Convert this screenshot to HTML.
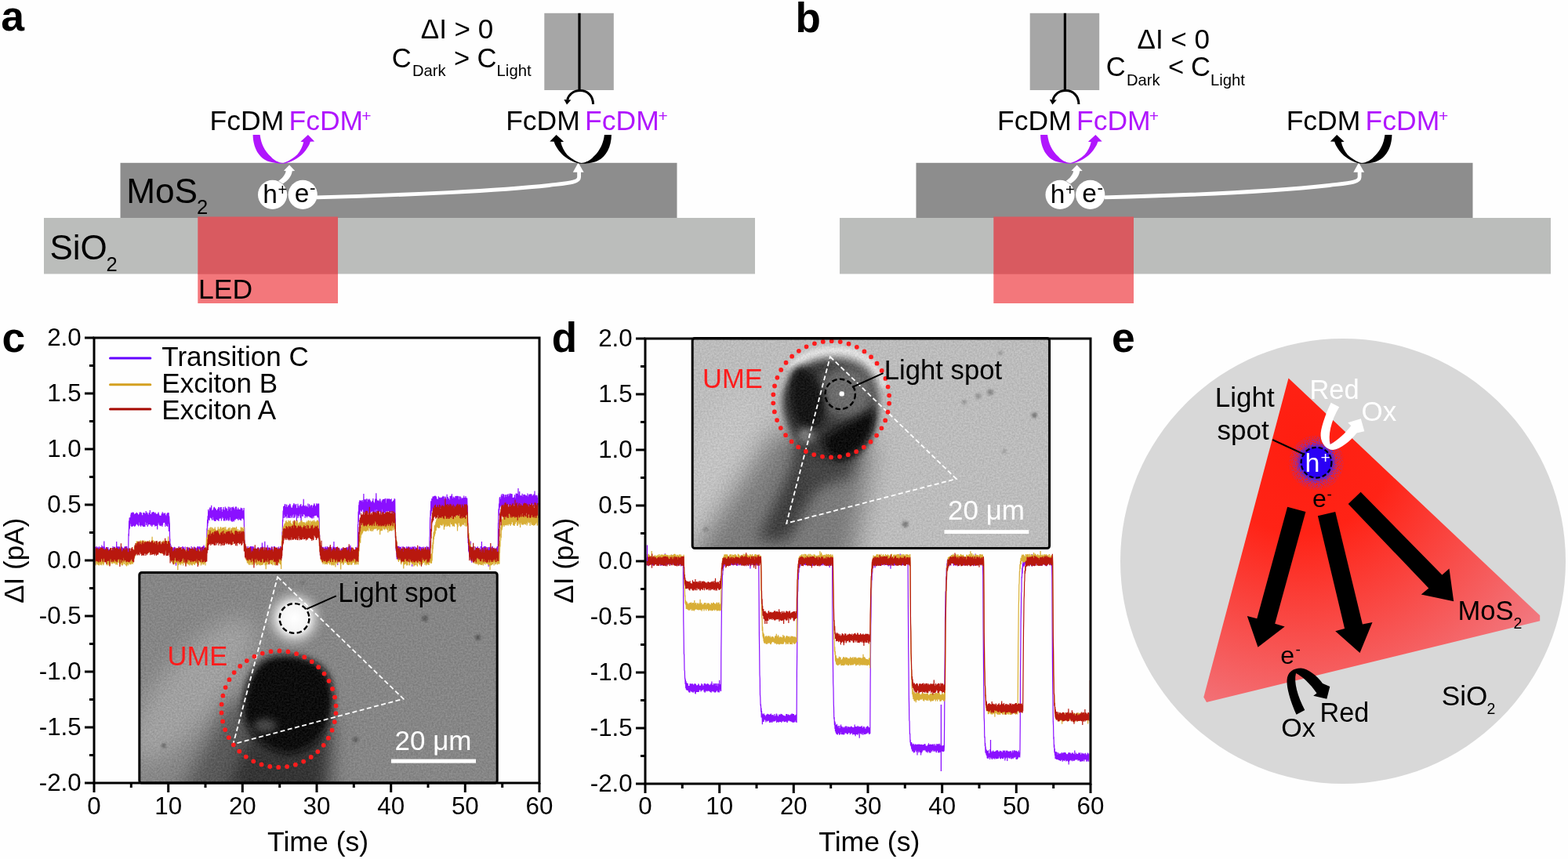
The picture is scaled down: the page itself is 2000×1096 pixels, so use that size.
<!DOCTYPE html>
<html><head><meta charset="utf-8"><title>Figure</title>
<style>html,body{margin:0;padding:0;background:#fefefe;overflow:hidden}svg{display:block}text{font-family:"Liberation Sans",Arial,sans-serif}</style>
</head><body>
<svg width="2000" height="1096" viewBox="0 0 2000 1096">
<defs>
<clipPath id="clipc"><rect x="121.5" y="432.5" width="565" height="565"/></clipPath>
<clipPath id="clipd"><rect x="824.5" y="433.5" width="565" height="565"/></clipPath>
<clipPath id="clipic"><rect x="177.8" y="730.4" width="456.4" height="268.6"/></clipPath>
<clipPath id="clipid"><rect x="883.2" y="431.4" width="455.4" height="268.2"/></clipPath>
<filter id="blur14" x="-50%" y="-50%" width="200%" height="200%"><feGaussianBlur stdDeviation="14"/></filter>
<filter id="blur15" x="-50%" y="-50%" width="200%" height="200%"><feGaussianBlur stdDeviation="1.5"/></filter>
<filter id="blur3" x="-50%" y="-50%" width="200%" height="200%"><feGaussianBlur stdDeviation="3"/></filter>
<filter id="blur5" x="-50%" y="-50%" width="200%" height="200%"><feGaussianBlur stdDeviation="5"/></filter>
<filter id="blur7" x="-50%" y="-50%" width="200%" height="200%"><feGaussianBlur stdDeviation="7"/></filter>
<filter id="blur9" x="-50%" y="-50%" width="200%" height="200%"><feGaussianBlur stdDeviation="9"/></filter>
<filter id="blur10" x="-50%" y="-50%" width="200%" height="200%"><feGaussianBlur stdDeviation="10"/></filter>
<filter id="blur12" x="-50%" y="-50%" width="200%" height="200%"><feGaussianBlur stdDeviation="12"/></filter>
<filter id="blur4" x="-50%" y="-50%" width="200%" height="200%"><feGaussianBlur stdDeviation="4"/></filter>
<filter id="blur6" x="-50%" y="-50%" width="200%" height="200%"><feGaussianBlur stdDeviation="6"/></filter>
<filter id="blur8" x="-50%" y="-50%" width="200%" height="200%"><feGaussianBlur stdDeviation="8"/></filter>
<filter id="blur16" x="-50%" y="-50%" width="200%" height="200%"><feGaussianBlur stdDeviation="16"/></filter>
<filter id="blur18" x="-50%" y="-50%" width="200%" height="200%"><feGaussianBlur stdDeviation="18"/></filter>
<filter id="blur25" x="-50%" y="-50%" width="200%" height="200%"><feGaussianBlur stdDeviation="25"/></filter>
<filter id="grain" x="0" y="0" width="100%" height="100%" color-interpolation-filters="sRGB"><feTurbulence type="fractalNoise" baseFrequency="0.45" numOctaves="2" seed="5" result="n"/><feColorMatrix in="n" type="matrix" values="1 0 0 0 0  1 0 0 0 0  1 0 0 0 0  0 0 0 0 1" result="g"/><feComposite in="SourceGraphic" in2="g" operator="arithmetic" k1="0" k2="1" k3="0.16" k4="-0.08"/></filter>
<filter id="speck" x="-10%" y="-10%" width="120%" height="120%"><feTurbulence type="fractalNoise" baseFrequency="0.9" numOctaves="1" seed="11" result="n"/><feComponentTransfer in="n" result="m"><feFuncA type="discrete" tableValues="0 0 1 1"/></feComponentTransfer><feComposite in="SourceGraphic" in2="m" operator="in"/></filter>
<radialGradient id="hglow2"><stop offset="0" stop-color="#4a28f0"/><stop offset="0.6" stop-color="#5a30e0"/><stop offset="1" stop-color="#7a38c8" stop-opacity="0.15"/></radialGradient>
<radialGradient id="hglow3"><stop offset="0.7" stop-color="#3a1ef4"/><stop offset="1" stop-color="#4a28e8" stop-opacity="0"/></radialGradient>
<filter id="noise"><feTurbulence type="fractalNoise" baseFrequency="0.9" numOctaves="1" seed="3"/><feColorMatrix type="saturate" values="0"/></filter>
<radialGradient id="glowc"><stop offset="0" stop-color="#fff"/><stop offset="0.45" stop-color="#f4f4f4"/><stop offset="1" stop-color="#8c8c8c" stop-opacity="0"/></radialGradient>
<radialGradient id="hglow"><stop offset="0.5" stop-color="#3a2af0"/><stop offset="0.62" stop-color="#6236d8" stop-opacity="0.95"/><stop offset="0.85" stop-color="#8a3cb8" stop-opacity="0.6"/><stop offset="1" stop-color="#ff2010" stop-opacity="0"/></radialGradient>
<radialGradient id="trig" cx="1660" cy="560" r="400" gradientUnits="userSpaceOnUse"><stop offset="0" stop-color="#ff1e10"/><stop offset="0.3" stop-color="#ff2316"/><stop offset="1" stop-color="#f07f88"/></radialGradient>
</defs>
<rect width="2000" height="1096" fill="#fefefe"/>
<text x="1.3" y="39" font-size="53.5" fill="#000" font-weight="bold">a</text>
<rect x="56" y="278" width="907" height="71.5" fill="#bbbdbb"/>
<rect x="153.5" y="207.8" width="710" height="70.2" fill="#8d8d8d"/>
<rect x="252.3" y="348.5" width="178.7" height="38.5" fill="#f3777b"/>
<rect x="252.3" y="276.5" width="178.7" height="73.2" fill="#d95a60"/>
<path d="M404,251.8 C520,249 640,243 700,236.5 C725,233.5 738.6,233 738.6,226 L738.6,218" fill="none" stroke="#fff" stroke-width="4.8"/>
<polygon points="737.6,207.5 730.8,219.8 744.6,219.8" fill="#fff"/>
<circle cx="347.6" cy="248.4" r="18.6" fill="#fff"/>
<circle cx="386.2" cy="248.4" r="18.6" fill="#fff"/>
<text x="335.2" y="259.4" font-size="33.5" fill="#000">h</text>
<text x="354.4" y="248.6" font-size="20" fill="#000">+</text>
<text x="375.8" y="258.2" font-size="33.5" fill="#000">e</text>
<text x="395.0" y="246.6" font-size="22.5" fill="#000">-</text>
<path d="M369.1,210.4 L376.2,218.0 L372.7,218.2 C372.0,225.0 366.5,231.0 360.7,234.5 L355.2,230.8 C359.5,228.0 364.0,223.0 364.7,218.2 L362.0,217.8 Z" fill="#fff"/>
<path d="M322.6,171.9 C322.8,188.0 330.0,202.0 343.5,206.3 C349.0,208.0 355.0,208.7 360.1,208.7 C368.0,208.5 377.0,204.0 383.9,198.3 C390.0,192.5 394.5,186.0 395.8,180.7 L401.2,180.4 L392.9,171.9 L383.4,180.7 L387.2,181.2 C386.0,187.0 383.0,193.0 379.1,197.3 C374.0,202.0 367.0,206.5 361.1,208.0 C355.0,207.5 349.0,204.0 345.9,200.2 C337.0,192.0 333.0,183.0 331.6,171.9 Z" fill="#b016fd"/>
<text x="267.6" y="165.7" font-size="35.5" fill="#000">FcDM</text>
<text x="368.5" y="165.7" font-size="35.5" fill="#b016fd">FcDM</text>
<text x="461.3" y="155.2" font-size="21" fill="#b016fd">+</text>
<text x="645.2" y="165.6" font-size="35.5" fill="#000">FcDM</text>
<text x="746.1" y="165.6" font-size="35.5" fill="#b016fd">FcDM</text>
<text x="839.4" y="155.2" font-size="21" fill="#b016fd">+</text>
<path d="M779.9,172.0 C779.7,188.1 772.5,202.1 759.0,206.4 C753.5,208.1 747.5,208.8 742.4,208.8 C734.5,208.6 725.5,204.1 718.6,198.4 C712.5,192.6 708.0,186.1 706.7,180.8 L701.3,180.5 L709.6,172.0 L719.1,180.8 L715.3,181.3 C716.5,187.1 719.5,193.1 723.4,197.4 C728.5,202.1 735.5,206.6 741.4,208.1 C747.5,207.6 753.5,204.1 756.6,200.3 C765.5,192.1 769.5,183.1 770.9,172.0 Z" fill="#000"/>
<rect x="694.3" y="16.8" width="88.5" height="98.2" fill="#a6a6a6"/>
<line x1="739.0" y1="16.8" x2="739.0" y2="116" stroke="#000" stroke-width="3.2"/>
<path d="M756.5,133 C756.5,122 749.0,115.6 740.0,115.6 C731.0,115.6 725.0,121 723.8,127.5" fill="none" stroke="#000" stroke-width="3"/>
<polygon points="719.4,127 723.0,133.5 728.4,127.4" fill="#000"/>
<text x="161.2" y="258.7" font-size="44.2" fill="#000">MoS</text>
<text x="251" y="273.2" font-size="25.5" fill="#000">2</text>
<text x="63.4" y="330.9" font-size="44" fill="#000">SiO</text>
<text x="135.6" y="345.8" font-size="25.5" fill="#000">2</text>
<text x="253" y="380.7" font-size="35.5" fill="#000">LED</text>
<text x="536.8" y="49" font-size="35" fill="#000">ΔI &gt; 0</text>
<text x="499.8" y="86" font-size="34.5" fill="#000">C</text>
<text x="526" y="96.9" font-size="20.2" fill="#000">Dark</text>
<text x="579" y="86" font-size="34.5" fill="#000">&gt;</text>
<text x="608.6" y="86" font-size="34.5" fill="#000">C</text>
<text x="633.6" y="96.9" font-size="20.3" fill="#000">Light</text>
<text x="1014.5" y="41.3" font-size="53" fill="#000" font-weight="bold">b</text>
<rect x="1071" y="278" width="907" height="71.5" fill="#bbbdbb"/>
<rect x="1168.5" y="207.8" width="710" height="70.2" fill="#8d8d8d"/>
<rect x="1267.3" y="348.5" width="178.7" height="38.5" fill="#f3777b"/>
<rect x="1267.3" y="276.5" width="178.7" height="73.2" fill="#d95a60"/>
<path d="M1408.5,251.8 C1524.5,249 1635.5,243 1695.5,236.5 C1720.5,233.5 1734.1,233 1734.1,226 L1734.1,218" fill="none" stroke="#fff" stroke-width="4.8"/>
<polygon points="1733.1,207.5 1726.3,219.8 1740.1,219.8" fill="#fff"/>
<circle cx="1352.1" cy="248.4" r="18.6" fill="#fff"/>
<circle cx="1390.7" cy="248.4" r="18.6" fill="#fff"/>
<text x="1339.7" y="259.4" font-size="33.5" fill="#000">h</text>
<text x="1358.9" y="248.6" font-size="20" fill="#000">+</text>
<text x="1380.3" y="258.2" font-size="33.5" fill="#000">e</text>
<text x="1399.5" y="246.6" font-size="22.5" fill="#000">-</text>
<path d="M1373.6,210.4 L1380.7,218.0 L1377.2,218.2 C1376.5,225.0 1371.0,231.0 1365.2,234.5 L1359.7,230.8 C1364.0,228.0 1368.5,223.0 1369.2,218.2 L1366.5,217.8 Z" fill="#fff"/>
<path d="M1327.1,171.9 C1327.3,188.0 1334.5,202.0 1348.0,206.3 C1353.5,208.0 1359.5,208.7 1364.6,208.7 C1372.5,208.5 1381.5,204.0 1388.4,198.3 C1394.5,192.5 1399.0,186.0 1400.3,180.7 L1405.7,180.4 L1397.4,171.9 L1387.9,180.7 L1391.7,181.2 C1390.5,187.0 1387.5,193.0 1383.6,197.3 C1378.5,202.0 1371.5,206.5 1365.6,208.0 C1359.5,207.5 1353.5,204.0 1350.4,200.2 C1341.5,192.0 1337.5,183.0 1336.1,171.9 Z" fill="#b016fd"/>
<text x="1272.1" y="165.7" font-size="35.5" fill="#000">FcDM</text>
<text x="1373.0" y="165.7" font-size="35.5" fill="#b016fd">FcDM</text>
<text x="1465.8" y="155.2" font-size="21" fill="#b016fd">+</text>
<text x="1640.7" y="165.6" font-size="35.5" fill="#000">FcDM</text>
<text x="1741.6" y="165.6" font-size="35.5" fill="#b016fd">FcDM</text>
<text x="1834.9" y="155.2" font-size="21" fill="#b016fd">+</text>
<path d="M1775.4,172.0 C1775.2,188.1 1768.0,202.1 1754.5,206.4 C1749.0,208.1 1743.0,208.8 1737.9,208.8 C1730.0,208.6 1721.0,204.1 1714.1,198.4 C1708.0,192.6 1703.5,186.1 1702.2,180.8 L1696.8,180.5 L1705.1,172.0 L1714.6,180.8 L1710.8,181.3 C1712.0,187.1 1715.0,193.1 1718.9,197.4 C1724.0,202.1 1731.0,206.6 1736.9,208.1 C1743.0,207.6 1749.0,204.1 1752.1,200.3 C1761.0,192.1 1765.0,183.1 1766.4,172.0 Z" fill="#000"/>
<rect x="1313.7" y="16.8" width="88.5" height="98.2" fill="#a6a6a6"/>
<line x1="1358.4" y1="16.8" x2="1358.4" y2="116" stroke="#000" stroke-width="3.2"/>
<path d="M1375.9,133 C1375.9,122 1368.4,115.6 1359.4,115.6 C1350.4,115.6 1344.4,121 1343.2,127.5" fill="none" stroke="#000" stroke-width="3"/>
<polygon points="1338.8000000000002,127 1342.4,133.5 1347.8000000000002,127.4" fill="#000"/>
<text x="1450.5" y="61.9" font-size="35" fill="#000">ΔI &lt; 0</text>
<text x="1410.7" y="96.7" font-size="34.5" fill="#000">C</text>
<text x="1437" y="108.5" font-size="20.2" fill="#000">Dark</text>
<text x="1490" y="96.7" font-size="34.5" fill="#000">&lt;</text>
<text x="1519" y="96.7" font-size="34.5" fill="#000">C</text>
<text x="1544" y="108.5" font-size="20.3" fill="#000">Light</text>
<text x="2.6" y="448.6" font-size="53.5" fill="#000" font-weight="bold">c</text>
<g clip-path="url(#clipc)">
<polyline points="120.0,710.3 120.3,698.2 120.6,713.0 120.9,698.9 121.1,712.4 121.4,697.8 121.7,720.5 122.0,700.3 122.3,711.1 122.6,697.4 122.8,709.3 123.1,697.2 123.4,711.0 123.7,703.6 124.0,712.6 124.3,701.8 124.5,711.0 124.8,697.8 125.1,715.2 125.4,699.0 125.7,716.1 126.0,702.7 126.2,714.5 126.5,697.2 126.8,715.1 127.1,701.3 127.4,715.4 127.7,699.9 128.0,709.4 128.2,698.0 128.5,710.7 128.8,698.6 129.1,712.2 129.4,699.9 129.7,713.2 129.9,695.4 130.2,709.5 130.5,696.9 130.8,712.3 131.1,699.9 131.4,714.8 131.6,697.6 131.9,713.1 132.2,699.4 132.5,711.4 132.8,690.5 133.1,714.9 133.3,697.5 133.6,715.0 133.9,699.5 134.2,709.6 134.5,699.4 134.8,713.1 135.1,700.9 135.3,713.3 135.6,699.2 135.9,709.3 136.2,702.3 136.5,715.3 136.8,698.0 137.0,711.3 137.3,698.8 137.6,711.0 137.9,698.3 138.2,710.1 138.5,701.0 138.7,710.6 139.0,702.3 139.3,714.4 139.6,701.1 139.9,709.3 140.2,700.4 140.4,710.1 140.7,699.8 141.0,713.7 141.3,701.8 141.6,710.5 141.9,702.4 142.2,714.2 142.4,701.9 142.7,714.9 143.0,701.9 143.3,712.3 143.6,701.1 143.9,709.6 144.1,697.0 144.4,711.7 144.7,701.2 145.0,714.6 145.3,698.3 145.6,715.4 145.8,697.9 146.1,713.5 146.4,697.6 146.7,714.4 147.0,700.7 147.3,710.9 147.5,700.4 147.8,710.1 148.1,701.3 148.4,711.8 148.7,691.1 149.0,710.9 149.3,696.9 149.5,711.9 149.8,698.8 150.1,715.7 150.4,697.5 150.7,712.9 151.0,701.8 151.2,709.9 151.5,697.3 151.8,714.7 152.1,697.8 152.4,712.0 152.7,697.6 152.9,715.9 153.2,702.6 153.5,710.1 153.8,703.2 154.1,714.9 154.4,701.0 154.6,714.8 154.9,699.4 155.2,709.9 155.5,697.5 155.8,715.7 156.1,701.5 156.4,721.2 156.6,698.8 156.9,710.2 157.2,703.5 157.5,716.1 157.8,702.8 158.1,711.2 158.3,702.9 158.6,712.2 158.9,697.4 159.2,711.3 159.5,702.9 159.8,711.5 160.0,696.9 160.3,713.7 160.6,701.2 160.9,715.6 161.2,697.0 161.5,711.0 161.7,696.9 162.0,714.3 162.3,701.6 162.6,711.7 162.9,703.1 163.2,716.0 163.5,698.9 163.7,706.1 164.0,680.8 164.3,684.0 164.6,664.6 164.9,675.5 165.2,660.6 165.4,674.2 165.7,660.2 166.0,671.1 166.3,660.3 166.6,668.4 166.9,656.5 167.1,666.9 167.4,654.3 167.7,672.0 168.0,654.3 168.3,671.1 168.6,658.9 168.8,671.7 169.1,653.5 169.4,671.6 169.7,657.2 170.0,671.0 170.3,653.7 170.6,670.3 170.8,656.3 171.1,670.4 171.4,657.6 171.7,671.9 172.0,655.6 172.3,671.2 172.5,656.6 172.8,670.7 173.1,654.9 173.4,669.5 173.7,656.9 174.0,666.2 174.2,653.8 174.5,668.4 174.8,654.5 175.1,669.2 175.4,654.9 175.7,670.2 175.9,657.7 176.2,668.9 176.5,656.5 176.8,671.6 177.1,657.5 177.4,665.5 177.7,655.8 177.9,666.5 178.2,653.5 178.5,670.3 178.8,656.8 179.1,670.5 179.4,653.6 179.6,671.9 179.9,658.2 180.2,667.0 180.5,654.2 180.8,670.2 181.1,656.9 181.3,666.6 181.6,659.5 181.9,671.0 182.2,657.5 182.5,671.9 182.8,654.1 183.0,670.1 183.3,656.3 183.6,671.9 183.9,654.0 184.2,666.6 184.5,658.7 184.8,671.9 185.0,655.2 185.3,666.2 185.6,657.7 185.9,665.0 186.2,652.0 186.5,669.9 186.7,653.8 187.0,667.5 187.3,657.5 187.6,667.3 187.9,654.0 188.2,672.0 188.4,655.9 188.7,670.7 189.0,656.7 189.3,666.1 189.6,658.7 189.9,669.3 190.1,654.2 190.4,666.3 190.7,655.4 191.0,669.1 191.3,651.0 191.6,668.6 191.9,657.2 192.1,670.8 192.4,655.9 192.7,668.2 193.0,660.0 193.3,669.7 193.6,653.8 193.8,672.0 194.1,653.8 194.4,670.6 194.7,657.2 195.0,669.8 195.3,652.9 195.5,668.3 195.8,656.5 196.1,669.6 196.4,653.4 196.7,669.0 197.0,655.0 197.2,669.9 197.5,655.0 197.8,671.7 198.1,653.7 198.4,671.0 198.7,656.9 199.0,670.4 199.2,655.6 199.5,671.1 199.8,656.1 200.1,669.1 200.4,656.4 200.7,675.4 200.9,655.8 201.2,670.3 201.5,654.7 201.8,666.9 202.1,653.5 202.4,665.8 202.6,655.7 202.9,669.1 203.2,658.3 203.5,670.4 203.8,657.5 204.1,667.1 204.3,658.3 204.6,671.3 204.9,657.9 205.2,670.4 205.5,659.6 205.8,669.8 206.1,656.3 206.3,670.8 206.6,655.1 206.9,672.0 207.2,653.3 207.5,669.7 207.8,655.7 208.0,666.4 208.3,656.8 208.6,667.2 208.9,654.5 209.2,666.1 209.5,655.9 209.7,666.8 210.0,655.2 210.3,667.0 210.6,654.6 210.9,671.9 211.2,657.0 211.4,666.2 211.7,658.9 212.0,669.0 212.3,658.3 212.6,671.1 212.9,655.4 213.2,670.4 213.4,655.3 213.7,672.1 214.0,654.0 214.3,667.8 214.6,655.4 214.9,668.4 215.1,654.2 215.4,678.0 215.7,658.5 216.0,665.6 216.3,668.4 216.6,691.6 216.8,687.4 217.1,704.1 217.4,693.8 217.7,707.1 218.0,695.4 218.3,711.8 218.5,697.1 218.8,712.7 219.1,698.2 219.4,709.1 219.7,698.9 220.0,713.5 220.3,699.6 220.5,711.9 220.8,702.0 221.1,712.5 221.4,698.5 221.7,714.4 222.0,701.6 222.2,710.5 222.5,697.7 222.8,709.6 223.1,697.9 223.4,712.2 223.7,703.5 223.9,712.7 224.2,700.6 224.5,721.7 224.8,699.7 225.1,715.0 225.4,703.6 225.6,714.5 225.9,702.7 226.2,715.0 226.5,701.3 226.8,711.2 227.1,701.1 227.4,714.9 227.6,699.4 227.9,714.0 228.2,696.9 228.5,715.2 228.8,699.7 229.1,715.1 229.3,702.4 229.6,713.2 229.9,701.0 230.2,709.5 230.5,698.9 230.8,711.6 231.0,701.1 231.3,713.1 231.6,702.5 231.9,711.8 232.2,703.2 232.5,712.9 232.7,697.2 233.0,715.0 233.3,697.3 233.6,710.3 233.9,699.4 234.2,714.9 234.5,698.3 234.7,715.8 235.0,700.6 235.3,716.0 235.6,702.3 235.9,714.3 236.2,697.4 236.4,712.5 236.7,703.4 237.0,713.4 237.3,702.9 237.6,713.9 237.9,703.1 238.1,715.3 238.4,702.3 238.7,709.2 239.0,697.7 239.3,711.5 239.6,699.3 239.8,715.5 240.1,698.8 240.4,715.8 240.7,698.5 241.0,716.1 241.3,702.1 241.6,714.8 241.8,700.0 242.1,715.4 242.4,699.4 242.7,715.3 243.0,702.1 243.3,719.7 243.5,702.7 243.8,715.5 244.1,697.0 244.4,713.5 244.7,699.7 245.0,715.1 245.2,700.5 245.5,711.7 245.8,699.9 246.1,713.4 246.4,702.4 246.7,716.1 246.9,699.5 247.2,712.4 247.5,697.4 247.8,715.5 248.1,697.7 248.4,712.8 248.7,700.8 248.9,712.9 249.2,700.2 249.5,712.1 249.8,703.8 250.1,711.4 250.4,699.3 250.6,716.1 250.9,699.8 251.2,714.3 251.5,698.1 251.8,714.4 252.1,697.0 252.3,710.0 252.6,697.0 252.9,709.3 253.2,700.0 253.5,712.4 253.8,697.8 254.0,713.8 254.3,699.6 254.6,712.0 254.9,697.0 255.2,713.4 255.5,698.8 255.8,711.4 256.0,700.0 256.3,715.3 256.6,698.8 256.9,712.3 257.2,701.3 257.5,715.6 257.7,697.7 258.0,712.3 258.3,702.1 258.6,712.5 258.9,696.9 259.2,713.0 259.4,699.6 259.7,714.7 260.0,695.5 260.3,716.1 260.6,697.3 260.9,711.4 261.1,700.3 261.4,715.2 261.7,701.5 262.0,712.5 262.3,702.1 262.6,713.7 262.9,699.7 263.1,710.5 263.4,701.5 263.7,695.6 264.0,674.2 264.3,677.9 264.6,663.1 264.8,671.6 265.1,658.2 265.4,667.5 265.7,650.0 266.0,663.1 266.3,651.9 266.5,660.8 266.8,653.2 267.1,664.3 267.4,648.6 267.7,660.7 268.0,647.2 268.2,660.4 268.5,650.9 268.8,659.5 269.1,648.4 269.4,661.6 269.7,644.7 270.0,661.5 270.2,651.3 270.5,663.8 270.8,652.7 271.1,659.7 271.4,651.1 271.7,658.9 271.9,650.2 272.2,663.5 272.5,648.3 272.8,662.7 273.1,646.7 273.4,664.6 273.6,647.3 273.9,665.0 274.2,648.3 274.5,662.8 274.8,649.3 275.1,665.1 275.3,649.2 275.6,662.7 275.9,651.5 276.2,662.9 276.5,651.1 276.8,662.5 277.1,652.5 277.3,663.6 277.6,649.2 277.9,664.1 278.2,653.2 278.5,663.8 278.8,646.9 279.0,665.0 279.3,647.3 279.6,661.5 279.9,652.0 280.2,661.8 280.5,652.3 280.7,661.0 281.0,647.6 281.3,658.6 281.6,646.9 281.9,661.8 282.2,647.1 282.4,664.4 282.7,650.0 283.0,662.0 283.3,653.0 283.6,659.0 283.9,653.6 284.2,659.7 284.4,649.4 284.7,661.0 285.0,646.9 285.3,664.6 285.6,651.3 285.9,660.8 286.1,650.5 286.4,664.4 286.7,650.8 287.0,661.6 287.3,646.4 287.6,659.2 287.8,650.3 288.1,664.6 288.4,648.2 288.7,662.8 289.0,648.4 289.3,660.3 289.5,649.6 289.8,664.0 290.1,653.3 290.4,661.8 290.7,651.9 291.0,659.6 291.3,646.6 291.5,664.4 291.8,649.7 292.1,664.4 292.4,651.7 292.7,662.9 293.0,646.8 293.2,660.1 293.5,649.9 293.8,659.4 294.1,647.8 294.4,664.5 294.7,652.0 294.9,664.7 295.2,653.4 295.5,663.5 295.8,646.9 296.1,666.0 296.4,647.6 296.6,665.2 296.9,650.6 297.2,664.4 297.5,646.6 297.8,663.2 298.1,650.0 298.4,665.4 298.6,648.2 298.9,663.6 299.2,651.3 299.5,659.8 299.8,650.3 300.1,663.6 300.3,646.5 300.6,658.7 300.9,650.8 301.2,662.1 301.5,646.5 301.8,661.4 302.0,649.8 302.3,662.1 302.6,650.2 302.9,660.5 303.2,650.5 303.5,663.1 303.7,647.7 304.0,664.1 304.3,652.1 304.6,661.6 304.9,649.7 305.2,659.9 305.5,651.7 305.7,662.9 306.0,650.0 306.3,663.2 306.6,650.2 306.9,663.5 307.2,647.7 307.4,664.2 307.7,648.3 308.0,659.9 308.3,652.8 308.6,661.8 308.9,648.5 309.1,661.7 309.4,651.5 309.7,661.6 310.0,652.6 310.3,660.6 310.6,651.0 310.8,663.2 311.1,647.9 311.4,670.4 311.7,674.2 312.0,697.3 312.3,690.1 312.6,705.2 312.8,696.0 313.1,706.1 313.4,695.7 313.7,710.3 314.0,701.3 314.3,713.8 314.5,702.1 314.8,714.3 315.1,699.7 315.4,711.2 315.7,698.7 316.0,713.0 316.2,696.9 316.5,712.5 316.8,702.9 317.1,710.3 317.4,700.2 317.7,711.0 317.9,699.6 318.2,715.6 318.5,698.8 318.8,712.5 319.1,697.1 319.4,710.8 319.7,699.8 319.9,712.1 320.2,696.9 320.5,709.7 320.8,700.2 321.1,710.7 321.4,697.4 321.6,709.5 321.9,696.9 322.2,712.3 322.5,698.0 322.8,714.0 323.1,697.4 323.3,715.8 323.6,697.4 323.9,712.6 324.2,701.2 324.5,713.6 324.8,701.5 325.0,714.9 325.3,700.5 325.6,714.9 325.9,702.8 326.2,709.1 326.5,701.0 326.8,713.4 327.0,699.4 327.3,713.9 327.6,700.3 327.9,721.0 328.2,702.4 328.5,711.0 328.7,702.5 329.0,711.8 329.3,697.9 329.6,715.3 329.9,703.5 330.2,713.9 330.4,701.6 330.7,713.4 331.0,699.1 331.3,710.7 331.6,701.5 331.9,711.5 332.1,701.6 332.4,711.5 332.7,698.4 333.0,715.4 333.3,697.9 333.6,711.8 333.9,697.7 334.1,712.7 334.4,692.6 334.7,711.8 335.0,697.5 335.3,713.6 335.6,697.6 335.8,716.0 336.1,702.8 336.4,713.6 336.7,701.6 337.0,709.6 337.3,701.0 337.5,714.5 337.8,690.7 338.1,716.0 338.4,701.7 338.7,709.1 339.0,703.1 339.2,709.4 339.5,702.0 339.8,713.0 340.1,700.6 340.4,710.9 340.7,698.7 341.0,715.7 341.2,695.6 341.5,709.2 341.8,699.1 342.1,715.9 342.4,698.6 342.7,709.8 342.9,698.6 343.2,715.9 343.5,699.5 343.8,713.1 344.1,698.7 344.4,715.3 344.6,700.1 344.9,714.2 345.2,699.5 345.5,713.8 345.8,701.2 346.1,709.5 346.3,697.5 346.6,712.7 346.9,697.3 347.2,713.9 347.5,700.3 347.8,712.1 348.1,703.9 348.3,714.6 348.6,703.8 348.9,713.6 349.2,697.6 349.5,709.9 349.8,696.9 350.0,710.3 350.3,697.1 350.6,711.1 350.9,698.6 351.2,714.7 351.5,699.4 351.7,711.6 352.0,699.7 352.3,715.4 352.6,702.1 352.9,713.8 353.2,699.1 353.4,712.3 353.7,702.5 354.0,714.6 354.3,704.0 354.6,711.7 354.9,698.8 355.2,712.2 355.4,697.6 355.7,711.8 356.0,699.4 356.3,713.4 356.6,703.9 356.9,709.9 357.1,699.9 357.4,714.6 357.7,696.9 358.0,712.2 358.3,702.9 358.6,713.1 358.8,697.3 359.1,712.0 359.4,703.3 359.7,703.2 360.0,678.5 360.3,681.1 360.5,663.1 360.8,665.7 361.1,651.4 361.4,661.0 361.7,645.9 362.0,660.9 362.3,647.9 362.5,655.5 362.8,645.0 363.1,656.8 363.4,643.0 363.7,660.5 364.0,648.0 364.2,655.9 364.5,646.8 364.8,659.0 365.1,643.4 365.4,655.6 365.7,643.7 365.9,661.2 366.2,647.2 366.5,656.6 366.8,647.0 367.1,656.6 367.4,646.3 367.6,660.7 367.9,644.5 368.2,657.6 368.5,647.0 368.8,660.7 369.1,644.6 369.4,655.1 369.6,642.8 369.9,661.0 370.2,643.6 370.5,658.1 370.8,645.9 371.1,654.5 371.3,647.7 371.6,660.7 371.9,647.8 372.2,659.2 372.5,648.4 372.8,656.5 373.0,647.6 373.3,657.1 373.6,644.9 373.9,661.0 374.2,644.0 374.5,656.1 374.7,642.2 375.0,656.2 375.3,642.4 375.6,660.7 375.9,643.4 376.2,659.5 376.5,648.1 376.7,654.7 377.0,644.5 377.3,656.3 377.6,643.0 377.9,657.7 378.2,648.7 378.4,665.1 378.7,648.3 379.0,657.5 379.3,647.9 379.6,657.1 379.9,642.7 380.1,660.9 380.4,645.7 380.7,658.9 381.0,645.2 381.3,657.9 381.6,647.4 381.8,655.7 382.1,647.7 382.4,654.9 382.7,644.5 383.0,660.7 383.3,644.3 383.6,657.3 383.8,643.1 384.1,668.1 384.4,646.5 384.7,654.7 385.0,646.1 385.3,655.7 385.5,646.5 385.8,658.8 386.1,644.6 386.4,658.9 386.7,645.8 387.0,655.0 387.2,636.8 387.5,656.1 387.8,646.5 388.1,656.6 388.4,645.3 388.7,656.9 388.9,648.8 389.2,661.0 389.5,646.2 389.8,658.8 390.1,644.5 390.4,657.2 390.7,645.9 390.9,658.8 391.2,645.9 391.5,660.5 391.8,647.1 392.1,656.6 392.4,648.9 392.6,658.8 392.9,642.6 393.2,658.8 393.5,649.2 393.8,658.8 394.1,647.7 394.3,654.9 394.6,643.2 394.9,659.6 395.2,646.6 395.5,660.0 395.8,647.7 396.0,660.5 396.3,644.8 396.6,656.0 396.9,649.2 397.2,660.7 397.5,644.2 397.8,661.4 398.0,648.0 398.3,661.4 398.6,647.6 398.9,659.1 399.2,644.9 399.5,658.1 399.7,647.6 400.0,661.2 400.3,643.4 400.6,658.7 400.9,642.3 401.2,657.6 401.4,643.7 401.7,658.0 402.0,645.6 402.3,654.9 402.6,648.3 402.9,658.0 403.1,645.6 403.4,654.7 403.7,642.3 404.0,657.6 404.3,643.5 404.6,659.0 404.9,643.5 405.1,660.3 405.4,642.6 405.7,660.6 406.0,642.8 406.3,654.9 406.6,642.6 406.8,658.4 407.1,662.1 407.4,689.7 407.7,682.3 408.0,698.2 408.3,690.8 408.5,709.3 408.8,696.3 409.1,707.4 409.4,701.5 409.7,710.9 410.0,697.0 410.2,712.4 410.5,698.0 410.8,713.3 411.1,698.1 411.4,712.8 411.7,700.1 412.0,713.2 412.2,697.8 412.5,713.4 412.8,698.5 413.1,713.6 413.4,700.0 413.7,713.3 413.9,701.7 414.2,713.7 414.5,698.1 414.8,714.7 415.1,697.2 415.4,712.1 415.6,698.9 415.9,714.9 416.2,701.4 416.5,712.4 416.8,698.8 417.1,712.3 417.3,697.1 417.6,714.8 417.9,701.9 418.2,713.8 418.5,698.6 418.8,712.6 419.1,703.0 419.3,710.5 419.6,698.4 419.9,714.7 420.2,700.3 420.5,713.9 420.8,697.0 421.0,711.0 421.3,697.0 421.6,716.0 421.9,699.4 422.2,710.3 422.5,698.0 422.7,711.8 423.0,700.9 423.3,711.2 423.6,700.0 423.9,709.9 424.2,699.5 424.4,712.1 424.7,697.4 425.0,709.7 425.3,699.7 425.6,714.5 425.9,691.0 426.2,714.3 426.4,697.9 426.7,714.9 427.0,698.2 427.3,712.4 427.6,698.5 427.9,713.2 428.1,698.8 428.4,712.2 428.7,698.3 429.0,712.1 429.3,702.0 429.6,714.5 429.8,698.8 430.1,713.8 430.4,703.4 430.7,721.1 431.0,700.4 431.3,712.5 431.5,698.7 431.8,715.6 432.1,699.4 432.4,712.7 432.7,699.8 433.0,712.0 433.3,701.7 433.5,712.6 433.8,703.8 434.1,711.6 434.4,703.7 434.7,714.9 435.0,700.4 435.2,713.7 435.5,699.7 435.8,715.8 436.1,699.6 436.4,715.6 436.7,700.1 436.9,712.6 437.2,699.3 437.5,712.2 437.8,702.9 438.1,710.1 438.4,703.0 438.6,715.6 438.9,701.2 439.2,713.5 439.5,700.6 439.8,713.7 440.1,699.1 440.4,711.4 440.6,701.1 440.9,712.9 441.2,701.5 441.5,714.4 441.8,699.3 442.1,713.1 442.3,698.3 442.6,712.5 442.9,699.3 443.2,713.9 443.5,703.3 443.8,716.0 444.0,697.8 444.3,715.2 444.6,699.6 444.9,710.1 445.2,696.8 445.5,712.7 445.7,697.3 446.0,710.3 446.3,699.7 446.6,713.9 446.9,695.7 447.2,711.4 447.5,698.7 447.7,710.2 448.0,699.2 448.3,714.3 448.6,700.3 448.9,713.3 449.2,698.8 449.4,709.6 449.7,703.5 450.0,711.7 450.3,702.4 450.6,715.3 450.9,700.9 451.1,713.5 451.4,702.6 451.7,711.3 452.0,701.6 452.3,709.2 452.6,701.4 452.8,712.6 453.1,702.2 453.4,709.4 453.7,697.9 454.0,715.2 454.3,700.9 454.6,716.1 454.8,701.8 455.1,712.1 455.4,701.1 455.7,711.3 456.0,696.9 456.3,696.6 456.5,669.0 456.8,670.3 457.1,652.5 457.4,665.7 457.7,644.3 458.0,656.2 458.2,640.6 458.5,656.7 458.8,638.2 459.1,655.5 459.4,640.0 459.7,649.5 459.9,638.7 460.2,651.3 460.5,638.4 460.8,651.7 461.1,639.5 461.4,652.9 461.7,641.5 461.9,650.6 462.2,638.0 462.5,650.4 462.8,640.5 463.1,649.0 463.4,641.4 463.6,653.8 463.9,630.0 464.2,653.0 464.5,637.1 464.8,653.6 465.1,636.9 465.3,661.5 465.6,638.3 465.9,653.7 466.2,638.9 466.5,653.4 466.8,636.9 467.0,648.8 467.3,636.3 467.6,652.7 467.9,642.4 468.2,648.4 468.5,640.2 468.8,652.8 469.0,636.6 469.3,652.8 469.6,640.6 469.9,655.0 470.2,637.6 470.5,655.0 470.7,640.1 471.0,647.9 471.3,636.5 471.6,649.4 471.9,641.3 472.2,649.9 472.4,638.5 472.7,654.2 473.0,640.1 473.3,649.9 473.6,640.9 473.9,653.3 474.1,640.9 474.4,652.1 474.7,639.2 475.0,648.7 475.3,638.7 475.6,657.2 475.9,636.0 476.1,652.3 476.4,640.7 476.7,652.7 477.0,640.5 477.3,654.1 477.6,642.8 477.8,654.9 478.1,642.1 478.4,650.6 478.7,636.5 479.0,649.8 479.3,638.0 479.5,658.4 479.8,629.2 480.1,650.0 480.4,636.7 480.7,648.0 481.0,642.7 481.2,654.6 481.5,638.6 481.8,648.0 482.1,640.5 482.4,654.3 482.7,638.6 483.0,649.7 483.2,639.6 483.5,653.0 483.8,642.3 484.1,650.0 484.4,636.5 484.7,652.6 484.9,636.5 485.2,653.2 485.5,639.5 485.8,650.4 486.1,641.1 486.4,654.8 486.6,642.7 486.9,649.8 487.2,638.6 487.5,648.9 487.8,642.3 488.1,660.7 488.3,636.9 488.6,648.4 488.9,639.0 489.2,654.0 489.5,636.9 489.8,654.9 490.1,636.5 490.3,650.9 490.6,638.8 490.9,654.0 491.2,636.7 491.5,654.7 491.8,635.8 492.0,651.2 492.3,641.8 492.6,652.6 492.9,642.1 493.2,652.6 493.5,637.2 493.7,652.8 494.0,636.1 494.3,652.1 494.6,637.7 494.9,652.6 495.2,636.7 495.4,649.6 495.7,637.5 496.0,651.9 496.3,636.0 496.6,654.1 496.9,642.0 497.2,653.0 497.4,637.3 497.7,651.1 498.0,637.1 498.3,653.9 498.6,637.8 498.9,652.4 499.1,636.2 499.4,648.1 499.7,640.2 500.0,652.8 500.3,642.7 500.6,650.1 500.8,639.9 501.1,658.9 501.4,638.8 501.7,655.0 502.0,639.6 502.3,647.9 502.5,638.1 502.8,654.1 503.1,636.1 503.4,654.9 503.7,636.7 504.0,660.5 504.3,662.8 504.5,686.5 504.8,685.6 505.1,702.6 505.4,692.1 505.7,707.4 506.0,696.0 506.2,713.4 506.5,699.6 506.8,713.1 507.1,698.7 507.4,711.5 507.7,697.1 507.9,714.0 508.2,698.7 508.5,715.3 508.8,696.8 509.1,714.6 509.4,697.8 509.6,710.5 509.9,702.3 510.2,713.4 510.5,698.1 510.8,709.6 511.1,698.4 511.4,713.7 511.6,697.4 511.9,715.8 512.2,703.1 512.5,712.7 512.8,700.4 513.1,714.5 513.3,701.6 513.6,709.6 513.9,697.0 514.2,713.7 514.5,699.4 514.8,710.4 515.0,697.8 515.3,710.9 515.6,701.8 515.9,715.6 516.2,698.2 516.5,715.3 516.7,700.6 517.0,714.4 517.3,703.2 517.6,710.5 517.9,700.3 518.2,712.6 518.5,697.3 518.7,709.9 519.0,698.1 519.3,713.4 519.6,699.3 519.9,709.3 520.2,698.5 520.4,713.3 520.7,697.0 521.0,711.4 521.3,702.9 521.6,711.2 521.9,701.2 522.1,709.3 522.4,699.0 522.7,714.8 523.0,697.4 523.3,712.6 523.6,698.2 523.8,715.5 524.1,698.7 524.4,709.6 524.7,700.3 525.0,714.0 525.3,698.4 525.6,722.8 525.8,697.3 526.1,713.7 526.4,701.0 526.7,709.5 527.0,698.0 527.3,713.8 527.5,702.3 527.8,714.5 528.1,697.0 528.4,714.2 528.7,700.7 529.0,712.5 529.2,702.3 529.5,716.1 529.8,697.4 530.1,713.1 530.4,699.2 530.7,712.3 530.9,698.4 531.2,714.6 531.5,699.0 531.8,711.5 532.1,703.9 532.4,714.2 532.7,702.9 532.9,712.8 533.2,703.5 533.5,715.0 533.8,703.5 534.1,709.5 534.4,697.9 534.6,715.2 534.9,697.0 535.2,715.1 535.5,699.4 535.8,715.3 536.1,697.8 536.3,713.1 536.6,698.8 536.9,715.3 537.2,698.0 537.5,709.1 537.8,702.9 538.0,715.4 538.3,701.4 538.6,715.7 538.9,698.1 539.2,710.2 539.5,701.9 539.8,714.8 540.0,697.5 540.3,712.1 540.6,703.0 540.9,714.2 541.2,700.8 541.5,711.0 541.7,702.6 542.0,713.8 542.3,697.8 542.6,710.3 542.9,700.4 543.2,710.2 543.4,701.3 543.7,710.9 544.0,697.8 544.3,712.0 544.6,696.8 544.9,710.4 545.1,703.0 545.4,711.5 545.7,700.4 546.0,714.1 546.3,698.8 546.6,710.6 546.9,697.8 547.1,714.6 547.4,702.5 547.7,715.7 548.0,686.6 548.3,683.7 548.6,660.3 548.8,665.3 549.1,651.3 549.4,658.4 549.7,639.3 550.0,655.4 550.3,639.2 550.5,652.3 550.8,636.1 551.1,652.1 551.4,637.5 551.7,645.6 552.0,633.4 552.2,648.5 552.5,633.4 552.8,649.2 553.1,637.8 553.4,650.2 553.7,633.1 554.0,649.3 554.2,637.9 554.5,650.6 554.8,632.6 555.1,647.8 555.4,632.7 555.7,649.5 555.9,636.6 556.2,644.8 556.5,633.5 556.8,649.4 557.1,638.0 557.4,647.2 557.6,636.6 557.9,648.9 558.2,637.0 558.5,650.3 558.8,637.9 559.1,649.6 559.3,633.2 559.6,646.0 559.9,638.9 560.2,651.4 560.5,635.1 560.8,647.9 561.1,634.5 561.3,648.4 561.6,637.1 561.9,648.0 562.2,635.2 562.5,644.6 562.8,637.7 563.0,650.0 563.3,634.5 563.6,650.3 563.9,637.7 564.2,647.7 564.5,634.1 564.7,647.6 565.0,632.7 565.3,647.3 565.6,635.4 565.9,648.5 566.2,633.4 566.4,649.4 566.7,637.2 567.0,651.5 567.3,638.6 567.6,649.6 567.9,633.5 568.2,646.7 568.4,634.5 568.7,649.7 569.0,636.7 569.3,646.1 569.6,637.4 569.9,651.9 570.1,630.7 570.4,647.6 570.7,637.8 571.0,645.2 571.3,634.1 571.6,648.6 571.8,637.3 572.1,646.5 572.4,635.9 572.7,651.3 573.0,638.8 573.3,647.7 573.5,637.8 573.8,648.1 574.1,633.1 574.4,646.2 574.7,633.3 575.0,647.0 575.3,632.4 575.5,649.3 575.8,633.9 576.1,646.4 576.4,630.3 576.7,646.4 577.0,636.5 577.2,649.4 577.5,636.1 577.8,649.3 578.1,633.6 578.4,649.8 578.7,636.7 578.9,647.8 579.2,634.5 579.5,646.9 579.8,635.4 580.1,649.0 580.4,638.7 580.6,650.2 580.9,633.0 581.2,651.1 581.5,634.1 581.8,650.2 582.1,632.8 582.4,647.5 582.6,635.4 582.9,648.0 583.2,632.9 583.5,649.9 583.8,632.7 584.1,649.8 584.3,633.0 584.6,649.1 584.9,637.2 585.2,647.6 585.5,637.3 585.8,647.4 586.0,633.3 586.3,647.6 586.6,634.9 586.9,648.5 587.2,633.6 587.5,651.4 587.7,639.4 588.0,650.5 588.3,636.6 588.6,645.7 588.9,634.7 589.2,650.4 589.5,637.5 589.7,649.1 590.0,636.0 590.3,646.1 590.6,635.3 590.9,649.6 591.2,637.5 591.4,651.3 591.7,632.4 592.0,650.0 592.3,636.2 592.6,648.6 592.9,634.9 593.1,648.8 593.4,634.9 593.7,648.8 594.0,632.9 594.3,647.5 594.6,634.9 594.8,649.5 595.1,638.8 595.4,651.5 595.7,635.5 596.0,648.2 596.3,645.4 596.6,673.7 596.8,675.1 597.1,693.0 597.4,690.3 597.7,703.8 598.0,691.8 598.3,705.5 598.5,695.8 598.8,709.7 599.1,702.5 599.4,710.9 599.7,702.2 600.0,714.1 600.2,690.4 600.5,712.8 600.8,699.4 601.1,715.6 601.4,700.3 601.7,717.8 601.9,699.0 602.2,714.0 602.5,697.8 602.8,715.2 603.1,697.8 603.4,710.4 603.7,699.9 603.9,713.1 604.2,697.1 604.5,712.1 604.8,700.5 605.1,715.9 605.4,702.1 605.6,711.9 605.9,697.2 606.2,715.0 606.5,698.0 606.8,715.6 607.1,702.7 607.3,716.1 607.6,699.1 607.9,713.2 608.2,699.6 608.5,710.4 608.8,698.1 609.0,710.4 609.3,697.2 609.6,716.0 609.9,700.6 610.2,709.9 610.5,703.9 610.8,712.1 611.0,699.1 611.3,714.9 611.6,701.3 611.9,714.6 612.2,701.9 612.5,711.9 612.7,701.2 613.0,710.7 613.3,697.0 613.6,714.9 613.9,697.5 614.2,714.4 614.4,691.0 614.7,716.1 615.0,701.5 615.3,713.0 615.6,701.3 615.9,711.3 616.1,700.3 616.4,709.0 616.7,698.1 617.0,715.7 617.3,697.3 617.6,712.0 617.9,696.9 618.1,713.4 618.4,702.4 618.7,710.4 619.0,697.1 619.3,710.4 619.6,697.5 619.8,709.4 620.1,698.0 620.4,710.4 620.7,703.3 621.0,714.4 621.3,701.2 621.5,712.6 621.8,700.3 622.1,712.9 622.4,703.9 622.7,715.2 623.0,698.1 623.2,722.8 623.5,698.1 623.8,714.4 624.1,698.4 624.4,711.1 624.7,699.1 625.0,711.0 625.2,697.4 625.5,712.0 625.8,698.0 626.1,710.9 626.4,699.7 626.7,714.4 626.9,700.9 627.2,710.7 627.5,697.7 627.8,715.7 628.1,696.8 628.4,709.7 628.6,701.7 628.9,712.2 629.2,699.8 629.5,709.8 629.8,701.0 630.1,712.0 630.3,701.1 630.6,711.7 630.9,698.8 631.2,714.4 631.5,702.4 631.8,709.6 632.1,701.6 632.3,715.8 632.6,699.5 632.9,711.3 633.2,703.4 633.5,716.0 633.8,698.3 634.0,713.5 634.3,696.9 634.6,712.6 634.9,698.5 635.2,698.3 635.5,667.2 635.7,669.4 636.0,649.3 636.3,657.7 636.6,642.4 636.9,651.2 637.2,635.3 637.4,647.5 637.7,634.0 638.0,645.7 638.3,636.4 638.6,645.6 638.9,636.4 639.2,647.0 639.4,631.8 639.7,644.3 640.0,630.3 640.3,644.9 640.6,635.3 640.9,646.6 641.1,633.0 641.4,646.5 641.7,629.9 642.0,648.5 642.3,633.9 642.6,645.4 642.8,631.1 643.1,645.4 643.4,636.2 643.7,647.0 644.0,634.6 644.3,648.2 644.5,631.5 644.8,644.9 645.1,631.0 645.4,654.7 645.7,634.1 646.0,648.3 646.3,635.4 646.5,646.7 646.8,631.2 647.1,645.1 647.4,630.4 647.7,646.9 648.0,633.3 648.2,642.3 648.5,634.9 648.8,643.5 649.1,630.0 649.4,648.2 649.7,635.2 649.9,645.2 650.2,631.9 650.5,644.7 650.8,629.4 651.1,645.3 651.4,630.5 651.6,646.4 651.9,630.1 652.2,648.4 652.5,631.3 652.8,645.7 653.1,630.3 653.4,648.2 653.6,635.0 653.9,647.6 654.2,636.2 654.5,643.6 654.8,634.9 655.1,644.8 655.3,634.5 655.6,644.0 655.9,635.0 656.2,644.1 656.5,631.2 656.8,646.7 657.0,635.5 657.3,645.7 657.6,635.4 657.9,646.6 658.2,629.5 658.5,645.3 658.7,632.1 659.0,648.5 659.3,629.8 659.6,644.5 659.9,630.0 660.2,648.5 660.5,633.6 660.7,646.1 661.0,622.9 661.3,646.5 661.6,633.0 661.9,653.6 662.2,631.7 662.4,644.8 662.7,627.0 663.0,644.8 663.3,634.5 663.6,647.7 663.9,632.2 664.1,641.6 664.4,634.2 664.7,642.6 665.0,632.3 665.3,642.1 665.6,635.0 665.8,647.6 666.1,629.8 666.4,644.7 666.7,633.6 667.0,647.9 667.3,633.7 667.6,644.4 667.8,630.9 668.1,646.1 668.4,632.0 668.7,645.2 669.0,630.7 669.3,645.4 669.5,631.3 669.8,641.5 670.1,631.5 670.4,647.9 670.7,634.3 671.0,642.9 671.2,632.4 671.5,646.3 671.8,632.2 672.1,646.8 672.4,634.0 672.7,646.7 672.9,629.6 673.2,647.4 673.5,635.0 673.8,646.4 674.1,633.5 674.4,643.1 674.7,631.3 674.9,645.5 675.2,630.6 675.5,647.0 675.8,630.4 676.1,646.7 676.4,636.6 676.6,642.4 676.9,630.2 677.2,642.2 677.5,632.9 677.8,646.7 678.1,630.4 678.3,645.0 678.6,633.0 678.9,645.6 679.2,636.4 679.5,643.0 679.8,631.8 680.0,642.3 680.3,634.9 680.6,645.7 680.9,630.5 681.2,646.6 681.5,632.8 681.8,643.1 682.0,626.5 682.3,643.0 682.6,634.2 682.9,648.3 683.2,632.5 683.5,642.9 683.7,631.5 684.0,647.3 684.3,631.9 684.6,642.7 684.9,634.7 685.2,646.5 685.4,635.5 685.7,644.8 686.0,632.2 686.3,642.9 686.6,629.5 686.9,644.2 687.1,630.8 687.4,646.5 687.7,629.6 688.0,655.1" fill="none" stroke="#8a10ff" stroke-width="1.2" stroke-linejoin="bevel"/>
<polyline points="120.0,721.4 120.3,710.0 120.6,720.8 120.9,705.9 121.1,719.5 121.4,706.4 121.7,718.4 122.0,705.6 122.3,721.4 122.6,707.2 122.8,717.4 123.1,707.1 123.4,718.1 123.7,706.7 124.0,720.1 124.3,708.0 124.5,718.9 124.8,705.9 125.1,721.1 125.4,705.5 125.7,720.4 126.0,707.8 126.2,721.5 126.5,705.4 126.8,718.6 127.1,706.9 127.4,718.9 127.7,707.8 128.0,721.1 128.2,706.5 128.5,720.2 128.8,708.7 129.1,720.0 129.4,704.6 129.7,721.2 129.9,704.3 130.2,718.9 130.5,706.0 130.8,717.7 131.1,706.8 131.4,719.6 131.6,705.0 131.9,721.2 132.2,705.5 132.5,719.8 132.8,708.7 133.1,716.2 133.3,704.8 133.6,717.0 133.9,707.4 134.2,715.5 134.5,709.1 134.8,716.0 135.1,710.3 135.3,715.4 135.6,705.1 135.9,716.8 136.2,707.6 136.5,721.6 136.8,710.2 137.0,719.5 137.3,709.5 137.6,715.5 137.9,705.3 138.2,721.2 138.5,704.8 138.7,718.7 139.0,705.9 139.3,716.1 139.6,704.7 139.9,719.4 140.2,706.8 140.4,721.5 140.7,706.2 141.0,715.3 141.3,709.3 141.6,715.5 141.9,709.7 142.2,718.9 142.4,704.4 142.7,717.1 143.0,708.5 143.3,719.6 143.6,705.7 143.9,718.4 144.1,710.6 144.4,718.3 144.7,705.6 145.0,716.1 145.3,708.6 145.6,719.0 145.8,708.1 146.1,717.0 146.4,704.3 146.7,718.5 147.0,706.4 147.3,718.4 147.5,709.0 147.8,720.6 148.1,706.8 148.4,719.5 148.7,704.2 149.0,715.3 149.3,709.6 149.5,720.8 149.8,710.4 150.1,718.3 150.4,708.8 150.7,715.9 151.0,707.7 151.2,715.9 151.5,708.9 151.8,718.2 152.1,705.4 152.4,716.3 152.7,709.8 152.9,719.7 153.2,700.8 153.5,719.8 153.8,705.6 154.1,718.0 154.4,705.2 154.6,719.0 154.9,704.3 155.2,721.3 155.5,708.2 155.8,718.8 156.1,707.3 156.4,721.2 156.6,705.0 156.9,718.0 157.2,709.2 157.5,715.8 157.8,704.6 158.1,719.7 158.3,708.2 158.6,719.9 158.9,707.3 159.2,716.2 159.5,704.3 159.8,716.1 160.0,705.6 160.3,721.1 160.6,705.7 160.9,721.6 161.2,706.4 161.5,722.4 161.7,706.3 162.0,716.7 162.3,707.0 162.6,720.1 162.9,705.7 163.2,721.5 163.5,705.4 163.7,720.4 164.0,708.7 164.3,718.3 164.6,704.2 164.9,715.3 165.2,705.6 165.4,719.7 165.7,710.4 166.0,720.2 166.3,704.6 166.6,716.1 166.9,705.3 167.1,720.3 167.4,708.9 167.7,716.4 168.0,707.3 168.3,719.3 168.6,708.8 168.8,718.0 169.1,707.0 169.4,719.8 169.7,707.0 170.0,717.8 170.3,701.7 170.6,712.5 170.8,703.5 171.1,713.3 171.4,697.2 171.7,711.2 172.0,698.4 172.3,707.2 172.5,698.4 172.8,708.9 173.1,693.6 173.4,705.1 173.7,694.4 174.0,704.9 174.2,690.5 174.5,706.5 174.8,691.7 175.1,705.3 175.4,690.4 175.7,705.1 175.9,692.0 176.2,705.9 176.5,693.4 176.8,703.8 177.1,693.5 177.4,701.4 177.7,692.8 177.9,702.9 178.2,692.3 178.5,703.6 178.8,689.8 179.1,703.6 179.4,689.6 179.6,701.2 179.9,694.0 180.2,703.2 180.5,690.3 180.8,705.7 181.1,692.6 181.3,703.0 181.6,689.6 181.9,705.1 182.2,690.6 182.5,706.1 182.8,690.5 183.0,702.6 183.3,691.0 183.6,703.3 183.9,689.4 184.2,703.8 184.5,694.0 184.8,703.9 185.0,692.9 185.3,706.3 185.6,690.4 185.9,704.2 186.2,690.1 186.5,702.6 186.7,694.3 187.0,706.4 187.3,694.4 187.6,702.3 187.9,693.6 188.2,702.3 188.4,691.3 188.7,703.2 189.0,695.0 189.3,706.0 189.6,690.4 189.9,704.1 190.1,693.0 190.4,704.6 190.7,689.2 191.0,703.8 191.3,693.1 191.6,704.5 191.9,691.7 192.1,706.7 192.4,692.2 192.7,704.1 193.0,694.6 193.3,701.4 193.6,690.9 193.8,701.0 194.1,684.8 194.4,701.3 194.7,694.1 195.0,705.0 195.3,689.3 195.5,700.8 195.8,693.6 196.1,704.3 196.4,692.0 196.7,702.0 197.0,690.1 197.2,705.0 197.5,694.4 197.8,701.5 198.1,694.6 198.4,700.8 198.7,692.7 199.0,706.0 199.2,690.7 199.5,706.3 199.8,694.7 200.1,704.7 200.4,692.7 200.7,703.5 200.9,692.6 201.2,705.7 201.5,692.1 201.8,705.5 202.1,693.7 202.4,705.1 202.6,695.4 202.9,702.0 203.2,691.5 203.5,704.7 203.8,690.8 204.1,700.7 204.3,690.1 204.6,704.5 204.9,694.0 205.2,704.8 205.5,694.0 205.8,706.6 206.1,692.2 206.3,702.0 206.6,690.8 206.9,706.2 207.2,692.5 207.5,705.2 207.8,691.0 208.0,705.1 208.3,689.6 208.6,702.9 208.9,692.6 209.2,706.4 209.5,690.4 209.7,705.6 210.0,692.2 210.3,703.8 210.6,694.0 210.9,701.9 211.2,691.5 211.4,701.8 211.7,689.9 212.0,704.6 212.3,689.8 212.6,702.7 212.9,690.0 213.2,700.4 213.4,694.0 213.7,702.8 214.0,690.7 214.3,703.6 214.6,684.5 214.9,704.4 215.1,694.3 215.4,703.2 215.7,691.4 216.0,704.8 216.3,692.1 216.6,705.8 216.8,695.5 217.1,709.8 217.4,698.9 217.7,715.2 218.0,704.7 218.3,712.6 218.5,706.7 218.8,716.0 219.1,702.5 219.4,717.3 219.7,707.6 220.0,718.1 220.3,708.9 220.5,719.2 220.8,705.1 221.1,718.5 221.4,706.5 221.7,720.2 222.0,705.4 222.2,719.8 222.5,706.8 222.8,716.3 223.1,706.5 223.4,719.6 223.7,709.5 223.9,715.9 224.2,707.2 224.5,717.6 224.8,707.0 225.1,717.9 225.4,704.5 225.6,716.2 225.9,707.7 226.2,719.7 226.5,704.6 226.8,727.5 227.1,707.9 227.4,715.2 227.6,704.1 227.9,720.9 228.2,706.6 228.5,718.5 228.8,705.2 229.1,715.6 229.3,704.2 229.6,719.9 229.9,704.6 230.2,717.2 230.5,704.6 230.8,721.2 231.0,706.3 231.3,717.1 231.6,710.6 231.9,718.9 232.2,706.0 232.5,719.0 232.7,707.5 233.0,716.3 233.3,707.1 233.6,721.5 233.9,706.8 234.2,718.5 234.5,705.2 234.7,716.6 235.0,709.4 235.3,715.4 235.6,704.2 235.9,719.3 236.2,707.2 236.4,718.4 236.7,708.7 237.0,721.4 237.3,701.5 237.6,717.6 237.9,704.2 238.1,719.3 238.4,708.5 238.7,718.0 239.0,707.1 239.3,719.2 239.6,707.1 239.8,720.3 240.1,706.8 240.4,720.3 240.7,704.3 241.0,719.4 241.3,707.2 241.6,721.5 241.8,706.2 242.1,720.0 242.4,705.2 242.7,716.5 243.0,706.0 243.3,718.9 243.5,705.1 243.8,721.2 244.1,707.5 244.4,720.5 244.7,705.9 245.0,718.2 245.2,707.2 245.5,721.4 245.8,706.3 246.1,716.7 246.4,708.0 246.7,719.5 246.9,704.5 247.2,718.3 247.5,710.3 247.8,720.1 248.1,708.0 248.4,721.1 248.7,704.7 248.9,719.3 249.2,706.2 249.5,717.6 249.8,706.5 250.1,718.7 250.4,706.9 250.6,717.2 250.9,704.2 251.2,717.2 251.5,705.6 251.8,719.4 252.1,704.8 252.3,718.9 252.6,707.5 252.9,718.0 253.2,708.9 253.5,721.3 253.8,706.2 254.0,716.4 254.3,700.7 254.6,716.0 254.9,708.9 255.2,718.2 255.5,710.5 255.8,717.6 256.0,707.0 256.3,721.5 256.6,705.1 256.9,718.6 257.2,709.9 257.5,718.8 257.7,705.1 258.0,720.6 258.3,710.3 258.6,717.0 258.9,709.4 259.2,718.6 259.4,710.2 259.7,720.5 260.0,708.6 260.3,719.7 260.6,706.0 260.9,716.6 261.1,710.3 261.4,716.1 261.7,706.8 262.0,721.5 262.3,700.4 262.6,710.9 262.9,694.5 263.1,699.5 263.4,685.9 263.7,698.6 264.0,685.3 264.3,696.1 264.6,680.3 264.8,688.2 265.1,675.9 265.4,691.7 265.7,678.2 266.0,686.6 266.3,676.1 266.5,688.4 266.8,673.6 267.1,689.4 267.4,676.7 267.7,685.4 268.0,676.0 268.2,689.2 268.5,672.8 268.8,686.2 269.1,672.6 269.4,683.8 269.7,675.8 270.0,688.6 270.2,676.5 270.5,689.3 270.8,673.1 271.1,684.8 271.4,674.3 271.7,687.2 271.9,674.9 272.2,686.7 272.5,677.6 272.8,686.0 273.1,674.6 273.4,685.4 273.6,676.0 273.9,684.5 274.2,672.5 274.5,684.7 274.8,677.6 275.1,690.3 275.3,675.4 275.6,688.8 275.9,678.7 276.2,686.2 276.5,677.2 276.8,685.4 277.1,676.7 277.3,688.7 277.6,675.4 277.9,688.9 278.2,672.2 278.5,688.7 278.8,674.5 279.0,687.4 279.3,675.8 279.6,689.3 279.9,675.2 280.2,688.9 280.5,675.1 280.7,684.6 281.0,673.1 281.3,689.6 281.6,672.3 281.9,687.0 282.2,677.2 282.4,688.7 282.7,674.8 283.0,688.0 283.3,673.3 283.6,687.3 283.9,674.6 284.2,689.7 284.4,673.2 284.7,689.4 285.0,673.1 285.3,685.3 285.6,673.3 285.9,687.6 286.1,672.6 286.4,688.6 286.7,676.0 287.0,689.5 287.3,675.1 287.6,683.7 287.8,672.3 288.1,687.9 288.4,678.1 288.7,686.4 289.0,675.7 289.3,684.4 289.5,676.2 289.8,684.7 290.1,675.4 290.4,689.6 290.7,678.4 291.0,689.6 291.3,673.4 291.5,689.4 291.8,674.3 292.1,686.5 292.4,676.9 292.7,688.9 293.0,672.7 293.2,683.5 293.5,678.5 293.8,689.3 294.1,677.6 294.4,687.9 294.7,675.5 294.9,689.1 295.2,673.7 295.5,683.6 295.8,676.6 296.1,685.1 296.4,673.9 296.6,695.0 296.9,672.4 297.2,687.8 297.5,673.8 297.8,685.0 298.1,673.3 298.4,684.2 298.6,677.0 298.9,685.5 299.2,673.1 299.5,687.8 299.8,673.3 300.1,689.7 300.3,676.1 300.6,686.8 300.9,674.3 301.2,689.5 301.5,672.1 301.8,687.8 302.0,674.7 302.3,685.2 302.6,677.4 302.9,687.6 303.2,677.3 303.5,686.1 303.7,675.3 304.0,685.9 304.3,677.4 304.6,686.7 304.9,678.7 305.2,683.7 305.5,676.2 305.7,689.4 306.0,676.9 306.3,683.5 306.6,677.6 306.9,687.5 307.2,672.4 307.4,688.3 307.7,672.6 308.0,688.8 308.3,673.7 308.6,687.1 308.9,673.3 309.1,688.5 309.4,673.6 309.7,688.0 310.0,678.6 310.3,687.8 310.6,675.1 310.8,687.4 311.1,672.3 311.4,689.8 311.7,681.7 312.0,701.6 312.3,693.7 312.6,705.8 312.8,694.6 313.1,709.0 313.4,697.9 313.7,713.7 314.0,700.2 314.3,715.0 314.5,704.9 314.8,716.1 315.1,703.5 315.4,718.4 315.7,703.7 316.0,718.6 316.2,709.1 316.5,718.3 316.8,708.8 317.1,719.8 317.4,703.7 317.7,720.7 317.9,708.8 318.2,720.7 318.5,708.1 318.8,718.0 319.1,705.4 319.4,716.3 319.7,709.9 319.9,720.7 320.2,708.4 320.5,716.7 320.8,707.8 321.1,718.4 321.4,704.8 321.6,720.7 321.9,708.8 322.2,720.7 322.5,708.7 322.8,719.0 323.1,704.3 323.3,715.6 323.6,706.7 323.9,719.0 324.2,709.6 324.5,720.8 324.8,709.0 325.0,716.5 325.3,709.4 325.6,717.8 325.9,706.2 326.2,719.6 326.5,704.2 326.8,719.6 327.0,708.5 327.3,721.4 327.6,710.0 327.9,717.0 328.2,708.9 328.5,720.4 328.7,706.3 329.0,719.4 329.3,708.0 329.6,717.2 329.9,705.1 330.2,720.2 330.4,707.1 330.7,721.2 331.0,704.9 331.3,720.3 331.6,707.4 331.9,719.5 332.1,708.3 332.4,721.4 332.7,710.4 333.0,719.7 333.3,704.3 333.6,721.1 333.9,704.5 334.1,716.2 334.4,708.2 334.7,720.7 335.0,706.9 335.3,720.4 335.6,706.5 335.8,719.4 336.1,707.3 336.4,718.2 336.7,706.7 337.0,718.2 337.3,705.8 337.5,718.3 337.8,704.9 338.1,721.2 338.4,710.4 338.7,719.1 339.0,704.7 339.2,726.3 339.5,705.0 339.8,715.4 340.1,704.2 340.4,720.5 340.7,708.5 341.0,720.6 341.2,707.7 341.5,717.4 341.8,708.9 342.1,716.8 342.4,706.5 342.7,720.0 342.9,701.8 343.2,716.1 343.5,709.5 343.8,717.4 344.1,704.3 344.4,718.4 344.6,709.9 344.9,716.5 345.2,705.1 345.5,720.1 345.8,704.5 346.1,717.2 346.3,706.9 346.6,719.9 346.9,704.2 347.2,717.4 347.5,708.2 347.8,721.2 348.1,710.1 348.3,716.8 348.6,707.9 348.9,717.1 349.2,704.4 349.5,718.9 349.8,707.9 350.0,720.9 350.3,708.1 350.6,718.7 350.9,705.3 351.2,721.4 351.5,710.3 351.7,719.0 352.0,704.7 352.3,719.0 352.6,709.4 352.9,719.7 353.2,705.8 353.4,720.5 353.7,705.8 354.0,720.9 354.3,706.4 354.6,719.1 354.9,705.8 355.2,717.7 355.4,708.6 355.7,715.3 356.0,705.6 356.3,718.8 356.6,706.0 356.9,719.2 357.1,707.5 357.4,720.3 357.7,708.0 358.0,719.6 358.3,706.4 358.6,726.1 358.8,697.9 359.1,703.4 359.4,688.9 359.7,693.6 360.0,682.8 360.3,691.7 360.5,677.1 360.8,687.8 361.1,672.3 361.4,681.4 361.7,671.7 362.0,680.2 362.3,670.3 362.5,678.7 362.8,668.4 363.1,687.5 363.4,667.5 363.7,677.8 364.0,669.0 364.2,678.7 364.5,664.9 364.8,678.9 365.1,664.0 365.4,677.7 365.7,669.4 365.9,678.8 366.2,666.0 366.5,678.0 366.8,667.2 367.1,679.9 367.4,666.7 367.6,680.1 367.9,663.8 368.2,677.8 368.5,665.8 368.8,679.0 369.1,665.2 369.4,680.1 369.6,665.0 369.9,678.6 370.2,664.1 370.5,676.5 370.8,666.9 371.1,680.2 371.3,667.2 371.6,674.9 371.9,668.8 372.2,677.1 372.5,669.1 372.8,679.6 373.0,669.7 373.3,675.1 373.6,664.9 373.9,677.3 374.2,665.2 374.5,678.7 374.7,668.1 375.0,678.0 375.3,667.0 375.6,678.5 375.9,664.6 376.2,677.5 376.5,665.8 376.7,675.8 377.0,665.7 377.3,676.7 377.6,663.8 377.9,678.6 378.2,666.5 378.4,677.2 378.7,666.7 379.0,679.1 379.3,664.0 379.6,677.2 379.9,669.9 380.1,677.9 380.4,669.6 380.7,676.5 381.0,667.3 381.3,677.4 381.6,668.8 381.8,675.8 382.1,666.0 382.4,674.7 382.7,667.8 383.0,675.0 383.3,669.3 383.6,678.1 383.8,664.2 384.1,679.9 384.4,665.1 384.7,680.0 385.0,663.9 385.3,675.5 385.5,667.6 385.8,676.5 386.1,666.3 386.4,679.4 386.7,667.3 387.0,678.5 387.2,665.9 387.5,678.7 387.8,668.0 388.1,684.2 388.4,666.9 388.7,680.5 388.9,666.3 389.2,677.8 389.5,668.0 389.8,677.2 390.1,669.4 390.4,679.3 390.7,666.5 390.9,679.3 391.2,666.1 391.5,678.5 391.8,664.6 392.1,679.8 392.4,666.4 392.6,678.1 392.9,669.9 393.2,678.7 393.5,663.8 393.8,679.8 394.1,666.3 394.3,680.0 394.6,664.6 394.9,678.6 395.2,668.2 395.5,678.3 395.8,668.7 396.0,676.8 396.3,664.2 396.6,678.5 396.9,666.4 397.2,680.5 397.5,665.4 397.8,676.8 398.0,667.0 398.3,678.4 398.6,664.8 398.9,679.5 399.2,663.9 399.5,678.0 399.7,667.7 400.0,677.3 400.3,666.1 400.6,677.2 400.9,663.6 401.2,679.6 401.4,666.1 401.7,676.2 402.0,665.3 402.3,677.8 402.6,669.5 402.9,681.2 403.1,666.6 403.4,678.6 403.7,665.2 404.0,676.9 404.3,663.8 404.6,680.6 404.9,664.1 405.1,679.7 405.4,663.8 405.7,681.1 406.0,668.3 406.3,678.1 406.6,665.3 406.8,681.0 407.1,677.4 407.4,692.7 407.7,683.3 408.0,703.0 408.3,689.4 408.5,708.0 408.8,694.7 409.1,708.3 409.4,702.5 409.7,715.5 410.0,700.8 410.2,716.0 410.5,706.6 410.8,717.8 411.1,708.4 411.4,716.1 411.7,703.2 412.0,719.9 412.2,704.8 412.5,716.3 412.8,705.8 413.1,718.3 413.4,704.5 413.7,716.5 413.9,706.4 414.2,720.3 414.5,707.1 414.8,717.2 415.1,706.5 415.4,719.7 415.6,708.8 415.9,718.5 416.2,708.9 416.5,719.9 416.8,705.0 417.1,719.1 417.3,703.8 417.6,720.2 417.9,707.0 418.2,715.7 418.5,707.5 418.8,718.0 419.1,708.8 419.3,718.3 419.6,707.4 419.9,718.9 420.2,709.4 420.5,720.4 420.8,704.3 421.0,718.1 421.3,704.2 421.6,716.2 421.9,709.2 422.2,720.5 422.5,706.3 422.7,718.8 423.0,708.4 423.3,721.4 423.6,709.0 423.9,720.3 424.2,708.5 424.4,720.7 424.7,704.4 425.0,717.8 425.3,707.4 425.6,721.5 425.9,706.0 426.2,720.9 426.4,706.1 426.7,716.6 427.0,707.7 427.3,718.6 427.6,707.7 427.9,723.5 428.1,705.1 428.4,715.5 428.7,705.9 429.0,718.3 429.3,705.6 429.6,715.2 429.8,709.8 430.1,720.1 430.4,707.5 430.7,717.4 431.0,710.0 431.3,717.2 431.5,704.1 431.8,716.8 432.1,707.5 432.4,717.5 432.7,704.1 433.0,716.9 433.3,709.6 433.5,716.2 433.8,704.2 434.1,719.8 434.4,707.7 434.7,726.4 435.0,704.4 435.2,716.9 435.5,706.3 435.8,718.7 436.1,704.7 436.4,716.7 436.7,709.1 436.9,718.2 437.2,709.8 437.5,720.8 437.8,706.3 438.1,720.4 438.4,706.7 438.6,719.1 438.9,709.0 439.2,716.5 439.5,706.3 439.8,716.3 440.1,705.3 440.4,718.2 440.6,704.1 440.9,718.1 441.2,704.7 441.5,715.9 441.8,706.1 442.1,715.2 442.3,704.4 442.6,719.9 442.9,708.4 443.2,718.7 443.5,706.2 443.8,721.0 444.0,705.6 444.3,718.3 444.6,708.4 444.9,721.1 445.2,708.5 445.5,720.1 445.7,707.3 446.0,720.4 446.3,707.5 446.6,718.1 446.9,705.9 447.2,717.8 447.5,706.2 447.7,720.8 448.0,706.6 448.3,720.8 448.6,706.7 448.9,720.5 449.2,704.3 449.4,718.8 449.7,698.4 450.0,717.4 450.3,710.1 450.6,717.6 450.9,710.1 451.1,718.0 451.4,705.1 451.7,716.5 452.0,704.5 452.3,720.0 452.6,708.1 452.8,720.8 453.1,708.9 453.4,715.7 453.7,706.5 454.0,719.6 454.3,706.9 454.6,720.6 454.8,704.3 455.1,716.8 455.4,708.4 455.7,717.0 456.0,704.8 456.3,719.9 456.5,706.1 456.8,720.4 457.1,704.5 457.4,710.1 457.7,693.0 458.0,703.5 458.2,688.1 458.5,697.2 458.8,683.6 459.1,687.9 459.4,673.7 459.7,692.8 459.9,674.4 460.2,686.2 460.5,672.6 460.8,683.0 461.1,668.4 461.4,680.5 461.7,659.8 461.9,681.5 462.2,665.6 462.5,680.0 462.8,665.2 463.1,678.3 463.4,664.4 463.6,677.3 463.9,662.8 464.2,675.9 464.5,663.0 464.8,677.6 465.1,663.4 465.3,677.7 465.6,665.8 465.9,675.5 466.2,666.9 466.5,678.2 466.8,664.4 467.0,672.1 467.3,661.5 467.6,677.7 467.9,662.0 468.2,676.9 468.5,663.6 468.8,675.6 469.0,661.0 469.3,676.1 469.6,664.0 469.9,677.8 470.2,661.1 470.5,672.0 470.7,666.4 471.0,673.2 471.3,665.6 471.6,674.5 471.9,665.2 472.2,677.2 472.4,663.1 472.7,676.8 473.0,665.3 473.3,677.5 473.6,665.2 473.9,678.1 474.1,664.7 474.4,675.3 474.7,663.1 475.0,674.4 475.3,663.9 475.6,677.8 475.9,665.4 476.1,674.3 476.4,663.7 476.7,675.7 477.0,666.2 477.3,675.0 477.6,663.3 477.8,674.5 478.1,664.8 478.4,674.2 478.7,662.3 479.0,675.3 479.3,666.3 479.5,674.6 479.8,666.2 480.1,674.5 480.4,662.2 480.7,674.0 481.0,662.6 481.2,677.2 481.5,661.3 481.8,675.3 482.1,666.3 482.4,676.1 482.7,666.6 483.0,673.2 483.2,664.3 483.5,675.4 483.8,664.1 484.1,672.5 484.4,663.6 484.7,682.3 484.9,661.4 485.2,677.5 485.5,666.0 485.8,673.7 486.1,667.2 486.4,677.3 486.6,664.5 486.9,674.9 487.2,661.3 487.5,677.3 487.8,661.1 488.1,671.8 488.3,664.3 488.6,672.9 488.9,661.1 489.2,675.6 489.5,666.2 489.8,675.0 490.1,663.8 490.3,672.7 490.6,661.8 490.9,676.3 491.2,662.6 491.5,673.6 491.8,660.8 492.0,674.4 492.3,664.1 492.6,674.6 492.9,666.2 493.2,672.9 493.5,661.6 493.7,676.0 494.0,662.5 494.3,674.6 494.6,664.5 494.9,679.4 495.2,663.7 495.4,673.4 495.7,663.2 496.0,672.0 496.3,666.5 496.6,678.0 496.9,667.0 497.2,675.4 497.4,664.0 497.7,677.0 498.0,660.8 498.3,677.1 498.6,665.6 498.9,677.4 499.1,661.5 499.4,673.0 499.7,661.6 500.0,677.2 500.3,667.1 500.6,672.6 500.8,664.3 501.1,673.7 501.4,664.0 501.7,676.6 502.0,666.4 502.3,673.0 502.5,664.9 502.8,672.2 503.1,663.0 503.4,676.0 503.7,665.6 504.0,678.2 504.3,671.9 504.5,686.6 504.8,678.8 505.1,698.1 505.4,688.2 505.7,704.5 506.0,689.7 506.2,706.5 506.5,699.2 506.8,706.8 507.1,701.6 507.4,712.3 507.7,699.2 507.9,715.5 508.2,700.7 508.5,717.0 508.8,702.7 509.1,712.5 509.4,704.6 509.6,715.1 509.9,704.8 510.2,713.7 510.5,707.8 510.8,714.9 511.1,704.4 511.4,719.4 511.6,705.5 511.9,720.2 512.2,703.7 512.5,717.8 512.8,705.8 513.1,717.3 513.3,707.1 513.6,716.1 513.9,706.6 514.2,715.3 514.5,709.2 514.8,725.6 515.0,708.7 515.3,720.6 515.6,706.7 515.9,720.6 516.2,705.2 516.5,716.3 516.7,708.7 517.0,719.9 517.3,707.7 517.6,718.5 517.9,706.6 518.2,715.8 518.5,707.2 518.7,721.4 519.0,709.8 519.3,715.8 519.6,710.3 519.9,721.3 520.2,705.7 520.4,716.7 520.7,710.4 521.0,716.1 521.3,707.1 521.6,716.8 521.9,708.3 522.1,721.5 522.4,710.3 522.7,721.1 523.0,704.1 523.3,717.4 523.6,708.3 523.8,717.5 524.1,705.6 524.4,716.0 524.7,704.8 525.0,718.2 525.3,704.2 525.6,720.3 525.8,705.1 526.1,717.0 526.4,706.1 526.7,719.4 527.0,707.6 527.3,718.0 527.5,704.1 527.8,722.8 528.1,708.2 528.4,718.9 528.7,704.5 529.0,721.4 529.2,708.8 529.5,715.4 529.8,704.6 530.1,721.1 530.4,705.3 530.7,717.5 530.9,709.4 531.2,716.1 531.5,708.4 531.8,721.5 532.1,706.4 532.4,722.7 532.7,706.9 532.9,719.0 533.2,702.2 533.5,716.7 533.8,707.0 534.1,717.3 534.4,709.6 534.6,720.3 534.9,704.8 535.2,718.9 535.5,707.6 535.8,721.5 536.1,707.7 536.3,715.2 536.6,704.3 536.9,719.7 537.2,707.5 537.5,716.0 537.8,709.2 538.0,717.1 538.3,706.2 538.6,720.6 538.9,704.2 539.2,719.1 539.5,708.1 539.8,718.1 540.0,707.5 540.3,717.9 540.6,704.9 540.9,715.8 541.2,706.0 541.5,717.3 541.7,706.7 542.0,720.7 542.3,709.9 542.6,718.6 542.9,707.1 543.2,716.1 543.4,704.5 543.7,721.5 544.0,705.8 544.3,720.1 544.6,705.2 544.9,718.4 545.1,710.6 545.4,719.5 545.7,705.1 546.0,720.4 546.3,708.1 546.6,717.3 546.9,705.1 547.1,720.9 547.4,707.1 547.7,717.4 548.0,709.7 548.3,717.2 548.6,709.3 548.8,717.8 549.1,707.9 549.4,718.7 549.7,706.8 550.0,719.1 550.3,707.8 550.5,718.4 550.8,705.9 551.1,715.5 551.4,695.3 551.7,706.1 552.0,691.9 552.2,700.5 552.5,684.4 552.8,694.3 553.1,679.2 553.4,688.3 553.7,677.8 554.0,684.7 554.2,670.3 554.5,683.2 554.8,672.0 555.1,680.9 555.4,668.6 555.7,675.7 555.9,665.9 556.2,676.9 556.5,664.0 556.8,673.4 557.1,661.7 557.4,672.5 557.6,661.0 557.9,672.6 558.2,661.8 558.5,672.9 558.8,659.3 559.1,673.8 559.3,663.0 559.6,674.1 559.9,658.5 560.2,670.5 560.5,658.9 560.8,673.5 561.1,657.9 561.3,669.5 561.6,658.5 561.9,667.4 562.2,657.1 562.5,669.9 562.8,658.2 563.0,669.5 563.3,660.0 563.6,670.7 563.9,661.1 564.2,670.2 564.5,657.0 564.7,668.6 565.0,658.4 565.3,668.6 565.6,655.6 565.9,669.4 566.2,658.4 566.4,675.8 566.7,659.9 567.0,670.2 567.3,657.6 567.6,672.3 567.9,656.8 568.2,670.8 568.4,661.5 568.7,669.5 569.0,655.2 569.3,668.5 569.6,658.2 569.9,671.9 570.1,658.4 570.4,671.0 570.7,657.0 571.0,671.3 571.3,656.1 571.6,669.4 571.8,656.0 572.1,670.7 572.4,661.0 572.7,670.0 573.0,656.1 573.3,671.9 573.5,660.6 573.8,672.4 574.1,658.3 574.4,666.8 574.7,661.5 575.0,666.7 575.3,656.7 575.5,669.0 575.8,660.7 576.1,668.0 576.4,660.5 576.7,669.3 577.0,656.6 577.2,671.5 577.5,656.6 577.8,669.0 578.1,661.2 578.4,671.2 578.7,658.8 578.9,671.2 579.2,655.7 579.5,671.9 579.8,659.2 580.1,666.9 580.4,658.6 580.6,667.7 580.9,655.7 581.2,667.2 581.5,660.6 581.8,668.5 582.1,659.1 582.4,666.9 582.6,657.1 582.9,669.7 583.2,660.2 583.5,677.5 583.8,657.6 584.1,672.3 584.3,655.1 584.6,667.4 584.9,657.7 585.2,667.3 585.5,659.1 585.8,667.6 586.0,655.5 586.3,670.8 586.6,659.1 586.9,666.9 587.2,659.5 587.5,672.2 587.7,655.3 588.0,670.8 588.3,657.4 588.6,671.2 588.9,656.9 589.2,669.8 589.5,656.6 589.7,668.2 590.0,655.3 590.3,669.5 590.6,656.1 590.9,668.7 591.2,656.5 591.4,669.7 591.7,655.8 592.0,667.0 592.3,661.5 592.6,666.4 592.9,657.9 593.1,671.3 593.4,661.4 593.7,666.8 594.0,659.5 594.3,666.9 594.6,659.0 594.8,672.1 595.1,660.2 595.4,669.0 595.7,656.9 596.0,670.9 596.3,662.6 596.6,677.4 596.8,670.5 597.1,684.0 597.4,678.2 597.7,692.7 598.0,679.9 598.3,696.1 598.5,687.2 598.8,698.2 599.1,689.6 599.4,704.3 599.7,693.2 600.0,708.4 600.2,695.3 600.5,709.3 600.8,698.3 601.1,710.2 601.4,697.7 601.7,709.6 601.9,703.7 602.2,710.4 602.5,701.9 602.8,711.9 603.1,706.2 603.4,716.8 603.7,703.2 603.9,714.3 604.2,707.8 604.5,718.8 604.8,704.6 605.1,715.4 605.4,697.3 605.6,715.4 605.9,708.4 606.2,719.6 606.5,705.4 606.8,719.6 607.1,706.7 607.3,716.9 607.6,705.3 607.9,719.8 608.2,704.2 608.5,719.4 608.8,707.8 609.0,715.7 609.3,705.2 609.6,719.6 609.9,709.6 610.2,721.3 610.5,703.7 610.8,720.1 611.0,708.5 611.3,718.0 611.6,707.8 611.9,719.8 612.2,706.2 612.5,720.4 612.7,704.5 613.0,718.1 613.3,707.1 613.6,720.8 613.9,705.9 614.2,716.4 614.4,707.0 614.7,721.1 615.0,704.5 615.3,715.2 615.6,707.4 615.9,719.5 616.1,707.4 616.4,721.6 616.7,706.1 617.0,717.5 617.3,709.6 617.6,719.0 617.9,706.7 618.1,716.1 618.4,706.7 618.7,720.4 619.0,704.8 619.3,717.3 619.6,705.5 619.8,717.8 620.1,705.8 620.4,719.5 620.7,706.9 621.0,716.9 621.3,706.5 621.5,719.5 621.8,704.5 622.1,717.8 622.4,706.4 622.7,720.5 623.0,704.3 623.2,715.8 623.5,707.0 623.8,721.6 624.1,705.6 624.4,715.1 624.7,707.1 625.0,727.1 625.2,704.9 625.5,721.3 625.8,707.3 626.1,721.4 626.4,708.9 626.7,719.0 626.9,708.8 627.2,721.0 627.5,705.0 627.8,717.1 628.1,707.5 628.4,720.1 628.6,708.5 628.9,718.3 629.2,705.3 629.5,717.5 629.8,708.7 630.1,721.6 630.3,707.7 630.6,716.2 630.9,706.0 631.2,717.5 631.5,704.4 631.8,720.2 632.1,705.5 632.3,717.3 632.6,704.2 632.9,720.0 633.2,701.9 633.5,715.8 633.8,704.8 634.0,718.1 634.3,706.1 634.6,720.6 634.9,705.3 635.2,718.5 635.5,707.3 635.7,719.1 636.0,704.5 636.3,719.7 636.6,705.0 636.9,719.5 637.2,698.9 637.4,705.6 637.7,690.1 638.0,697.5 638.3,681.0 638.6,689.7 638.9,673.0 639.2,686.3 639.4,669.6 639.7,677.2 640.0,668.3 640.3,675.7 640.6,662.5 640.9,672.8 641.1,662.9 641.4,670.4 641.7,657.9 642.0,670.1 642.3,657.4 642.6,667.9 642.8,659.2 643.1,672.1 643.4,657.1 643.7,667.2 644.0,658.3 644.3,670.3 644.5,658.5 644.8,669.8 645.1,655.1 645.4,670.1 645.7,656.1 646.0,670.4 646.3,655.4 646.5,666.2 646.8,654.2 647.1,669.6 647.4,659.9 647.7,667.4 648.0,658.8 648.2,670.8 648.5,657.1 648.8,667.7 649.1,657.4 649.4,668.7 649.7,651.1 649.9,668.4 650.2,654.4 650.5,669.6 650.8,659.9 651.1,670.9 651.4,656.6 651.6,665.0 651.9,659.4 652.2,668.9 652.5,658.3 652.8,666.2 653.1,657.2 653.4,665.3 653.6,657.1 653.9,666.4 654.2,654.4 654.5,669.9 654.8,655.3 655.1,670.4 655.3,657.8 655.6,669.7 655.9,655.9 656.2,670.9 656.5,654.3 656.8,668.9 657.0,654.5 657.3,668.1 657.6,655.1 657.9,665.9 658.2,658.0 658.5,664.9 658.7,657.8 659.0,666.3 659.3,659.0 659.6,670.5 659.9,658.4 660.2,671.1 660.5,653.8 660.7,664.7 661.0,658.7 661.3,666.4 661.6,655.1 661.9,669.3 662.2,654.8 662.4,667.5 662.7,654.8 663.0,666.0 663.3,658.5 663.6,672.9 663.9,653.8 664.1,666.9 664.4,653.7 664.7,665.5 665.0,656.0 665.3,668.7 665.6,655.3 665.8,669.4 666.1,656.0 666.4,669.3 666.7,656.2 667.0,669.8 667.3,655.2 667.6,668.0 667.8,658.1 668.1,669.2 668.4,658.6 668.7,666.7 669.0,657.3 669.3,668.1 669.5,659.9 669.8,669.0 670.1,658.2 670.4,669.5 670.7,655.8 671.0,667.1 671.2,658.9 671.5,667.6 671.8,657.0 672.1,670.4 672.4,654.7 672.7,668.4 672.9,657.8 673.2,665.8 673.5,656.5 673.8,665.1 674.1,655.5 674.4,667.2 674.7,658.4 674.9,666.4 675.2,657.8 675.5,666.7 675.8,659.4 676.1,670.9 676.4,659.3 676.6,666.0 676.9,654.4 677.2,665.7 677.5,656.5 677.8,668.2 678.1,656.7 678.3,669.8 678.6,656.8 678.9,669.9 679.2,656.1 679.5,669.8 679.8,655.8 680.0,668.7 680.3,658.0 680.6,670.8 680.9,650.5 681.2,668.2 681.5,654.2 681.8,669.9 682.0,659.0 682.3,670.3 682.6,655.0 682.9,667.0 683.2,659.6 683.5,668.6 683.7,654.2 684.0,666.8 684.3,656.1 684.6,665.7 684.9,657.4 685.2,670.7 685.4,657.8 685.7,669.9 686.0,656.3 686.3,666.5 686.6,655.8 686.9,666.6 687.1,656.6 687.4,670.1 687.7,655.1 688.0,670.0" fill="none" stroke="#d8ae36" stroke-width="1.2" stroke-linejoin="bevel"/>
<polyline points="120.0,712.7 120.3,702.1 120.6,715.5 120.9,705.2 121.1,712.9 121.4,698.0 121.7,716.8 122.0,700.2 122.3,715.6 122.6,701.0 122.8,715.8 123.1,699.4 123.4,713.2 123.7,698.8 124.0,716.1 124.3,699.7 124.5,713.9 124.8,701.5 125.1,717.1 125.4,703.9 125.7,717.6 126.0,700.3 126.2,714.7 126.5,702.2 126.8,715.2 127.1,699.9 127.4,717.0 127.7,700.0 128.0,717.0 128.2,698.5 128.5,716.1 128.8,699.0 129.1,713.1 129.4,698.8 129.7,711.5 129.9,701.8 130.2,713.2 130.5,698.7 130.8,715.4 131.1,699.7 131.4,717.1 131.6,701.1 131.9,713.3 132.2,700.5 132.5,712.4 132.8,700.4 133.1,711.0 133.3,702.5 133.6,717.2 133.9,701.4 134.2,715.6 134.5,700.7 134.8,717.5 135.1,701.6 135.3,712.7 135.6,698.1 135.9,720.0 136.2,701.7 136.5,710.7 136.8,700.2 137.0,715.5 137.3,699.9 137.6,716.0 137.9,705.1 138.2,715.8 138.5,702.9 138.7,715.3 139.0,702.1 139.3,713.7 139.6,702.6 139.9,722.4 140.2,700.7 140.4,713.3 140.7,699.2 141.0,712.3 141.3,699.8 141.6,713.4 141.9,699.0 142.2,717.0 142.4,702.3 142.7,717.1 143.0,703.2 143.3,714.9 143.6,699.1 143.9,712.3 144.1,699.1 144.4,716.7 144.7,704.0 145.0,716.6 145.3,702.2 145.6,714.1 145.8,698.4 146.1,710.5 146.4,698.7 146.7,714.2 147.0,698.4 147.3,716.3 147.5,700.0 147.8,713.1 148.1,703.1 148.4,715.3 148.7,699.1 149.0,717.3 149.3,698.4 149.5,717.2 149.8,705.2 150.1,712.2 150.4,700.0 150.7,714.1 151.0,700.4 151.2,712.9 151.5,701.3 151.8,713.6 152.1,700.9 152.4,712.2 152.7,698.4 152.9,723.0 153.2,700.3 153.5,711.1 153.8,702.8 154.1,714.1 154.4,693.3 154.6,711.1 154.9,704.0 155.2,717.7 155.5,704.4 155.8,713.4 156.1,702.2 156.4,715.3 156.6,703.4 156.9,711.8 157.2,699.7 157.5,711.4 157.8,702.0 158.1,716.5 158.3,699.2 158.6,714.2 158.9,701.2 159.2,714.1 159.5,701.4 159.8,714.9 160.0,704.5 160.3,714.2 160.6,698.3 160.9,717.2 161.2,702.9 161.5,711.8 161.7,700.1 162.0,716.6 162.3,699.6 162.6,711.6 162.9,705.3 163.2,716.5 163.5,704.3 163.7,717.1 164.0,705.0 164.3,711.8 164.6,700.0 164.9,717.6 165.2,699.2 165.4,716.4 165.7,699.7 166.0,716.3 166.3,704.6 166.6,715.1 166.9,703.0 167.1,712.8 167.4,699.5 167.7,713.7 168.0,702.2 168.3,711.4 168.6,698.1 168.8,716.3 169.1,699.9 169.4,715.8 169.7,701.2 170.0,717.2 170.3,704.3 170.6,717.3 170.8,701.5 171.1,712.3 171.4,701.5 171.7,710.0 172.0,695.4 172.3,707.8 172.5,695.7 172.8,708.6 173.1,692.9 173.4,707.2 173.7,696.0 174.0,705.6 174.2,695.9 174.5,706.4 174.8,693.2 175.1,708.5 175.4,692.9 175.7,708.6 175.9,691.2 176.2,706.0 176.5,694.6 176.8,707.4 177.1,690.4 177.4,703.9 177.7,695.0 177.9,708.5 178.2,694.4 178.5,704.8 178.8,691.1 179.1,703.0 179.4,694.1 179.6,706.7 179.9,696.8 180.2,705.7 180.5,694.8 180.8,709.1 181.1,692.3 181.3,704.5 181.6,695.6 181.9,708.8 182.2,689.8 182.5,707.9 182.8,694.1 183.0,707.2 183.3,694.3 183.6,709.1 183.9,692.4 184.2,706.1 184.5,691.2 184.8,706.6 185.0,691.6 185.3,703.7 185.6,691.6 185.9,708.9 186.2,693.8 186.5,706.8 186.7,691.6 187.0,704.8 187.3,696.0 187.6,707.8 187.9,691.0 188.2,704.4 188.4,690.2 188.7,706.2 189.0,690.9 189.3,705.0 189.6,692.3 189.9,705.1 190.1,695.6 190.4,703.0 190.7,690.8 191.0,703.8 191.3,693.2 191.6,708.2 191.9,692.0 192.1,705.4 192.4,692.4 192.7,703.9 193.0,690.8 193.3,708.1 193.6,689.7 193.8,706.5 194.1,691.7 194.4,707.4 194.7,690.3 195.0,706.8 195.3,696.8 195.5,707.2 195.8,692.5 196.1,703.9 196.4,696.4 196.7,707.1 197.0,692.2 197.2,708.7 197.5,690.7 197.8,702.6 198.1,694.6 198.4,706.4 198.7,693.9 199.0,707.4 199.2,690.3 199.5,708.9 199.8,691.0 200.1,708.1 200.4,690.3 200.7,707.8 200.9,695.6 201.2,702.8 201.5,695.2 201.8,707.5 202.1,693.2 202.4,704.7 202.6,690.9 202.9,703.8 203.2,691.2 203.5,705.2 203.8,692.0 204.1,701.9 204.3,690.8 204.6,705.9 204.9,694.8 205.2,705.5 205.5,696.5 205.8,703.7 206.1,693.8 206.3,705.8 206.6,691.3 206.9,705.5 207.2,696.5 207.5,704.1 207.8,692.8 208.0,707.0 208.3,695.5 208.6,707.6 208.9,690.7 209.2,708.9 209.5,694.4 209.7,708.2 210.0,693.7 210.3,707.4 210.6,686.8 210.9,702.3 211.2,695.1 211.4,702.6 211.7,690.0 212.0,709.2 212.3,690.6 212.6,709.0 212.9,694.0 213.2,709.0 213.4,694.1 213.7,703.2 214.0,693.8 214.3,708.9 214.6,691.0 214.9,708.3 215.1,689.9 215.4,705.6 215.7,690.8 216.0,704.5 216.3,692.5 216.6,710.4 216.8,696.8 217.1,718.4 217.4,698.7 217.7,713.8 218.0,701.4 218.3,714.4 218.5,697.8 218.8,716.5 219.1,701.7 219.4,710.8 219.7,697.9 220.0,714.9 220.3,704.2 220.5,712.6 220.8,703.6 221.1,720.3 221.4,703.0 221.7,712.5 222.0,701.6 222.2,715.3 222.5,700.9 222.8,712.2 223.1,699.0 223.4,710.7 223.7,703.4 223.9,711.4 224.2,703.2 224.5,715.4 224.8,699.4 225.1,713.6 225.4,701.5 225.6,716.8 225.9,699.1 226.2,714.9 226.5,699.6 226.8,713.6 227.1,704.5 227.4,716.2 227.6,700.1 227.9,712.6 228.2,698.0 228.5,714.2 228.8,703.2 229.1,717.4 229.3,698.7 229.6,715.4 229.9,700.9 230.2,717.5 230.5,698.3 230.8,716.5 231.0,698.0 231.3,713.2 231.6,703.5 231.9,716.1 232.2,701.0 232.5,711.0 232.7,702.8 233.0,713.6 233.3,699.5 233.6,711.6 233.9,701.8 234.2,712.0 234.5,699.8 234.7,717.7 235.0,702.0 235.3,713.3 235.6,701.0 235.9,713.7 236.2,702.7 236.4,717.2 236.7,702.6 237.0,722.8 237.3,703.9 237.6,714.9 237.9,704.7 238.1,716.4 238.4,698.1 238.7,717.7 239.0,700.4 239.3,714.2 239.6,704.7 239.8,711.5 240.1,703.0 240.4,714.1 240.7,704.8 241.0,715.5 241.3,698.5 241.6,712.8 241.8,699.4 242.1,714.7 242.4,700.8 242.7,715.2 243.0,700.2 243.3,717.3 243.5,700.0 243.8,716.7 244.1,701.7 244.4,712.2 244.7,699.9 245.0,715.0 245.2,702.2 245.5,716.6 245.8,698.2 246.1,713.3 246.4,701.7 246.7,716.8 246.9,700.4 247.2,715.2 247.5,701.2 247.8,716.0 248.1,704.2 248.4,713.8 248.7,698.6 248.9,715.6 249.2,698.4 249.5,713.8 249.8,702.4 250.1,717.5 250.4,702.4 250.6,713.1 250.9,703.0 251.2,711.4 251.5,703.4 251.8,714.8 252.1,698.9 252.3,722.9 252.6,702.7 252.9,711.3 253.2,701.3 253.5,715.0 253.8,703.1 254.0,712.0 254.3,703.5 254.6,715.8 254.9,703.8 255.2,716.4 255.5,703.4 255.8,717.1 256.0,698.2 256.3,713.8 256.6,701.9 256.9,713.1 257.2,703.8 257.5,713.6 257.7,704.5 258.0,717.5 258.3,698.1 258.6,713.6 258.9,701.2 259.2,717.1 259.4,702.2 259.7,716.5 260.0,701.4 260.3,714.3 260.6,699.0 260.9,715.3 261.1,698.9 261.4,717.6 261.7,703.6 262.0,712.5 262.3,698.1 262.6,717.1 262.9,705.2 263.1,716.6 263.4,699.9 263.7,716.4 264.0,699.2 264.3,705.9 264.6,693.0 264.8,701.7 265.1,688.0 265.4,702.0 265.7,681.9 266.0,695.2 266.3,684.2 266.5,695.4 266.8,682.6 267.1,693.0 267.4,681.1 267.7,694.3 268.0,677.3 268.2,693.4 268.5,683.6 268.8,695.9 269.1,683.6 269.4,692.7 269.7,680.9 270.0,693.8 270.2,680.4 270.5,694.8 270.8,681.3 271.1,692.7 271.4,678.9 271.7,694.0 271.9,681.9 272.2,694.1 272.5,683.1 272.8,695.4 273.1,679.6 273.4,693.6 273.6,677.7 273.9,696.0 274.2,678.6 274.5,695.8 274.8,680.0 275.1,691.8 275.3,677.7 275.6,692.6 275.9,676.9 276.2,695.5 276.5,681.5 276.8,693.4 277.1,679.0 277.3,692.9 277.6,676.8 277.9,690.1 278.2,678.2 278.5,692.3 278.8,680.0 279.0,695.9 279.3,681.0 279.6,693.9 279.9,682.0 280.2,690.2 280.5,683.7 280.7,693.5 281.0,683.1 281.3,693.2 281.6,679.6 281.9,696.4 282.2,679.6 282.4,691.9 282.7,682.6 283.0,694.2 283.3,678.1 283.6,695.7 283.9,682.0 284.2,692.9 284.4,682.1 284.7,691.3 285.0,677.0 285.3,696.0 285.6,682.0 285.9,689.6 286.1,680.6 286.4,695.5 286.7,680.5 287.0,691.0 287.3,681.6 287.6,692.2 287.8,681.9 288.1,693.8 288.4,678.5 288.7,694.5 289.0,682.3 289.3,692.6 289.5,679.2 289.8,693.0 290.1,678.0 290.4,693.3 290.7,681.5 291.0,694.6 291.3,677.8 291.5,692.3 291.8,679.9 292.1,694.8 292.4,678.3 292.7,690.3 293.0,677.6 293.2,693.6 293.5,680.2 293.8,693.9 294.1,682.0 294.4,695.1 294.7,681.2 294.9,695.8 295.2,676.7 295.5,695.0 295.8,683.9 296.1,694.9 296.4,680.0 296.6,691.5 296.9,679.4 297.2,690.4 297.5,681.1 297.8,690.9 298.1,682.1 298.4,693.9 298.6,683.4 298.9,691.2 299.2,682.3 299.5,693.6 299.8,677.5 300.1,692.6 300.3,681.5 300.6,696.2 300.9,677.0 301.2,692.9 301.5,676.9 301.8,693.8 302.0,682.1 302.3,696.5 302.6,678.3 302.9,690.3 303.2,678.2 303.5,693.1 303.7,681.1 304.0,690.9 304.3,681.5 304.6,692.5 304.9,678.2 305.2,694.6 305.5,677.9 305.7,693.7 306.0,680.6 306.3,690.9 306.6,682.0 306.9,693.4 307.2,677.6 307.4,692.5 307.7,679.4 308.0,696.1 308.3,682.4 308.6,694.9 308.9,678.3 309.1,693.7 309.4,679.1 309.7,690.6 310.0,677.4 310.3,689.2 310.6,678.0 310.8,693.1 311.1,679.1 311.4,703.6 311.7,688.7 312.0,701.3 312.3,692.5 312.6,711.0 312.8,694.0 313.1,712.6 313.4,696.9 313.7,710.2 314.0,697.3 314.3,711.2 314.5,703.1 314.8,714.3 315.1,699.8 315.4,712.2 315.7,701.9 316.0,714.8 316.2,699.2 316.5,715.5 316.8,700.8 317.1,713.2 317.4,699.1 317.7,711.5 317.9,700.5 318.2,714.2 318.5,697.9 318.8,713.7 319.1,704.0 319.4,714.5 319.7,698.4 319.9,710.6 320.2,705.3 320.5,717.0 320.8,704.8 321.1,713.3 321.4,702.6 321.6,711.9 321.9,704.3 322.2,711.0 322.5,703.4 322.8,716.3 323.1,699.4 323.3,715.5 323.6,700.0 323.9,724.4 324.2,704.5 324.5,717.4 324.8,699.7 325.0,713.9 325.3,695.2 325.6,713.3 325.9,702.9 326.2,712.9 326.5,700.1 326.8,717.6 327.0,703.3 327.3,711.2 327.6,700.6 327.9,712.8 328.2,704.3 328.5,714.7 328.7,698.7 329.0,713.5 329.3,704.8 329.6,716.3 329.9,699.6 330.2,712.6 330.4,703.4 330.7,715.6 331.0,704.2 331.3,714.5 331.6,701.1 331.9,712.4 332.1,700.2 332.4,717.3 332.7,698.6 333.0,716.1 333.3,703.9 333.6,717.2 333.9,700.5 334.1,713.2 334.4,698.5 334.7,712.0 335.0,699.0 335.3,713.3 335.6,698.4 335.8,710.7 336.1,702.4 336.4,717.7 336.7,704.4 337.0,712.8 337.3,698.3 337.5,717.2 337.8,702.5 338.1,715.0 338.4,701.8 338.7,713.2 339.0,698.4 339.2,716.7 339.5,703.0 339.8,712.1 340.1,698.5 340.4,715.1 340.7,701.6 341.0,717.3 341.2,702.7 341.5,712.4 341.8,702.5 342.1,711.6 342.4,701.8 342.7,715.7 342.9,702.9 343.2,720.3 343.5,698.7 343.8,712.2 344.1,704.1 344.4,715.0 344.6,702.3 344.9,714.6 345.2,701.6 345.5,714.5 345.8,703.6 346.1,714.5 346.3,701.0 346.6,713.8 346.9,698.0 347.2,715.0 347.5,701.2 347.8,714.5 348.1,703.5 348.3,711.7 348.6,703.6 348.9,712.9 349.2,700.9 349.5,716.9 349.8,698.1 350.0,713.8 350.3,699.5 350.6,716.3 350.9,698.0 351.2,717.1 351.5,704.4 351.7,711.5 352.0,699.0 352.3,721.2 352.6,703.3 352.9,710.9 353.2,698.3 353.4,716.0 353.7,700.3 354.0,721.6 354.3,703.4 354.6,717.7 354.9,700.5 355.2,716.9 355.4,701.0 355.7,711.9 356.0,699.2 356.3,713.1 356.6,703.7 356.9,714.2 357.1,701.0 357.4,713.4 357.7,699.4 358.0,713.2 358.3,698.4 358.6,715.3 358.8,698.2 359.1,712.6 359.4,702.2 359.7,709.4 360.0,690.5 360.3,701.9 360.5,683.3 360.8,695.3 361.1,677.5 361.4,693.5 361.7,674.7 362.0,689.4 362.3,673.9 362.5,686.5 362.8,673.9 363.1,683.2 363.4,675.9 363.7,686.7 364.0,674.8 364.2,688.7 364.5,677.3 364.8,686.5 365.1,671.0 365.4,684.9 365.7,672.3 365.9,688.7 366.2,673.9 366.5,686.7 366.8,672.5 367.1,682.2 367.4,675.3 367.6,688.6 367.9,674.7 368.2,687.2 368.5,671.1 368.8,689.4 369.1,674.3 369.4,688.6 369.6,672.2 369.9,685.8 370.2,676.3 370.5,688.5 370.8,671.4 371.1,689.3 371.3,674.1 371.6,683.9 371.9,675.9 372.2,685.5 372.5,671.0 372.8,688.5 373.0,674.4 373.3,685.8 373.6,670.3 373.9,689.0 374.2,673.7 374.5,687.9 374.7,673.7 375.0,687.0 375.3,663.8 375.6,687.3 375.9,675.0 376.2,686.1 376.5,670.3 376.7,688.7 377.0,675.2 377.3,688.4 377.6,671.0 377.9,684.1 378.2,674.9 378.4,686.8 378.7,673.7 379.0,688.9 379.3,673.6 379.6,685.8 379.9,672.6 380.1,689.3 380.4,671.0 380.7,684.0 381.0,670.6 381.3,684.2 381.6,672.6 381.8,686.9 382.1,671.7 382.4,689.3 382.7,672.3 383.0,687.3 383.3,670.5 383.6,688.2 383.8,672.2 384.1,687.1 384.4,672.6 384.7,689.0 385.0,672.9 385.3,685.5 385.5,675.3 385.8,688.0 386.1,676.0 386.4,682.2 386.7,672.8 387.0,685.7 387.2,671.9 387.5,688.3 387.8,670.2 388.1,682.9 388.4,676.1 388.7,688.0 388.9,672.4 389.2,686.9 389.5,671.0 389.8,686.8 390.1,674.0 390.4,689.4 390.7,677.0 390.9,684.2 391.2,675.0 391.5,688.0 391.8,669.7 392.1,688.8 392.4,674.9 392.6,685.7 392.9,676.4 393.2,686.7 393.5,670.6 393.8,685.9 394.1,673.8 394.3,686.3 394.6,674.7 394.9,684.7 395.2,676.2 395.5,687.1 395.8,673.8 396.0,683.8 396.3,676.6 396.6,688.1 396.9,670.4 397.2,686.6 397.5,671.4 397.8,690.1 398.0,675.9 398.3,686.0 398.6,669.7 398.9,687.8 399.2,674.7 399.5,689.2 399.7,675.6 400.0,688.8 400.3,673.4 400.6,683.3 400.9,673.3 401.2,683.1 401.4,676.6 401.7,684.3 402.0,670.7 402.3,686.1 402.6,674.2 402.9,683.2 403.1,672.1 403.4,689.1 403.7,676.1 404.0,682.4 404.3,671.3 404.6,687.1 404.9,670.6 405.1,685.5 405.4,675.3 405.7,684.1 406.0,674.0 406.3,686.6 406.6,675.3 406.8,687.5 407.1,677.9 407.4,696.7 407.7,687.0 408.0,704.4 408.3,691.8 408.5,708.5 408.8,696.4 409.1,713.4 409.4,696.1 409.7,713.7 410.0,689.8 410.2,710.8 410.5,700.9 410.8,714.4 411.1,700.9 411.4,717.2 411.7,698.8 412.0,715.7 412.2,699.3 412.5,711.2 412.8,700.2 413.1,714.3 413.4,703.0 413.7,716.0 413.9,703.6 414.2,713.8 414.5,699.7 414.8,716.2 415.1,702.6 415.4,711.3 415.6,703.4 415.9,714.5 416.2,700.4 416.5,717.4 416.8,700.8 417.1,717.6 417.3,704.2 417.6,716.0 417.9,702.0 418.2,713.6 418.5,698.3 418.8,715.5 419.1,702.5 419.3,715.7 419.6,701.2 419.9,712.5 420.2,698.1 420.5,712.9 420.8,704.4 421.0,715.2 421.3,694.9 421.6,716.9 421.9,698.4 422.2,711.9 422.5,703.8 422.7,711.5 423.0,704.1 423.3,712.8 423.6,701.5 423.9,714.1 424.2,702.3 424.4,717.0 424.7,703.6 425.0,713.4 425.3,699.0 425.6,713.5 425.9,698.7 426.2,713.5 426.4,703.1 426.7,711.8 427.0,700.3 427.3,714.7 427.6,703.4 427.9,717.2 428.1,702.9 428.4,712.5 428.7,700.3 429.0,715.2 429.3,698.1 429.6,713.6 429.8,699.2 430.1,711.3 430.4,697.6 430.7,716.6 431.0,704.8 431.3,717.2 431.5,702.5 431.8,714.3 432.1,698.8 432.4,716.0 432.7,699.9 433.0,714.5 433.3,702.5 433.5,717.3 433.8,704.2 434.1,714.7 434.4,702.3 434.7,713.5 435.0,702.8 435.2,713.3 435.5,703.5 435.8,711.8 436.1,701.0 436.4,714.9 436.7,702.5 436.9,717.2 437.2,701.7 437.5,715.2 437.8,698.0 438.1,714.7 438.4,701.6 438.6,713.1 438.9,699.2 439.2,710.7 439.5,704.3 439.8,712.0 440.1,698.9 440.4,713.0 440.6,699.8 440.9,712.8 441.2,701.1 441.5,715.7 441.8,698.5 442.1,712.6 442.3,704.0 442.6,717.1 442.9,701.5 443.2,717.6 443.5,703.0 443.8,714.7 444.0,702.2 444.3,712.8 444.6,700.4 444.9,714.5 445.2,694.3 445.5,716.9 445.7,702.3 446.0,716.3 446.3,705.0 446.6,714.2 446.9,704.3 447.2,712.9 447.5,700.9 447.7,716.8 448.0,704.4 448.3,711.1 448.6,698.5 448.9,715.7 449.2,703.0 449.4,713.8 449.7,705.1 450.0,714.1 450.3,699.0 450.6,715.4 450.9,701.4 451.1,711.1 451.4,701.1 451.7,712.8 452.0,702.2 452.3,713.1 452.6,701.8 452.8,713.4 453.1,701.1 453.4,711.5 453.7,702.5 454.0,717.5 454.3,699.8 454.6,711.7 454.8,698.5 455.1,715.6 455.4,700.8 455.7,715.7 456.0,698.8 456.3,712.5 456.5,700.5 456.8,717.0 457.1,696.2 457.4,702.9 457.7,678.7 458.0,691.2 458.2,672.2 458.5,681.4 458.8,663.2 459.1,678.3 459.4,661.1 459.7,673.7 459.9,660.0 460.2,667.4 460.5,655.0 460.8,666.9 461.1,657.2 461.4,670.1 461.7,657.1 461.9,664.9 462.2,656.8 462.5,667.5 462.8,656.1 463.1,667.5 463.4,653.3 463.6,670.3 463.9,657.0 464.2,671.4 464.5,657.9 464.8,671.3 465.1,653.2 465.3,670.4 465.6,655.2 465.9,669.6 466.2,656.5 466.5,665.3 466.8,651.8 467.0,671.1 467.3,657.8 467.6,671.4 467.9,651.9 468.2,669.9 468.5,652.3 468.8,664.7 469.0,659.0 469.3,669.1 469.6,656.8 469.9,667.5 470.2,654.4 470.5,665.1 470.7,658.3 471.0,669.4 471.3,646.8 471.6,671.1 471.9,654.1 472.2,670.1 472.4,656.6 472.7,670.0 473.0,657.6 473.3,669.0 473.6,654.4 473.9,669.5 474.1,656.4 474.4,671.3 474.7,658.9 475.0,670.2 475.3,653.5 475.6,668.8 475.9,654.3 476.1,666.3 476.4,652.7 476.7,667.5 477.0,653.5 477.3,671.0 477.6,653.4 477.8,667.6 478.1,655.8 478.4,664.2 478.7,653.3 479.0,665.0 479.3,657.1 479.5,666.2 479.8,654.6 480.1,670.8 480.4,654.9 480.7,667.8 481.0,652.1 481.2,668.8 481.5,654.2 481.8,665.2 482.1,652.4 482.4,671.6 482.7,651.8 483.0,666.9 483.2,652.5 483.5,670.5 483.8,654.7 484.1,670.6 484.4,656.5 484.7,671.4 484.9,659.1 485.2,669.5 485.5,652.3 485.8,669.8 486.1,654.8 486.4,671.2 486.6,656.7 486.9,671.6 487.2,658.4 487.5,670.0 487.8,653.6 488.1,670.5 488.3,653.7 488.6,669.9 488.9,652.9 489.2,670.9 489.5,658.0 489.8,671.3 490.1,655.2 490.3,669.7 490.6,655.2 490.9,665.2 491.2,657.6 491.5,668.7 491.8,654.1 492.0,671.9 492.3,655.2 492.6,671.3 492.9,652.8 493.2,667.3 493.5,656.6 493.7,669.4 494.0,653.6 494.3,668.2 494.6,652.7 494.9,665.7 495.2,653.3 495.4,671.0 495.7,653.7 496.0,666.6 496.3,654.1 496.6,668.7 496.9,652.1 497.2,666.1 497.4,654.3 497.7,671.2 498.0,654.9 498.3,666.3 498.6,655.3 498.9,670.3 499.1,652.0 499.4,667.6 499.7,658.2 500.0,665.1 500.3,654.9 500.6,665.4 500.8,651.9 501.1,671.2 501.4,656.3 501.7,667.1 502.0,655.9 502.3,664.8 502.5,652.7 502.8,667.5 503.1,654.7 503.4,667.1 503.7,654.6 504.0,675.1 504.3,668.7 504.5,686.5 504.8,683.9 505.1,699.9 505.4,689.3 505.7,704.4 506.0,691.5 506.2,710.6 506.5,696.0 506.8,711.6 507.1,697.2 507.4,713.6 507.7,699.7 507.9,712.1 508.2,699.7 508.5,711.5 508.8,703.5 509.1,713.9 509.4,698.5 509.6,712.4 509.9,701.1 510.2,710.8 510.5,703.0 510.8,713.2 511.1,702.6 511.4,714.8 511.6,699.4 511.9,717.4 512.2,699.9 512.5,716.1 512.8,703.4 513.1,715.7 513.3,700.0 513.6,716.5 513.9,698.1 514.2,715.9 514.5,703.9 514.8,712.4 515.0,705.0 515.3,716.9 515.6,699.2 515.9,712.0 516.2,698.6 516.5,713.5 516.7,701.6 517.0,712.9 517.3,700.2 517.6,712.2 517.9,699.7 518.2,715.6 518.5,699.4 518.7,716.3 519.0,702.3 519.3,713.8 519.6,699.5 519.9,714.9 520.2,700.5 520.4,716.4 520.7,704.7 521.0,712.2 521.3,698.0 521.6,713.2 521.9,698.5 522.1,717.6 522.4,702.1 522.7,713.6 523.0,701.6 523.3,713.4 523.6,700.7 523.8,714.5 524.1,700.8 524.4,716.2 524.7,703.5 525.0,714.1 525.3,700.5 525.6,717.5 525.8,702.6 526.1,714.9 526.4,700.5 526.7,713.9 527.0,702.9 527.3,716.3 527.5,698.6 527.8,717.2 528.1,701.2 528.4,711.2 528.7,703.2 529.0,717.4 529.2,700.6 529.5,716.2 529.8,702.7 530.1,715.9 530.4,703.0 530.7,711.2 530.9,700.1 531.2,715.2 531.5,704.3 531.8,716.6 532.1,699.6 532.4,717.8 532.7,695.7 532.9,717.7 533.2,701.6 533.5,712.8 533.8,703.8 534.1,714.7 534.4,700.7 534.6,716.1 534.9,704.2 535.2,712.8 535.5,701.2 535.8,716.5 536.1,704.2 536.3,716.7 536.6,703.0 536.9,716.6 537.2,702.0 537.5,722.8 537.8,699.5 538.0,717.0 538.3,701.5 538.6,711.7 538.9,700.1 539.2,711.1 539.5,701.8 539.8,714.5 540.0,703.5 540.3,712.7 540.6,699.2 540.9,713.4 541.2,701.5 541.5,716.0 541.7,701.6 542.0,714.3 542.3,698.3 542.6,714.6 542.9,698.8 543.2,714.1 543.4,701.3 543.7,713.0 544.0,701.1 544.3,710.5 544.6,702.0 544.9,718.0 545.1,703.0 545.4,716.4 545.7,698.1 546.0,715.3 546.3,701.2 546.6,716.5 546.9,700.8 547.1,717.4 547.4,703.1 547.7,715.3 548.0,702.5 548.3,710.6 548.6,699.7 548.8,712.8 549.1,689.7 549.4,699.5 549.7,674.7 550.0,687.1 550.3,665.2 550.5,678.1 550.8,662.2 551.1,667.5 551.4,654.6 551.7,665.9 552.0,652.3 552.2,663.7 552.5,647.6 552.8,664.3 553.1,649.1 553.4,660.5 553.7,649.7 554.0,659.6 554.2,644.9 554.5,656.2 554.8,647.0 555.1,659.2 555.4,643.8 555.7,661.7 555.9,647.1 556.2,655.7 556.5,647.6 556.8,660.7 557.1,647.0 557.4,660.3 557.6,646.4 557.9,657.6 558.2,644.2 558.5,655.5 558.8,647.5 559.1,661.0 559.3,647.6 559.6,661.8 559.9,646.8 560.2,655.4 560.5,643.7 560.8,660.3 561.1,644.1 561.3,660.6 561.6,649.0 561.9,660.3 562.2,649.5 562.5,660.8 562.8,646.1 563.0,660.7 563.3,646.1 563.6,659.2 563.9,644.3 564.2,659.0 564.5,645.3 564.7,657.6 565.0,646.0 565.3,661.2 565.6,645.3 565.9,658.4 566.2,646.7 566.4,662.2 566.7,647.9 567.0,655.1 567.3,645.3 567.6,657.9 567.9,636.0 568.2,658.7 568.4,642.7 568.7,657.4 569.0,646.6 569.3,661.9 569.6,644.2 569.9,660.4 570.1,647.7 570.4,657.7 570.7,642.9 571.0,662.0 571.3,646.2 571.6,660.0 571.8,648.4 572.1,658.1 572.4,643.7 572.7,661.9 573.0,648.1 573.3,661.4 573.5,645.3 573.8,659.5 574.1,642.7 574.4,655.3 574.7,644.0 575.0,660.1 575.3,643.6 575.5,660.7 575.8,646.2 576.1,658.0 576.4,648.7 576.7,657.7 577.0,645.3 577.2,658.8 577.5,647.7 577.8,662.1 578.1,643.4 578.4,662.3 578.7,648.4 578.9,656.4 579.2,649.6 579.5,659.1 579.8,645.2 580.1,656.3 580.4,647.0 580.6,660.1 580.9,648.6 581.2,657.8 581.5,646.3 581.8,658.0 582.1,645.1 582.4,656.4 582.6,644.3 582.9,657.2 583.2,643.6 583.5,656.9 583.8,642.7 584.1,657.6 584.3,645.2 584.6,658.3 584.9,646.6 585.2,658.0 585.5,643.4 585.8,655.9 586.0,644.1 586.3,655.2 586.6,646.2 586.9,660.9 587.2,643.5 587.5,661.4 587.7,646.6 588.0,659.3 588.3,647.8 588.6,655.9 588.9,648.2 589.2,661.5 589.5,643.5 589.7,655.9 590.0,647.1 590.3,658.7 590.6,645.5 590.9,661.1 591.2,648.3 591.4,656.1 591.7,648.2 592.0,659.9 592.3,643.2 592.6,658.1 592.9,644.2 593.1,660.2 593.4,645.3 593.7,661.9 594.0,643.8 594.3,657.8 594.6,643.0 594.8,657.8 595.1,644.4 595.4,656.4 595.7,644.3 596.0,656.4 596.3,653.6 596.6,669.9 596.8,667.5 597.1,686.5 597.4,681.6 597.7,694.9 598.0,688.3 598.3,702.4 598.5,691.9 598.8,715.3 599.1,696.7 599.4,706.9 599.7,697.6 600.0,711.3 600.2,700.4 600.5,713.9 600.8,697.7 601.1,715.7 601.4,699.4 601.7,715.4 601.9,698.3 602.2,712.4 602.5,698.8 602.8,713.1 603.1,704.0 603.4,717.4 603.7,692.7 603.9,713.1 604.2,702.3 604.5,717.4 604.8,703.8 605.1,716.5 605.4,702.3 605.6,715.8 605.9,701.3 606.2,713.0 606.5,701.7 606.8,714.0 607.1,703.1 607.3,717.4 607.6,699.3 607.9,712.7 608.2,698.9 608.5,711.7 608.8,699.1 609.0,710.4 609.3,701.0 609.6,712.0 609.9,699.8 610.2,713.4 610.5,705.1 610.8,713.0 611.0,698.9 611.3,713.1 611.6,701.3 611.9,713.9 612.2,704.1 612.5,716.0 612.7,704.5 613.0,713.8 613.3,700.2 613.6,716.3 613.9,702.2 614.2,713.5 614.4,704.8 614.7,713.0 615.0,704.8 615.3,713.1 615.6,698.6 615.9,712.6 616.1,700.3 616.4,717.3 616.7,702.0 617.0,713.2 617.3,704.9 617.6,713.3 617.9,705.2 618.1,716.1 618.4,699.0 618.7,717.1 619.0,698.8 619.3,714.0 619.6,703.2 619.8,714.8 620.1,701.9 620.4,717.7 620.7,701.3 621.0,715.0 621.3,698.3 621.5,717.5 621.8,701.3 622.1,717.6 622.4,703.2 622.7,712.8 623.0,702.1 623.2,714.4 623.5,702.2 623.8,712.2 624.1,703.1 624.4,717.4 624.7,702.0 625.0,714.1 625.2,701.0 625.5,711.4 625.8,693.1 626.1,715.3 626.4,699.5 626.7,717.1 626.9,704.4 627.2,715.1 627.5,703.4 627.8,714.1 628.1,698.2 628.4,717.0 628.6,699.9 628.9,713.9 629.2,703.9 629.5,714.1 629.8,698.9 630.1,715.5 630.3,700.7 630.6,711.4 630.9,701.2 631.2,713.4 631.5,700.1 631.8,714.2 632.1,702.2 632.3,717.3 632.6,701.6 632.9,717.1 633.2,699.5 633.5,711.4 633.8,704.2 634.0,712.2 634.3,705.3 634.6,715.7 634.9,704.1 635.2,710.6 635.5,703.2 635.7,715.9 636.0,693.9 636.3,697.2 636.6,674.7 636.9,684.4 637.2,662.4 637.4,673.8 637.7,654.9 638.0,663.9 638.3,652.8 638.6,665.8 638.9,649.8 639.2,670.3 639.4,646.6 639.7,656.6 640.0,644.6 640.3,657.8 640.6,645.0 640.9,659.2 641.1,646.2 641.4,656.0 641.7,643.7 642.0,660.1 642.3,645.8 642.6,659.0 642.8,648.3 643.1,657.2 643.4,643.9 643.7,663.0 644.0,641.6 644.3,658.9 644.5,642.8 644.8,656.0 645.1,641.3 645.4,659.8 645.7,645.7 646.0,658.3 646.3,643.5 646.5,657.4 646.8,646.0 647.1,660.5 647.4,643.1 647.7,655.9 648.0,648.3 648.2,660.9 648.5,646.4 648.8,655.8 649.1,647.1 649.4,655.3 649.7,643.5 649.9,655.1 650.2,645.9 650.5,656.3 650.8,648.4 651.1,660.2 651.4,643.4 651.6,654.8 651.9,644.6 652.2,658.1 652.5,645.3 652.8,660.4 653.1,645.7 653.4,659.6 653.6,643.6 653.9,659.3 654.2,642.0 654.5,654.4 654.8,643.8 655.1,659.5 655.3,645.3 655.6,658.7 655.9,646.8 656.2,655.9 656.5,645.5 656.8,660.8 657.0,637.7 657.3,659.2 657.6,642.5 657.9,658.8 658.2,642.5 658.5,660.0 658.7,644.1 659.0,659.2 659.3,641.3 659.6,657.9 659.9,647.4 660.2,664.0 660.5,648.4 660.7,659.7 661.0,645.0 661.3,657.8 661.6,643.5 661.9,655.7 662.2,642.0 662.4,660.6 662.7,645.6 663.0,656.1 663.3,645.1 663.6,659.4 663.9,645.2 664.1,656.4 664.4,642.4 664.7,654.5 665.0,644.5 665.3,659.6 665.6,645.2 665.8,655.0 666.1,644.9 666.4,653.8 666.7,645.1 667.0,658.9 667.3,645.9 667.6,658.4 667.8,642.5 668.1,660.0 668.4,643.1 668.7,655.6 669.0,641.5 669.3,657.8 669.5,642.1 669.8,655.8 670.1,642.1 670.4,659.3 670.7,645.6 671.0,659.3 671.2,642.3 671.5,654.4 671.8,646.4 672.1,654.7 672.4,644.1 672.7,660.8 672.9,643.2 673.2,660.7 673.5,645.6 673.8,656.9 674.1,647.3 674.4,653.9 674.7,646.2 674.9,656.1 675.2,642.9 675.5,660.1 675.8,647.0 676.1,661.0 676.4,644.0 676.6,660.7 676.9,647.8 677.2,659.9 677.5,644.3 677.8,653.8 678.1,641.8 678.3,657.5 678.6,642.7 678.9,654.6 679.2,648.5 679.5,659.9 679.8,645.3 680.0,659.1 680.3,644.1 680.6,659.1 680.9,648.6 681.2,660.8 681.5,648.1 681.8,659.6 682.0,641.2 682.3,657.9 682.6,644.4 682.9,657.7 683.2,641.4 683.5,661.0 683.7,644.5 684.0,660.5 684.3,645.8 684.6,656.8 684.9,644.5 685.2,658.1 685.4,642.1 685.7,656.4 686.0,647.6 686.3,654.6 686.6,641.8 686.9,661.0 687.1,644.2 687.4,657.8 687.7,645.5 688.0,656.5" fill="none" stroke="#b8180e" stroke-width="1.2" stroke-linejoin="bevel"/>
</g>
<text x="703.8" y="448.8" font-size="53" fill="#000" font-weight="bold">d</text>
<g clip-path="url(#clipd)">
<polyline points="823.0,718.9 823.3,712.4 823.6,718.0 823.9,710.3 824.1,721.1 824.4,711.8 824.7,718.6 825.0,713.2 825.3,721.3 825.6,710.8 825.8,719.2 826.1,711.0 826.4,721.5 826.7,711.5 827.0,720.1 827.3,712.0 827.5,721.7 827.8,711.7 828.1,721.6 828.4,710.5 828.7,720.1 829.0,711.5 829.2,718.5 829.5,710.7 829.8,717.9 830.1,712.9 830.4,719.9 830.7,710.0 831.0,719.7 831.2,711.4 831.5,719.4 831.8,712.7 832.1,721.6 832.4,714.0 832.7,721.1 832.9,713.1 833.2,718.6 833.5,714.1 833.8,721.6 834.1,711.0 834.4,717.7 834.6,710.2 834.9,719.7 835.2,711.5 835.5,719.2 835.8,712.2 836.1,719.6 836.3,710.3 836.6,717.9 836.9,710.8 837.2,719.2 837.5,710.1 837.8,718.8 838.1,714.1 838.3,720.8 838.6,714.2 838.9,719.0 839.2,713.7 839.5,721.1 839.8,710.1 840.0,718.9 840.3,714.2 840.6,719.0 840.9,710.7 841.2,717.8 841.5,713.1 841.7,718.9 842.0,713.6 842.3,721.7 842.6,710.1 842.9,721.6 843.2,710.8 843.4,720.0 843.7,713.2 844.0,721.6 844.3,712.6 844.6,721.2 844.9,710.7 845.2,720.7 845.4,712.9 845.7,721.8 846.0,710.1 846.3,720.7 846.6,710.4 846.9,721.9 847.1,714.0 847.4,720.6 847.7,711.0 848.0,720.8 848.3,706.3 848.6,721.5 848.8,710.7 849.1,721.5 849.4,710.5 849.7,720.7 850.0,710.4 850.3,719.9 850.5,714.3 850.8,720.4 851.1,710.5 851.4,718.4 851.7,710.9 852.0,717.6 852.3,710.7 852.5,720.2 852.8,710.8 853.1,718.9 853.4,710.2 853.7,718.3 854.0,710.5 854.2,719.8 854.5,710.9 854.8,721.5 855.1,712.8 855.4,719.7 855.7,713.4 855.9,718.6 856.2,712.0 856.5,720.2 856.8,707.7 857.1,719.3 857.4,712.0 857.6,720.0 857.9,713.1 858.2,719.5 858.5,710.1 858.8,720.8 859.1,712.7 859.4,719.9 859.6,712.8 859.9,721.2 860.2,712.2 860.5,721.1 860.8,711.3 861.1,718.1 861.3,710.7 861.6,721.6 861.9,711.6 862.2,720.5 862.5,712.3 862.8,718.6 863.0,712.7 863.3,718.9 863.6,710.2 863.9,721.2 864.2,710.2 864.5,720.4 864.7,711.6 865.0,721.1 865.3,713.7 865.6,720.8 865.9,711.5 866.2,719.2 866.5,712.3 866.7,721.6 867.0,712.8 867.3,719.3 867.6,710.0 867.9,719.6 868.2,710.7 868.4,722.3 868.7,713.4 869.0,720.8 869.3,712.5 869.6,720.6 869.9,714.0 870.1,721.9 870.4,711.5 870.7,718.2 871.0,713.2 871.3,721.6 871.6,755.5 871.8,792.2 872.1,809.5 872.4,833.9 872.7,835.9 873.0,855.3 873.3,855.9 873.6,866.5 873.8,865.0 874.1,873.0 874.4,867.0 874.7,878.1 875.0,869.1 875.3,879.8 875.5,871.1 875.8,880.6 876.1,871.5 876.4,879.2 876.7,871.8 877.0,881.1 877.2,872.1 877.5,881.2 877.8,876.0 878.1,879.4 878.4,875.3 878.7,883.2 878.9,874.9 879.2,881.8 879.5,875.2 879.8,883.8 880.1,872.2 880.4,881.4 880.7,872.5 880.9,880.1 881.2,872.2 881.5,882.5 881.8,873.4 882.1,882.5 882.4,872.4 882.6,881.1 882.9,873.3 883.2,883.2 883.5,872.3 883.8,882.6 884.1,873.4 884.3,883.8 884.6,875.8 884.9,881.9 885.2,873.4 885.5,880.6 885.8,872.7 886.0,882.7 886.3,872.0 886.6,884.8 886.9,872.5 887.2,885.6 887.5,872.9 887.8,881.8 888.0,874.4 888.3,882.9 888.6,874.7 888.9,882.4 889.2,874.2 889.5,882.9 889.7,874.7 890.0,883.1 890.3,874.1 890.6,879.6 890.9,872.2 891.2,882.9 891.4,873.3 891.7,881.2 892.0,874.9 892.3,879.6 892.6,874.7 892.9,880.3 893.1,875.8 893.4,880.4 893.7,875.1 894.0,882.6 894.3,873.8 894.6,881.3 894.9,872.0 895.1,880.8 895.4,875.6 895.7,881.1 896.0,873.2 896.3,879.9 896.6,875.3 896.8,879.6 897.1,875.2 897.4,879.7 897.7,874.6 898.0,882.4 898.3,872.0 898.5,880.7 898.8,872.1 899.1,883.8 899.4,872.3 899.7,882.6 900.0,875.7 900.2,880.3 900.5,873.6 900.8,881.4 901.1,872.5 901.4,879.7 901.7,875.1 902.0,882.2 902.2,873.3 902.5,881.4 902.8,872.1 903.1,881.3 903.4,873.1 903.7,880.6 903.9,872.9 904.2,881.9 904.5,874.7 904.8,881.5 905.1,874.3 905.4,881.3 905.6,873.8 905.9,883.1 906.2,874.2 906.5,881.1 906.8,872.3 907.1,883.7 907.3,875.2 907.6,882.3 907.9,869.5 908.2,881.7 908.5,875.5 908.8,880.5 909.1,874.1 909.3,882.5 909.6,874.5 909.9,882.1 910.2,872.1 910.5,881.2 910.8,873.6 911.0,883.3 911.3,873.9 911.6,883.4 911.9,872.0 912.2,882.8 912.5,876.0 912.7,883.4 913.0,872.1 913.3,882.4 913.6,874.9 913.9,881.8 914.2,875.1 914.4,881.0 914.7,872.1 915.0,881.0 915.3,876.4 915.6,883.3 915.9,875.8 916.2,880.0 916.4,872.2 916.7,883.3 917.0,872.6 917.3,883.5 917.6,867.7 917.9,879.4 918.1,873.7 918.4,880.0 918.7,873.2 919.0,882.0 919.3,873.1 919.6,881.7 919.8,833.7 920.1,808.1 920.4,778.7 920.7,767.1 921.0,750.1 921.3,745.3 921.5,731.6 921.8,733.9 922.1,721.8 922.4,728.3 922.7,717.4 923.0,724.4 923.3,715.0 923.5,722.8 923.8,712.0 924.1,722.3 924.4,713.1 924.7,719.9 925.0,713.3 925.2,719.2 925.5,713.1 925.8,720.9 926.1,710.7 926.4,719.4 926.7,713.5 926.9,722.0 927.2,714.5 927.5,717.6 927.8,711.7 928.1,719.0 928.4,712.4 928.6,719.8 928.9,712.9 929.2,721.2 929.5,712.7 929.8,721.9 930.1,711.0 930.4,721.9 930.6,712.6 930.9,717.5 931.2,710.9 931.5,720.0 931.8,712.2 932.1,719.6 932.3,712.4 932.6,717.7 932.9,713.7 933.2,721.0 933.5,710.5 933.8,720.7 934.0,712.4 934.3,718.2 934.6,710.5 934.9,721.3 935.2,712.2 935.5,721.5 935.7,711.5 936.0,719.1 936.3,714.2 936.6,720.6 936.9,713.1 937.2,720.0 937.5,712.6 937.7,719.7 938.0,713.7 938.3,717.6 938.6,710.9 938.9,721.0 939.2,713.6 939.4,719.0 939.7,711.7 940.0,721.9 940.3,710.8 940.6,721.7 940.9,712.6 941.1,721.1 941.4,710.4 941.7,720.7 942.0,711.5 942.3,720.6 942.6,714.3 942.8,721.5 943.1,714.1 943.4,721.1 943.7,710.7 944.0,720.4 944.3,714.1 944.6,719.8 944.8,711.4 945.1,721.2 945.4,711.5 945.7,717.6 946.0,710.8 946.3,717.6 946.5,712.6 946.8,720.4 947.1,710.3 947.4,720.6 947.7,713.0 948.0,721.5 948.2,711.1 948.5,719.6 948.8,713.0 949.1,719.6 949.4,710.6 949.7,721.5 949.9,711.0 950.2,720.9 950.5,710.7 950.8,718.2 951.1,713.4 951.4,721.5 951.7,710.6 951.9,720.3 952.2,711.4 952.5,717.6 952.8,711.7 953.1,719.1 953.4,710.7 953.6,721.2 953.9,710.2 954.2,719.6 954.5,711.3 954.8,718.7 955.1,711.8 955.3,719.2 955.6,712.1 955.9,720.2 956.2,710.7 956.5,718.7 956.8,711.6 957.0,725.6 957.3,712.4 957.6,718.5 957.9,710.5 958.2,720.9 958.5,710.1 958.8,718.5 959.0,712.6 959.3,718.8 959.6,712.1 959.9,718.4 960.2,712.5 960.5,721.3 960.7,712.7 961.0,720.8 961.3,710.7 961.6,719.0 961.9,711.3 962.2,721.6 962.4,711.9 962.7,721.8 963.0,712.5 963.3,720.5 963.6,713.5 963.9,718.6 964.1,713.4 964.4,720.6 964.7,713.4 965.0,720.7 965.3,712.9 965.6,720.8 965.9,711.3 966.1,721.6 966.4,710.7 966.7,720.0 967.0,710.9 967.3,718.3 967.6,711.0 967.8,719.5 968.1,764.4 968.4,809.9 968.7,830.9 969.0,861.0 969.3,865.8 969.5,886.6 969.8,889.5 970.1,900.5 970.4,898.6 970.7,908.2 971.0,903.5 971.2,915.5 971.5,907.1 971.8,914.7 972.1,909.9 972.4,924.2 972.7,912.6 973.0,920.6 973.2,911.3 973.5,921.0 973.8,911.3 974.1,920.9 974.4,910.3 974.7,917.8 974.9,913.1 975.2,918.1 975.5,912.4 975.8,918.4 976.1,914.0 976.4,919.3 976.6,913.9 976.9,921.4 977.2,912.4 977.5,918.8 977.8,912.1 978.1,919.6 978.3,911.6 978.6,920.4 978.9,910.8 979.2,919.4 979.5,911.4 979.8,919.8 980.1,911.2 980.3,919.5 980.6,912.7 980.9,919.6 981.2,911.7 981.5,922.1 981.8,912.5 982.0,920.9 982.3,911.8 982.6,921.7 982.9,911.0 983.2,921.8 983.5,910.5 983.7,918.4 984.0,913.7 984.3,920.7 984.6,912.6 984.9,922.0 985.2,912.1 985.4,918.8 985.7,912.7 986.0,920.5 986.3,912.3 986.6,920.7 986.9,913.9 987.2,919.9 987.4,913.8 987.7,919.4 988.0,910.9 988.3,920.6 988.6,913.4 988.9,920.0 989.1,913.9 989.4,918.7 989.7,913.3 990.0,918.7 990.3,910.6 990.6,921.9 990.8,910.8 991.1,920.3 991.4,912.4 991.7,921.2 992.0,913.6 992.3,921.2 992.5,914.1 992.8,918.6 993.1,914.2 993.4,921.7 993.7,911.4 994.0,920.8 994.3,913.8 994.5,920.3 994.8,911.8 995.1,920.9 995.4,914.7 995.7,920.9 996.0,910.8 996.2,921.1 996.5,914.3 996.8,921.9 997.1,911.0 997.4,919.9 997.7,911.9 997.9,920.2 998.2,912.1 998.5,920.6 998.8,913.1 999.1,919.7 999.4,913.2 999.6,919.0 999.9,912.7 1000.2,921.2 1000.5,913.3 1000.8,920.1 1001.1,913.9 1001.4,920.9 1001.6,914.2 1001.9,918.7 1002.2,913.4 1002.5,920.5 1002.8,911.0 1003.1,919.3 1003.3,913.2 1003.6,921.4 1003.9,910.9 1004.2,922.1 1004.5,912.6 1004.8,919.4 1005.0,912.6 1005.3,918.2 1005.6,911.6 1005.9,920.2 1006.2,913.0 1006.5,918.9 1006.7,912.2 1007.0,918.9 1007.3,912.4 1007.6,920.3 1007.9,913.3 1008.2,917.9 1008.5,911.6 1008.7,920.4 1009.0,912.8 1009.3,919.8 1009.6,911.3 1009.9,921.3 1010.2,910.3 1010.4,920.0 1010.7,913.7 1011.0,921.4 1011.3,911.0 1011.6,922.1 1011.9,913.4 1012.1,920.6 1012.4,911.0 1012.7,921.6 1013.0,912.6 1013.3,921.5 1013.6,913.9 1013.8,919.1 1014.1,912.6 1014.4,918.9 1014.7,914.2 1015.0,921.3 1015.3,911.8 1015.6,918.0 1015.8,911.6 1016.1,922.1 1016.4,858.5 1016.7,830.6 1017.0,793.6 1017.3,780.1 1017.5,755.4 1017.8,754.3 1018.1,735.4 1018.4,739.5 1018.7,726.1 1019.0,730.5 1019.2,719.9 1019.5,724.2 1019.8,718.0 1020.1,724.3 1020.4,715.2 1020.7,722.1 1020.9,714.6 1021.2,718.5 1021.5,714.5 1021.8,718.6 1022.1,713.6 1022.4,718.5 1022.7,712.7 1022.9,721.0 1023.2,712.2 1023.5,720.5 1023.8,713.2 1024.1,722.0 1024.4,711.4 1024.6,717.7 1024.9,710.8 1025.2,720.5 1025.5,713.4 1025.8,718.0 1026.1,713.1 1026.3,720.4 1026.6,713.5 1026.9,721.1 1027.2,712.0 1027.5,721.2 1027.8,711.8 1028.0,718.4 1028.3,711.2 1028.6,720.8 1028.9,712.4 1029.2,721.0 1029.5,712.9 1029.8,719.5 1030.0,710.1 1030.3,719.4 1030.6,710.4 1030.9,719.8 1031.2,711.0 1031.5,721.3 1031.7,711.2 1032.0,720.1 1032.3,710.3 1032.6,721.6 1032.9,712.0 1033.2,719.6 1033.4,711.3 1033.7,720.7 1034.0,712.2 1034.3,721.9 1034.6,712.5 1034.9,721.6 1035.1,711.1 1035.4,719.8 1035.7,713.3 1036.0,721.4 1036.3,711.8 1036.6,721.9 1036.9,710.5 1037.1,718.4 1037.4,713.8 1037.7,719.2 1038.0,711.4 1038.3,720.0 1038.6,710.0 1038.8,721.8 1039.1,714.3 1039.4,719.3 1039.7,713.6 1040.0,721.4 1040.3,712.8 1040.5,717.9 1040.8,711.7 1041.1,720.3 1041.4,711.2 1041.7,718.9 1042.0,711.2 1042.2,719.4 1042.5,712.4 1042.8,721.8 1043.1,712.1 1043.4,720.0 1043.7,714.3 1044.0,720.1 1044.2,712.6 1044.5,721.3 1044.8,710.8 1045.1,720.6 1045.4,711.1 1045.7,719.4 1045.9,710.4 1046.2,721.2 1046.5,712.2 1046.8,721.7 1047.1,711.3 1047.4,719.3 1047.6,710.8 1047.9,721.1 1048.2,712.4 1048.5,721.1 1048.8,711.8 1049.1,721.4 1049.3,713.3 1049.6,720.0 1049.9,714.4 1050.2,719.1 1050.5,714.3 1050.8,720.1 1051.1,713.3 1051.3,721.5 1051.6,712.0 1051.9,721.5 1052.2,712.1 1052.5,718.9 1052.8,712.5 1053.0,719.9 1053.3,710.5 1053.6,719.5 1053.9,710.2 1054.2,718.6 1054.5,712.8 1054.7,721.7 1055.0,712.8 1055.3,718.1 1055.6,711.6 1055.9,721.0 1056.2,711.6 1056.4,718.4 1056.7,712.9 1057.0,721.6 1057.3,710.4 1057.6,721.4 1057.9,710.9 1058.2,724.2 1058.4,712.7 1058.7,720.2 1059.0,710.3 1059.3,721.9 1059.6,710.8 1059.9,720.3 1060.1,714.1 1060.4,720.7 1060.7,713.8 1061.0,719.0 1061.3,713.1 1061.6,719.9 1061.8,769.6 1062.1,817.9 1062.4,841.4 1062.7,871.1 1063.0,877.8 1063.3,898.6 1063.5,902.4 1063.8,917.4 1064.1,914.9 1064.4,925.2 1064.7,919.9 1065.0,929.9 1065.3,921.7 1065.5,933.0 1065.8,925.4 1066.1,934.8 1066.4,924.8 1066.7,935.8 1067.0,925.3 1067.2,936.9 1067.5,923.8 1067.8,933.6 1068.1,928.1 1068.4,937.4 1068.7,927.3 1068.9,936.0 1069.2,925.9 1069.5,935.5 1069.8,929.7 1070.1,934.4 1070.4,929.2 1070.6,937.7 1070.9,925.9 1071.2,935.3 1071.5,929.3 1071.8,937.0 1072.1,929.0 1072.4,933.9 1072.6,924.6 1072.9,934.1 1073.2,929.0 1073.5,937.1 1073.8,926.8 1074.1,937.3 1074.3,928.5 1074.6,937.1 1074.9,927.5 1075.2,934.5 1075.5,928.8 1075.8,937.2 1076.0,928.7 1076.3,937.6 1076.6,927.5 1076.9,937.0 1077.2,929.0 1077.5,934.6 1077.7,928.4 1078.0,935.2 1078.3,926.5 1078.6,935.4 1078.9,929.6 1079.2,935.3 1079.5,926.4 1079.7,935.5 1080.0,926.7 1080.3,936.6 1080.6,930.2 1080.9,933.7 1081.2,929.0 1081.4,936.8 1081.7,926.9 1082.0,934.5 1082.3,927.6 1082.6,935.3 1082.9,929.9 1083.1,934.1 1083.4,927.6 1083.7,934.9 1084.0,927.4 1084.3,937.2 1084.6,927.5 1084.8,934.5 1085.1,928.9 1085.4,935.9 1085.7,926.4 1086.0,934.9 1086.3,927.3 1086.6,934.7 1086.8,927.4 1087.1,935.9 1087.4,928.0 1087.7,937.4 1088.0,928.2 1088.3,936.8 1088.5,929.3 1088.8,935.6 1089.1,927.8 1089.4,937.1 1089.7,929.2 1090.0,935.1 1090.2,924.4 1090.5,937.5 1090.8,928.8 1091.1,939.3 1091.4,926.9 1091.7,934.9 1091.9,927.1 1092.2,937.1 1092.5,927.6 1092.8,936.7 1093.1,927.2 1093.4,935.9 1093.7,930.0 1093.9,937.7 1094.2,926.0 1094.5,936.5 1094.8,928.0 1095.1,935.5 1095.4,927.2 1095.6,935.4 1095.9,929.4 1096.2,941.8 1096.5,927.2 1096.8,936.0 1097.1,926.9 1097.3,935.2 1097.6,929.0 1097.9,935.8 1098.2,927.2 1098.5,936.9 1098.8,930.2 1099.0,933.6 1099.3,926.1 1099.6,935.1 1099.9,929.2 1100.2,936.9 1100.5,928.8 1100.8,937.8 1101.0,927.9 1101.3,934.4 1101.6,926.8 1101.9,935.2 1102.2,929.4 1102.5,937.1 1102.7,927.6 1103.0,937.1 1103.3,929.5 1103.6,936.5 1103.9,929.8 1104.2,936.7 1104.4,929.8 1104.7,934.7 1105.0,927.4 1105.3,935.7 1105.6,927.7 1105.9,936.2 1106.1,927.0 1106.4,934.5 1106.7,926.3 1107.0,934.7 1107.3,927.0 1107.6,933.9 1107.9,928.6 1108.1,935.6 1108.4,928.9 1108.7,937.0 1109.0,927.9 1109.3,935.3 1109.6,930.3 1109.8,936.2 1110.1,874.1 1110.4,838.8 1110.7,798.3 1111.0,786.6 1111.3,758.4 1111.5,753.7 1111.8,739.7 1112.1,740.5 1112.4,725.8 1112.7,731.7 1113.0,719.9 1113.2,725.3 1113.5,715.0 1113.8,724.6 1114.1,713.3 1114.4,721.1 1114.7,712.1 1115.0,721.1 1115.2,712.2 1115.5,720.1 1115.8,714.2 1116.1,724.5 1116.4,712.8 1116.7,721.8 1116.9,710.5 1117.2,720.7 1117.5,712.1 1117.8,720.3 1118.1,712.4 1118.4,720.8 1118.6,710.6 1118.9,718.5 1119.2,711.0 1119.5,721.3 1119.8,712.7 1120.1,721.3 1120.3,711.7 1120.6,721.8 1120.9,712.7 1121.2,721.1 1121.5,713.9 1121.8,719.6 1122.1,710.3 1122.3,721.7 1122.6,714.5 1122.9,719.2 1123.2,712.5 1123.5,721.7 1123.8,712.6 1124.0,721.1 1124.3,712.3 1124.6,721.6 1124.9,712.5 1125.2,720.8 1125.5,713.9 1125.7,718.6 1126.0,712.7 1126.3,718.9 1126.6,714.1 1126.9,720.1 1127.2,714.1 1127.4,718.8 1127.7,710.3 1128.0,721.6 1128.3,713.2 1128.6,718.8 1128.9,713.2 1129.2,720.5 1129.4,711.0 1129.7,720.8 1130.0,710.8 1130.3,718.8 1130.6,713.8 1130.9,720.9 1131.1,712.3 1131.4,718.8 1131.7,711.9 1132.0,720.1 1132.3,712.0 1132.6,721.6 1132.8,713.6 1133.1,722.5 1133.4,712.8 1133.7,719.6 1134.0,710.2 1134.3,721.4 1134.5,712.4 1134.8,719.3 1135.1,712.7 1135.4,721.6 1135.7,711.6 1136.0,725.8 1136.3,711.9 1136.5,720.1 1136.8,711.6 1137.1,718.2 1137.4,714.3 1137.7,721.2 1138.0,710.1 1138.2,719.4 1138.5,712.1 1138.8,720.9 1139.1,710.5 1139.4,719.7 1139.7,711.0 1139.9,719.9 1140.2,711.8 1140.5,720.7 1140.8,710.4 1141.1,721.9 1141.4,712.6 1141.6,721.1 1141.9,711.4 1142.2,719.5 1142.5,711.1 1142.8,720.3 1143.1,710.5 1143.4,721.0 1143.6,710.6 1143.9,721.5 1144.2,713.3 1144.5,721.1 1144.8,714.0 1145.1,721.5 1145.3,713.1 1145.6,718.9 1145.9,710.9 1146.2,721.0 1146.5,713.0 1146.8,720.5 1147.0,712.4 1147.3,718.7 1147.6,712.2 1147.9,719.9 1148.2,706.5 1148.5,719.3 1148.7,711.3 1149.0,718.0 1149.3,713.0 1149.6,719.4 1149.9,710.6 1150.2,720.8 1150.5,711.1 1150.7,721.4 1151.0,713.4 1151.3,720.7 1151.6,713.2 1151.9,721.0 1152.2,711.9 1152.4,720.7 1152.7,710.2 1153.0,720.9 1153.3,710.7 1153.6,721.6 1153.9,711.1 1154.1,717.9 1154.4,711.7 1154.7,717.8 1155.0,710.4 1155.3,720.9 1155.6,712.8 1155.8,718.6 1156.1,710.4 1156.4,720.0 1156.7,711.2 1157.0,719.6 1157.3,711.4 1157.6,719.2 1157.8,713.1 1158.1,720.2 1158.4,775.2 1158.7,825.2 1159.0,852.0 1159.3,887.1 1159.5,896.5 1159.8,919.2 1160.1,920.4 1160.4,936.7 1160.7,935.7 1161.0,947.2 1161.2,943.7 1161.5,951.3 1161.8,948.0 1162.1,952.5 1162.4,947.0 1162.7,955.5 1162.9,947.6 1163.2,956.5 1163.5,951.7 1163.8,958.6 1164.1,949.4 1164.4,958.3 1164.7,951.2 1164.9,958.8 1165.2,948.8 1165.5,960.4 1165.8,950.5 1166.1,958.9 1166.4,950.2 1166.6,959.9 1166.9,952.2 1167.2,958.2 1167.5,949.3 1167.8,956.5 1168.1,950.4 1168.3,956.9 1168.6,950.2 1168.9,959.2 1169.2,950.0 1169.5,959.4 1169.8,949.6 1170.0,963.4 1170.3,952.4 1170.6,958.2 1170.9,950.1 1171.2,957.7 1171.5,951.2 1171.8,960.2 1172.0,949.3 1172.3,958.3 1172.6,949.9 1172.9,956.5 1173.2,950.7 1173.5,960.1 1173.7,949.8 1174.0,959.9 1174.3,950.1 1174.6,963.4 1174.9,950.9 1175.2,956.4 1175.4,949.8 1175.7,960.4 1176.0,950.5 1176.3,959.0 1176.6,950.2 1176.9,956.9 1177.1,952.7 1177.4,957.5 1177.7,950.1 1178.0,957.5 1178.3,949.9 1178.6,957.3 1178.9,951.4 1179.1,957.6 1179.4,949.0 1179.7,956.7 1180.0,949.2 1180.3,956.5 1180.6,951.6 1180.8,958.2 1181.1,952.3 1181.4,959.5 1181.7,951.4 1182.0,959.2 1182.3,952.7 1182.5,958.8 1182.8,952.0 1183.1,960.5 1183.4,950.2 1183.7,958.3 1184.0,952.9 1184.2,958.8 1184.5,948.3 1184.8,958.8 1185.1,949.9 1185.4,960.4 1185.7,950.0 1186.0,960.4 1186.2,950.5 1186.5,957.9 1186.8,949.5 1187.1,960.5 1187.4,951.6 1187.7,957.8 1187.9,949.9 1188.2,956.5 1188.5,950.3 1188.8,959.1 1189.1,950.1 1189.4,956.5 1189.6,949.5 1189.9,957.1 1190.2,951.6 1190.5,957.5 1190.8,949.5 1191.1,958.8 1191.3,951.6 1191.6,959.0 1191.9,952.0 1192.2,956.2 1192.5,949.3 1192.8,957.6 1193.1,952.4 1193.3,958.2 1193.6,951.3 1193.9,959.8 1194.2,951.6 1194.5,960.2 1194.8,949.0 1195.0,957.6 1195.3,952.3 1195.6,958.0 1195.9,949.5 1196.2,958.1 1196.5,949.8 1196.7,960.3 1197.0,949.2 1197.3,959.0 1197.6,952.8 1197.9,960.5 1198.2,948.7 1198.4,959.7 1198.7,950.5 1199.0,959.0 1199.3,952.5 1199.6,959.5 1199.9,951.1 1200.2,960.2 1200.4,948.7 1200.7,958.6 1201.0,951.4 1201.3,957.9 1201.6,951.6 1201.9,958.7 1202.1,951.3 1202.4,959.0 1202.7,951.2 1203.0,957.0 1203.3,952.7 1203.6,959.1 1203.8,950.7 1204.1,958.2 1204.4,952.3 1204.7,914.9 1205.0,856.7 1205.3,828.5 1205.5,788.8 1205.8,776.9 1206.1,755.7 1206.4,753.6 1206.7,736.4 1207.0,739.5 1207.3,724.3 1207.5,729.6 1207.8,718.8 1208.1,726.0 1208.4,714.9 1208.7,720.8 1209.0,713.1 1209.2,721.9 1209.5,713.9 1209.8,721.0 1210.1,713.0 1210.4,721.3 1210.7,711.2 1210.9,722.2 1211.2,713.0 1211.5,721.1 1211.8,711.0 1212.1,719.0 1212.4,713.8 1212.6,721.6 1212.9,712.8 1213.2,717.7 1213.5,708.3 1213.8,718.3 1214.1,710.3 1214.4,718.5 1214.6,713.6 1214.9,717.9 1215.2,711.0 1215.5,718.2 1215.8,712.4 1216.1,720.7 1216.3,714.3 1216.6,721.9 1216.9,711.1 1217.2,720.7 1217.5,711.7 1217.8,718.4 1218.0,710.5 1218.3,720.8 1218.6,713.0 1218.9,719.9 1219.2,710.4 1219.5,721.4 1219.7,711.1 1220.0,720.0 1220.3,711.8 1220.6,721.3 1220.9,711.0 1221.2,720.6 1221.5,713.4 1221.7,722.4 1222.0,714.0 1222.3,720.0 1222.6,710.9 1222.9,717.8 1223.2,711.9 1223.4,718.2 1223.7,710.8 1224.0,719.0 1224.3,710.7 1224.6,718.7 1224.9,710.3 1225.1,720.5 1225.4,713.7 1225.7,718.9 1226.0,711.9 1226.3,719.5 1226.6,713.1 1226.8,720.3 1227.1,713.3 1227.4,718.9 1227.7,713.9 1228.0,718.0 1228.3,713.7 1228.6,720.4 1228.8,710.6 1229.1,718.7 1229.4,713.6 1229.7,721.6 1230.0,712.7 1230.3,720.3 1230.5,710.4 1230.8,717.6 1231.1,714.3 1231.4,718.5 1231.7,713.7 1232.0,718.0 1232.2,710.8 1232.5,719.6 1232.8,710.5 1233.1,721.2 1233.4,712.1 1233.7,721.5 1233.9,713.5 1234.2,718.9 1234.5,711.7 1234.8,720.7 1235.1,710.7 1235.4,719.7 1235.7,714.2 1235.9,719.3 1236.2,713.3 1236.5,720.5 1236.8,708.0 1237.1,720.8 1237.4,711.8 1237.6,718.0 1237.9,714.0 1238.2,721.3 1238.5,713.9 1238.8,720.0 1239.1,710.0 1239.3,721.4 1239.6,710.4 1239.9,721.1 1240.2,710.7 1240.5,721.3 1240.8,713.3 1241.0,718.7 1241.3,712.1 1241.6,719.9 1241.9,710.6 1242.2,721.1 1242.5,711.2 1242.8,721.8 1243.0,712.2 1243.3,718.6 1243.6,712.4 1243.9,719.9 1244.2,706.5 1244.5,718.9 1244.7,711.5 1245.0,721.3 1245.3,712.5 1245.6,720.1 1245.9,710.2 1246.2,721.4 1246.4,713.3 1246.7,718.2 1247.0,712.9 1247.3,719.2 1247.6,712.1 1247.9,719.7 1248.1,713.7 1248.4,718.4 1248.7,711.2 1249.0,719.4 1249.3,713.4 1249.6,719.7 1249.9,707.5 1250.1,719.6 1250.4,711.8 1250.7,720.2 1251.0,712.5 1251.3,721.4 1251.6,712.7 1251.8,718.2 1252.1,710.8 1252.4,719.1 1252.7,710.6 1253.0,720.6 1253.3,710.9 1253.5,720.5 1253.8,734.6 1254.1,799.2 1254.4,838.5 1254.7,877.9 1255.0,892.1 1255.2,915.7 1255.5,920.8 1255.8,941.2 1256.1,939.7 1256.4,952.0 1256.7,948.1 1257.0,960.6 1257.2,952.4 1257.5,961.2 1257.8,955.8 1258.1,963.4 1258.4,956.9 1258.7,964.2 1258.9,958.4 1259.2,967.5 1259.5,958.0 1259.8,965.7 1260.1,960.7 1260.4,967.9 1260.6,957.3 1260.9,966.2 1261.2,961.2 1261.5,966.5 1261.8,961.3 1262.1,966.3 1262.3,960.9 1262.6,968.9 1262.9,955.9 1263.2,966.6 1263.5,957.2 1263.8,966.0 1264.1,958.3 1264.3,967.0 1264.6,961.0 1264.9,968.3 1265.2,959.7 1265.5,969.0 1265.8,958.4 1266.0,967.0 1266.3,959.5 1266.6,964.8 1266.9,957.5 1267.2,968.3 1267.5,959.0 1267.7,967.5 1268.0,959.1 1268.3,967.1 1268.6,960.5 1268.9,968.7 1269.2,959.1 1269.4,966.6 1269.7,958.5 1270.0,967.0 1270.3,960.4 1270.6,968.3 1270.9,957.5 1271.2,965.7 1271.4,959.5 1271.7,968.3 1272.0,957.3 1272.3,966.1 1272.6,957.3 1272.9,968.1 1273.1,958.5 1273.4,967.7 1273.7,960.0 1274.0,966.9 1274.3,959.2 1274.6,964.9 1274.8,959.7 1275.1,965.3 1275.4,957.8 1275.7,967.9 1276.0,958.3 1276.3,968.5 1276.5,961.4 1276.8,966.7 1277.1,958.3 1277.4,967.2 1277.7,961.1 1278.0,966.9 1278.3,959.4 1278.5,968.3 1278.8,960.2 1279.1,967.0 1279.4,957.6 1279.7,968.1 1280.0,957.5 1280.2,965.5 1280.5,959.2 1280.8,966.6 1281.1,958.1 1281.4,965.3 1281.7,957.6 1281.9,970.4 1282.2,959.7 1282.5,968.3 1282.8,959.9 1283.1,966.8 1283.4,957.7 1283.6,966.8 1283.9,960.9 1284.2,965.1 1284.5,957.5 1284.8,971.1 1285.1,958.3 1285.4,966.6 1285.6,960.3 1285.9,965.7 1286.2,958.5 1286.5,966.8 1286.8,959.1 1287.1,967.5 1287.3,959.4 1287.6,966.5 1287.9,958.8 1288.2,967.7 1288.5,958.1 1288.8,965.9 1289.0,958.3 1289.3,965.4 1289.6,959.1 1289.9,968.6 1290.2,960.7 1290.5,968.2 1290.7,960.9 1291.0,967.1 1291.3,957.5 1291.6,966.5 1291.9,959.8 1292.2,968.3 1292.5,960.2 1292.7,966.0 1293.0,957.6 1293.3,966.8 1293.6,957.8 1293.9,965.9 1294.2,957.2 1294.4,966.6 1294.7,958.4 1295.0,965.2 1295.3,960.5 1295.6,965.7 1295.9,958.0 1296.1,968.7 1296.4,957.7 1296.7,968.6 1297.0,958.8 1297.3,969.0 1297.6,958.7 1297.8,967.7 1298.1,959.8 1298.4,967.5 1298.7,960.7 1299.0,965.7 1299.3,957.6 1299.6,965.3 1299.8,961.4 1300.1,966.2 1300.4,959.8 1300.7,966.5 1301.0,959.6 1301.3,921.8 1301.5,863.5 1301.8,830.3 1302.1,793.5 1302.4,780.8 1302.7,757.0 1303.0,754.8 1303.2,735.7 1303.5,737.8 1303.8,724.6 1304.1,731.8 1304.4,719.2 1304.7,724.6 1304.9,715.1 1305.2,720.9 1305.5,713.2 1305.8,722.8 1306.1,714.7 1306.4,721.9 1306.7,713.5 1306.9,720.9 1307.2,710.8 1307.5,718.4 1307.8,711.2 1308.1,719.2 1308.4,710.4 1308.6,718.7 1308.9,710.6 1309.2,719.3 1309.5,711.2 1309.8,721.6 1310.1,712.1 1310.3,721.1 1310.6,712.6 1310.9,721.8 1311.2,713.4 1311.5,720.6 1311.8,713.1 1312.0,717.5 1312.3,713.3 1312.6,718.5 1312.9,712.1 1313.2,719.2 1313.5,710.9 1313.8,720.2 1314.0,713.6 1314.3,720.0 1314.6,712.2 1314.9,721.0 1315.2,712.8 1315.5,720.2 1315.7,710.4 1316.0,721.4 1316.3,706.9 1316.6,722.8 1316.9,711.1 1317.2,720.9 1317.4,712.8 1317.7,717.8 1318.0,710.9 1318.3,718.0 1318.6,710.3 1318.9,719.0 1319.1,712.6 1319.4,717.7 1319.7,711.2 1320.0,721.0 1320.3,712.1 1320.6,721.1 1320.9,710.8 1321.1,720.8 1321.4,711.2 1321.7,718.7 1322.0,713.4 1322.3,718.0 1322.6,712.2 1322.8,718.4 1323.1,710.3 1323.4,720.2 1323.7,713.2 1324.0,717.6 1324.3,710.4 1324.5,719.4 1324.8,710.1 1325.1,718.9 1325.4,712.5 1325.7,721.7 1326.0,712.0 1326.2,718.2 1326.5,713.5 1326.8,718.6 1327.1,711.1 1327.4,721.9 1327.7,712.4 1328.0,721.1 1328.2,713.0 1328.5,721.5 1328.8,710.9 1329.1,721.8 1329.4,710.4 1329.7,720.3 1329.9,713.1 1330.2,718.5 1330.5,712.1 1330.8,718.3 1331.1,710.4 1331.4,720.2 1331.6,712.8 1331.9,720.5 1332.2,712.6 1332.5,721.1 1332.8,713.8 1333.1,721.4 1333.3,711.7 1333.6,720.8 1333.9,710.3 1334.2,719.6 1334.5,713.2 1334.8,721.9 1335.1,711.4 1335.3,722.2 1335.6,711.8 1335.9,720.6 1336.2,712.3 1336.5,720.0 1336.8,710.7 1337.0,719.1 1337.3,710.2 1337.6,717.8 1337.9,712.5 1338.2,719.3 1338.5,713.9 1338.7,720.3 1339.0,710.1 1339.3,720.4 1339.6,710.3 1339.9,721.0 1340.2,712.1 1340.4,719.3 1340.7,710.0 1341.0,721.4 1341.3,711.2 1341.6,719.4 1341.9,737.5 1342.2,801.7 1342.4,839.9 1342.7,878.3 1343.0,895.1 1343.3,920.4 1343.6,926.2 1343.9,943.6 1344.1,940.1 1344.4,953.7 1344.7,949.9 1345.0,960.5 1345.3,955.1 1345.6,964.1 1345.8,959.1 1346.1,968.3 1346.4,959.2 1346.7,968.1 1347.0,959.0 1347.3,968.6 1347.5,960.9 1347.8,969.1 1348.1,959.7 1348.4,968.2 1348.7,963.7 1349.0,969.1 1349.3,962.9 1349.5,969.3 1349.8,960.3 1350.1,968.6 1350.4,961.5 1350.7,970.0 1351.0,962.4 1351.2,969.6 1351.5,961.9 1351.8,969.9 1352.1,961.2 1352.4,970.9 1352.7,961.2 1352.9,970.5 1353.2,961.5 1353.5,969.7 1353.8,963.7 1354.1,969.4 1354.4,960.0 1354.6,969.1 1354.9,960.6 1355.2,971.8 1355.5,963.0 1355.8,970.3 1356.1,961.2 1356.4,969.9 1356.6,960.2 1356.9,970.2 1357.2,960.0 1357.5,971.0 1357.8,960.3 1358.1,970.3 1358.3,961.3 1358.6,969.2 1358.9,960.1 1359.2,968.2 1359.5,961.3 1359.8,971.4 1360.0,962.1 1360.3,969.6 1360.6,962.5 1360.9,970.8 1361.2,962.3 1361.5,970.7 1361.7,962.2 1362.0,968.7 1362.3,961.8 1362.6,971.7 1362.9,960.4 1363.2,975.5 1363.5,960.1 1363.7,971.6 1364.0,960.4 1364.3,970.4 1364.6,961.8 1364.9,970.4 1365.2,960.5 1365.4,969.3 1365.7,961.8 1366.0,969.6 1366.3,964.1 1366.6,968.4 1366.9,961.9 1367.1,970.7 1367.4,960.5 1367.7,971.2 1368.0,962.4 1368.3,968.9 1368.6,960.4 1368.8,969.5 1369.1,962.9 1369.4,970.8 1369.7,961.9 1370.0,971.1 1370.3,962.2 1370.6,970.0 1370.8,957.6 1371.1,969.7 1371.4,962.8 1371.7,967.8 1372.0,963.9 1372.3,969.2 1372.5,960.6 1372.8,969.1 1373.1,963.4 1373.4,969.5 1373.7,961.9 1374.0,968.8 1374.2,962.2 1374.5,969.0 1374.8,961.7 1375.1,970.8 1375.4,963.2 1375.7,969.4 1375.9,960.3 1376.2,970.0 1376.5,962.3 1376.8,967.7 1377.1,960.9 1377.4,971.6 1377.7,960.3 1377.9,970.5 1378.2,963.4 1378.5,971.8 1378.8,962.8 1379.1,970.3 1379.4,962.3 1379.6,971.5 1379.9,960.5 1380.2,971.1 1380.5,964.2 1380.8,970.1 1381.1,961.3 1381.3,971.2 1381.6,961.9 1381.9,968.5 1382.2,963.6 1382.5,969.3 1382.8,961.3 1383.0,971.6 1383.3,962.5 1383.6,969.1 1383.9,962.6 1384.2,968.4 1384.5,960.7 1384.8,968.9 1385.0,962.1 1385.3,969.5 1385.6,963.8 1385.9,971.7 1386.2,963.6 1386.5,971.4 1386.7,962.5 1387.0,971.6 1387.3,960.5 1387.6,969.8 1387.9,961.3 1388.2,968.6 1388.4,963.8 1388.7,971.8 1389.0,962.2 1389.3,967.5 1389.6,960.9 1389.9,968.4 1390.1,963.4 1390.4,971.8 1390.7,961.6 1391.0,971.0" fill="none" stroke="#8a10ff" stroke-width="1.2" stroke-linejoin="bevel"/>
<polyline points="823.0,716.8 823.3,707.5 823.6,717.2 823.9,710.8 824.1,717.9 824.4,707.1 824.7,716.2 825.0,708.4 825.3,714.0 825.6,709.5 825.8,717.3 826.1,707.5 826.4,716.8 826.7,711.0 827.0,715.1 827.3,706.8 827.5,715.4 827.8,708.4 828.1,715.1 828.4,707.9 828.7,717.8 829.0,709.1 829.2,714.8 829.5,709.4 829.8,713.9 830.1,709.2 830.4,717.5 830.7,709.3 831.0,717.1 831.2,702.9 831.5,717.3 831.8,710.9 832.1,715.8 832.4,710.9 832.7,715.0 832.9,709.9 833.2,717.9 833.5,709.2 833.8,716.4 834.1,710.3 834.4,717.4 834.6,710.7 834.9,714.5 835.2,708.2 835.5,715.7 835.8,708.4 836.1,715.6 836.3,710.5 836.6,717.0 836.9,710.0 837.2,718.1 837.5,709.0 837.8,716.7 838.1,708.8 838.3,714.3 838.6,710.8 838.9,717.6 839.2,707.7 839.5,716.8 839.8,710.3 840.0,714.8 840.3,709.4 840.6,718.1 840.9,706.9 841.2,716.3 841.5,708.7 841.7,715.9 842.0,709.1 842.3,718.0 842.6,708.6 842.9,714.5 843.2,707.5 843.4,715.8 843.7,707.6 844.0,716.9 844.3,709.1 844.6,715.4 844.9,707.6 845.2,715.5 845.4,708.0 845.7,714.0 846.0,709.6 846.3,716.2 846.6,708.0 846.9,715.7 847.1,707.7 847.4,715.7 847.7,707.2 848.0,718.0 848.3,708.5 848.6,714.9 848.8,707.0 849.1,717.0 849.4,707.7 849.7,717.4 850.0,708.0 850.3,716.8 850.5,708.1 850.8,714.1 851.1,708.8 851.4,715.1 851.7,708.1 852.0,716.2 852.3,710.6 852.5,715.6 852.8,709.9 853.1,716.2 853.4,708.2 853.7,715.2 854.0,711.0 854.2,715.4 854.5,710.3 854.8,715.8 855.1,708.1 855.4,716.5 855.7,708.3 855.9,717.5 856.2,707.4 856.5,715.8 856.8,708.2 857.1,718.0 857.4,708.2 857.6,721.5 857.9,710.3 858.2,716.8 858.5,708.1 858.8,715.8 859.1,709.7 859.4,718.0 859.6,706.9 859.9,716.7 860.2,706.8 860.5,716.0 860.8,706.8 861.1,715.4 861.3,710.2 861.6,716.1 861.9,707.5 862.2,714.0 862.5,709.5 862.8,717.4 863.0,709.5 863.3,718.1 863.6,708.2 863.9,716.9 864.2,707.7 864.5,717.3 864.7,708.5 865.0,715.5 865.3,708.7 865.6,717.2 865.9,710.7 866.2,716.1 866.5,707.2 866.7,714.0 867.0,708.9 867.3,717.1 867.6,708.7 867.9,715.9 868.2,707.3 868.4,715.5 868.7,710.5 869.0,717.1 869.3,709.5 869.6,717.8 869.9,708.7 870.1,716.3 870.4,710.1 870.7,717.5 871.0,709.7 871.3,717.4 871.6,710.8 871.8,718.1 872.1,707.8 872.4,728.8 872.7,732.3 873.0,751.1 873.3,750.6 873.6,761.3 873.8,759.4 874.1,770.2 874.4,765.9 874.7,771.6 875.0,766.7 875.3,777.0 875.5,768.8 875.8,777.1 876.1,767.7 876.4,775.3 876.7,771.3 877.0,777.7 877.2,769.8 877.5,776.9 877.8,771.2 878.1,778.0 878.4,771.4 878.7,778.9 878.9,769.5 879.2,776.2 879.5,772.1 879.8,778.4 880.1,768.9 880.4,777.4 880.7,772.5 880.9,776.0 881.2,768.7 881.5,776.9 881.8,768.6 882.1,779.3 882.4,769.9 882.6,777.0 882.9,769.9 883.2,777.6 883.5,769.1 883.8,779.2 884.1,769.1 884.3,778.4 884.6,769.5 884.9,776.3 885.2,771.6 885.5,779.5 885.8,766.0 886.0,778.0 886.3,769.9 886.6,778.0 886.9,771.8 887.2,777.6 887.5,769.0 887.8,777.1 888.0,771.8 888.3,777.0 888.6,772.5 888.9,777.6 889.2,769.6 889.5,778.0 889.7,772.0 890.0,777.2 890.3,769.5 890.6,778.6 890.9,771.5 891.2,777.7 891.4,770.9 891.7,778.0 892.0,769.5 892.3,776.6 892.6,769.7 892.9,778.6 893.1,764.7 893.4,776.1 893.7,770.7 894.0,778.3 894.3,770.3 894.6,776.3 894.9,768.9 895.1,779.7 895.4,771.4 895.7,777.7 896.0,771.4 896.3,777.3 896.6,772.5 896.8,776.7 897.1,770.7 897.4,776.2 897.7,772.1 898.0,779.6 898.3,769.0 898.5,775.8 898.8,770.4 899.1,777.6 899.4,769.5 899.7,777.3 900.0,769.1 900.2,776.4 900.5,772.2 900.8,779.3 901.1,772.0 901.4,777.0 901.7,770.6 902.0,777.0 902.2,769.6 902.5,776.8 902.8,770.9 903.1,777.8 903.4,769.4 903.7,779.5 903.9,769.4 904.2,777.9 904.5,769.8 904.8,778.9 905.1,771.3 905.4,777.6 905.6,772.3 905.9,777.1 906.2,771.2 906.5,779.1 906.8,772.6 907.1,776.5 907.3,769.0 907.6,778.5 907.9,770.6 908.2,779.6 908.5,770.0 908.8,778.9 909.1,770.2 909.3,778.9 909.6,768.8 909.9,776.4 910.2,768.8 910.5,777.8 910.8,769.4 911.0,778.2 911.3,770.0 911.6,779.3 911.9,772.4 912.2,775.9 912.5,770.4 912.7,777.7 913.0,771.3 913.3,778.3 913.6,769.4 913.9,777.5 914.2,768.6 914.4,779.4 914.7,770.7 915.0,779.3 915.3,772.5 915.6,776.3 915.9,768.9 916.2,779.2 916.4,769.7 916.7,778.6 917.0,768.5 917.3,778.1 917.6,771.7 917.9,779.5 918.1,771.1 918.4,778.0 918.7,770.8 919.0,779.3 919.3,769.6 919.6,778.2 919.8,754.9 920.1,750.9 920.4,734.6 920.7,733.1 921.0,722.1 921.3,727.3 921.5,714.6 921.8,722.7 922.1,711.8 922.4,721.1 922.7,710.2 923.0,718.9 923.3,711.1 923.5,718.7 923.8,707.5 924.1,718.8 924.4,709.4 924.7,717.2 925.0,707.3 925.2,716.0 925.5,708.0 925.8,717.2 926.1,707.2 926.4,715.6 926.7,708.1 926.9,714.9 927.2,707.6 927.5,714.3 927.8,707.4 928.1,717.2 928.4,708.9 928.6,717.8 928.9,709.5 929.2,718.0 929.5,710.8 929.8,716.6 930.1,709.9 930.4,716.7 930.6,707.9 930.9,714.3 931.2,707.3 931.5,715.6 931.8,708.0 932.1,715.2 932.3,707.3 932.6,714.5 932.9,710.1 933.2,714.8 933.5,710.3 933.8,717.2 934.0,707.5 934.3,717.9 934.6,708.1 934.9,714.6 935.2,710.6 935.5,715.8 935.7,707.9 936.0,714.5 936.3,708.4 936.6,714.6 936.9,709.1 937.2,716.3 937.5,707.0 937.7,717.3 938.0,709.4 938.3,716.2 938.6,707.7 938.9,715.8 939.2,708.6 939.4,717.4 939.7,709.4 940.0,717.6 940.3,710.6 940.6,715.2 940.9,710.5 941.1,714.5 941.4,706.8 941.7,715.9 942.0,710.4 942.3,721.0 942.6,707.6 942.8,714.0 943.1,708.7 943.4,716.4 943.7,709.8 944.0,716.1 944.3,710.4 944.6,718.0 944.8,708.6 945.1,715.9 945.4,708.8 945.7,717.8 946.0,708.1 946.3,714.1 946.5,708.9 946.8,717.5 947.1,709.1 947.4,717.3 947.7,710.1 948.0,716.0 948.2,706.8 948.5,716.0 948.8,708.7 949.1,716.9 949.4,710.0 949.7,714.4 949.9,707.1 950.2,716.8 950.5,707.4 950.8,716.7 951.1,709.7 951.4,717.9 951.7,709.9 951.9,715.3 952.2,709.1 952.5,714.8 952.8,706.9 953.1,714.5 953.4,708.0 953.6,715.8 953.9,708.3 954.2,715.2 954.5,709.6 954.8,717.2 955.1,708.7 955.3,714.0 955.6,708.9 955.9,716.7 956.2,710.6 956.5,714.2 956.8,706.9 957.0,715.5 957.3,708.0 957.6,715.8 957.9,707.8 958.2,718.0 958.5,709.4 958.8,717.9 959.0,708.8 959.3,716.4 959.6,707.0 959.9,716.5 960.2,710.2 960.5,716.3 960.7,709.8 961.0,714.3 961.3,709.2 961.6,718.0 961.9,709.5 962.2,717.2 962.4,707.4 962.7,715.9 963.0,709.6 963.3,717.7 963.6,707.1 963.9,714.7 964.1,707.7 964.4,714.0 964.7,707.4 965.0,717.7 965.3,708.2 965.6,717.1 965.9,708.2 966.1,718.0 966.4,710.6 966.7,714.5 967.0,708.7 967.3,717.8 967.6,710.5 967.8,717.6 968.1,707.6 968.4,717.6 968.7,707.6 969.0,717.8 969.3,710.1 969.5,715.3 969.8,709.8 970.1,715.7 970.4,708.9 970.7,716.9 971.0,737.2 971.2,764.1 971.5,770.2 971.8,787.7 972.1,789.7 972.4,804.9 972.7,799.6 973.0,812.3 973.2,806.8 973.5,814.5 973.8,807.7 974.1,818.3 974.4,809.2 974.7,820.1 974.9,813.5 975.2,821.1 975.5,814.4 975.8,819.8 976.1,811.8 976.4,820.1 976.6,814.6 976.9,821.4 977.2,811.5 977.5,819.8 977.8,811.3 978.1,822.1 978.3,814.7 978.6,821.4 978.9,812.7 979.2,818.9 979.5,811.4 979.8,820.5 980.1,811.9 980.3,820.8 980.6,811.2 980.9,820.4 981.2,812.8 981.5,820.4 981.8,812.9 982.0,820.2 982.3,811.4 982.6,821.8 982.9,814.5 983.2,822.3 983.5,813.2 983.7,821.0 984.0,813.8 984.3,819.7 984.6,812.0 984.9,819.1 985.2,812.2 985.4,818.9 985.7,814.5 986.0,818.9 986.3,812.5 986.6,819.2 986.9,814.7 987.2,819.7 987.4,815.0 987.7,819.0 988.0,813.6 988.3,821.2 988.6,811.6 988.9,819.8 989.1,811.6 989.4,820.4 989.7,811.2 990.0,821.3 990.3,808.8 990.6,822.3 990.8,811.6 991.1,820.4 991.4,812.3 991.7,821.6 992.0,812.2 992.3,821.8 992.5,810.3 992.8,821.8 993.1,811.7 993.4,820.8 993.7,814.6 994.0,822.4 994.3,814.0 994.5,821.3 994.8,812.4 995.1,821.8 995.4,812.4 995.7,821.6 996.0,813.2 996.2,821.6 996.5,812.6 996.8,820.5 997.1,814.9 997.4,821.9 997.7,813.7 997.9,821.7 998.2,813.1 998.5,821.8 998.8,810.1 999.1,821.8 999.4,812.5 999.6,821.1 999.9,811.7 1000.2,818.4 1000.5,811.2 1000.8,818.7 1001.1,814.7 1001.4,818.9 1001.6,815.4 1001.9,819.9 1002.2,813.4 1002.5,822.3 1002.8,812.2 1003.1,820.3 1003.3,810.9 1003.6,820.5 1003.9,812.2 1004.2,821.4 1004.5,811.6 1004.8,821.8 1005.0,812.3 1005.3,822.1 1005.6,813.2 1005.9,820.0 1006.2,812.3 1006.5,819.4 1006.7,811.7 1007.0,818.9 1007.3,813.5 1007.6,821.9 1007.9,814.5 1008.2,820.4 1008.5,812.8 1008.7,821.9 1009.0,811.4 1009.3,820.8 1009.6,815.0 1009.9,821.6 1010.2,811.8 1010.4,822.2 1010.7,812.8 1011.0,820.4 1011.3,811.8 1011.6,819.8 1011.9,814.9 1012.1,819.5 1012.4,812.6 1012.7,821.6 1013.0,813.7 1013.3,821.7 1013.6,812.3 1013.8,820.8 1014.1,812.4 1014.4,821.2 1014.7,812.9 1015.0,820.5 1015.3,813.9 1015.6,818.8 1015.8,814.0 1016.1,818.9 1016.4,784.3 1016.7,771.8 1017.0,749.4 1017.3,747.1 1017.5,731.2 1017.8,731.8 1018.1,722.1 1018.4,725.6 1018.7,717.6 1019.0,720.6 1019.2,711.2 1019.5,718.5 1019.8,709.4 1020.1,717.7 1020.4,709.3 1020.7,716.9 1020.9,709.5 1021.2,716.0 1021.5,708.5 1021.8,715.2 1022.1,707.9 1022.4,714.7 1022.7,707.2 1022.9,714.5 1023.2,709.5 1023.5,714.2 1023.8,710.1 1024.1,717.1 1024.4,707.3 1024.6,716.8 1024.9,710.0 1025.2,715.6 1025.5,710.3 1025.8,715.8 1026.1,707.0 1026.3,715.9 1026.6,706.8 1026.9,717.2 1027.2,708.8 1027.5,714.9 1027.8,707.0 1028.0,715.3 1028.3,708.8 1028.6,716.1 1028.9,710.7 1029.2,716.9 1029.5,708.6 1029.8,716.3 1030.0,707.5 1030.3,715.7 1030.6,710.0 1030.9,714.2 1031.2,709.5 1031.5,714.2 1031.7,706.8 1032.0,715.1 1032.3,710.8 1032.6,715.0 1032.9,709.4 1033.2,714.4 1033.4,706.8 1033.7,717.9 1034.0,707.5 1034.3,714.9 1034.6,710.5 1034.9,717.1 1035.1,710.9 1035.4,717.6 1035.7,707.7 1036.0,717.8 1036.3,709.1 1036.6,715.4 1036.9,709.6 1037.1,714.7 1037.4,709.6 1037.7,718.0 1038.0,707.3 1038.3,716.7 1038.6,709.0 1038.8,716.8 1039.1,707.5 1039.4,716.4 1039.7,708.3 1040.0,713.9 1040.3,709.7 1040.5,716.9 1040.8,709.5 1041.1,715.1 1041.4,710.3 1041.7,717.1 1042.0,708.6 1042.2,716.8 1042.5,710.5 1042.8,716.2 1043.1,710.4 1043.4,715.7 1043.7,708.5 1044.0,715.5 1044.2,708.2 1044.5,715.5 1044.8,708.7 1045.1,716.9 1045.4,708.8 1045.7,715.0 1045.9,703.2 1046.2,716.3 1046.5,710.8 1046.8,714.9 1047.1,707.1 1047.4,715.7 1047.6,705.1 1047.9,715.2 1048.2,707.1 1048.5,715.3 1048.8,708.6 1049.1,717.0 1049.3,708.7 1049.6,717.3 1049.9,708.2 1050.2,716.3 1050.5,709.3 1050.8,715.8 1051.1,708.1 1051.3,717.9 1051.6,707.8 1051.9,715.2 1052.2,708.1 1052.5,717.3 1052.8,708.6 1053.0,717.2 1053.3,708.7 1053.6,716.1 1053.9,706.8 1054.2,717.1 1054.5,710.4 1054.7,716.9 1055.0,707.5 1055.3,714.8 1055.6,708.1 1055.9,718.0 1056.2,707.4 1056.4,716.0 1056.7,707.0 1057.0,715.6 1057.3,708.5 1057.6,716.8 1057.9,707.8 1058.2,716.3 1058.4,708.0 1058.7,714.3 1059.0,709.3 1059.3,714.2 1059.6,707.0 1059.9,715.5 1060.1,709.7 1060.4,716.6 1060.7,708.7 1061.0,715.3 1061.3,711.0 1061.6,714.8 1061.8,707.6 1062.1,715.7 1062.4,709.4 1062.7,740.0 1063.0,760.2 1063.3,787.1 1063.5,798.0 1063.8,816.3 1064.1,814.6 1064.4,831.5 1064.7,825.3 1065.0,835.5 1065.3,830.9 1065.5,843.2 1065.8,838.3 1066.1,844.6 1066.4,836.3 1066.7,847.8 1067.0,839.5 1067.2,846.5 1067.5,839.5 1067.8,848.8 1068.1,840.4 1068.4,846.3 1068.7,841.5 1068.9,849.3 1069.2,839.7 1069.5,848.2 1069.8,840.4 1070.1,845.4 1070.4,837.8 1070.6,848.3 1070.9,841.0 1071.2,847.6 1071.5,838.6 1071.8,845.7 1072.1,838.5 1072.4,846.8 1072.6,842.0 1072.9,849.3 1073.2,842.0 1073.5,848.9 1073.8,841.2 1074.1,845.7 1074.3,841.3 1074.6,849.1 1074.9,840.0 1075.2,846.1 1075.5,838.6 1075.8,849.1 1076.0,838.2 1076.3,849.2 1076.6,838.3 1076.9,845.7 1077.2,839.3 1077.5,848.4 1077.7,840.6 1078.0,846.3 1078.3,839.9 1078.6,846.7 1078.9,838.3 1079.2,848.6 1079.5,842.1 1079.7,845.9 1080.0,839.0 1080.3,848.1 1080.6,839.1 1080.9,846.4 1081.2,841.6 1081.4,849.3 1081.7,840.5 1082.0,846.8 1082.3,840.0 1082.6,849.1 1082.9,842.0 1083.1,846.5 1083.4,840.5 1083.7,846.9 1084.0,839.9 1084.3,848.4 1084.6,838.3 1084.8,848.8 1085.1,839.5 1085.4,848.7 1085.7,841.2 1086.0,847.9 1086.3,839.2 1086.6,848.6 1086.8,842.2 1087.1,847.1 1087.4,839.3 1087.7,848.4 1088.0,838.2 1088.3,848.0 1088.5,840.8 1088.8,848.1 1089.1,841.5 1089.4,846.8 1089.7,839.0 1090.0,846.7 1090.2,838.2 1090.5,847.6 1090.8,839.3 1091.1,845.8 1091.4,839.6 1091.7,849.4 1091.9,838.6 1092.2,847.7 1092.5,840.0 1092.8,848.6 1093.1,841.6 1093.4,847.8 1093.7,839.7 1093.9,848.0 1094.2,841.5 1094.5,847.1 1094.8,838.8 1095.1,848.7 1095.4,841.5 1095.6,846.5 1095.9,839.2 1096.2,845.3 1096.5,838.9 1096.8,849.4 1097.1,839.1 1097.3,848.0 1097.6,841.1 1097.9,848.1 1098.2,839.5 1098.5,848.2 1098.8,840.3 1099.0,848.4 1099.3,842.1 1099.6,847.1 1099.9,839.3 1100.2,848.8 1100.5,840.5 1100.8,848.3 1101.0,834.8 1101.3,847.8 1101.6,838.5 1101.9,848.8 1102.2,838.3 1102.5,848.3 1102.7,838.2 1103.0,847.2 1103.3,839.2 1103.6,849.0 1103.9,841.2 1104.2,847.7 1104.4,840.6 1104.7,847.1 1105.0,841.2 1105.3,849.1 1105.6,840.9 1105.9,849.2 1106.1,841.1 1106.4,849.3 1106.7,841.4 1107.0,848.2 1107.3,842.4 1107.6,846.7 1107.9,841.9 1108.1,848.3 1108.4,839.6 1108.7,848.7 1109.0,839.4 1109.3,848.9 1109.6,841.6 1109.8,852.5 1110.1,804.4 1110.4,789.7 1110.7,762.5 1111.0,756.9 1111.3,738.0 1111.5,737.5 1111.8,724.8 1112.1,730.0 1112.4,718.8 1112.7,723.7 1113.0,713.5 1113.2,719.0 1113.5,712.5 1113.8,718.5 1114.1,708.6 1114.4,718.9 1114.7,710.0 1115.0,716.2 1115.2,709.6 1115.5,718.4 1115.8,710.2 1116.1,715.1 1116.4,709.4 1116.7,717.1 1116.9,709.5 1117.2,714.8 1117.5,708.9 1117.8,716.4 1118.1,707.6 1118.4,717.6 1118.6,707.0 1118.9,717.9 1119.2,707.2 1119.5,716.5 1119.8,707.6 1120.1,717.7 1120.3,708.9 1120.6,715.4 1120.9,709.1 1121.2,713.9 1121.5,707.1 1121.8,717.0 1122.1,708.2 1122.3,717.4 1122.6,708.6 1122.9,716.5 1123.2,709.4 1123.5,716.3 1123.8,706.8 1124.0,718.0 1124.3,710.5 1124.6,717.5 1124.9,709.6 1125.2,715.3 1125.5,710.1 1125.7,715.0 1126.0,708.1 1126.3,717.6 1126.6,707.2 1126.9,717.2 1127.2,708.9 1127.4,715.9 1127.7,708.8 1128.0,716.8 1128.3,709.8 1128.6,717.4 1128.9,709.6 1129.2,716.2 1129.4,707.0 1129.7,715.4 1130.0,708.6 1130.3,715.9 1130.6,708.0 1130.9,717.8 1131.1,709.0 1131.4,716.5 1131.7,708.4 1132.0,715.0 1132.3,707.3 1132.6,715.6 1132.8,708.1 1133.1,715.5 1133.4,709.0 1133.7,717.7 1134.0,708.4 1134.3,717.0 1134.5,709.6 1134.8,714.8 1135.1,709.6 1135.4,716.1 1135.7,710.0 1136.0,714.2 1136.3,707.7 1136.5,715.0 1136.8,706.8 1137.1,717.1 1137.4,706.8 1137.7,717.8 1138.0,710.2 1138.2,717.1 1138.5,710.4 1138.8,717.9 1139.1,710.6 1139.4,718.1 1139.7,707.8 1139.9,716.8 1140.2,708.6 1140.5,714.8 1140.8,707.8 1141.1,714.8 1141.4,707.9 1141.6,716.2 1141.9,707.6 1142.2,717.2 1142.5,708.6 1142.8,716.2 1143.1,708.7 1143.4,717.4 1143.6,707.9 1143.9,715.7 1144.2,707.0 1144.5,716.8 1144.8,708.7 1145.1,717.6 1145.3,707.2 1145.6,717.4 1145.9,709.9 1146.2,716.6 1146.5,707.1 1146.8,717.0 1147.0,709.3 1147.3,716.5 1147.6,708.5 1147.9,717.1 1148.2,707.9 1148.5,715.8 1148.7,709.1 1149.0,715.9 1149.3,709.4 1149.6,715.6 1149.9,707.2 1150.2,716.0 1150.5,707.2 1150.7,715.2 1151.0,708.6 1151.3,715.1 1151.6,710.3 1151.9,716.7 1152.2,707.1 1152.4,717.0 1152.7,707.6 1153.0,717.7 1153.3,707.9 1153.6,717.1 1153.9,709.2 1154.1,715.8 1154.4,710.7 1154.7,715.5 1155.0,707.2 1155.3,716.1 1155.6,709.2 1155.8,716.1 1156.1,708.5 1156.4,715.9 1156.7,706.9 1157.0,714.5 1157.3,707.5 1157.6,717.2 1157.8,710.1 1158.1,715.1 1158.4,707.7 1158.7,715.5 1159.0,707.7 1159.3,716.1 1159.5,710.2 1159.8,717.7 1160.1,709.6 1160.4,716.1 1160.7,707.0 1161.0,717.6 1161.2,754.4 1161.5,794.4 1161.8,812.2 1162.1,840.9 1162.4,844.9 1162.7,864.8 1162.9,864.9 1163.2,878.6 1163.5,875.7 1163.8,886.1 1164.1,878.9 1164.4,888.8 1164.7,881.8 1164.9,891.9 1165.2,882.6 1165.5,890.4 1165.8,885.3 1166.1,894.0 1166.4,883.6 1166.6,894.7 1166.9,886.4 1167.2,893.7 1167.5,884.8 1167.8,893.6 1168.1,884.2 1168.3,896.2 1168.6,886.3 1168.9,891.1 1169.2,883.7 1169.5,893.3 1169.8,884.0 1170.0,892.8 1170.3,883.7 1170.6,891.6 1170.9,884.8 1171.2,893.8 1171.5,884.4 1171.8,893.4 1172.0,883.9 1172.3,894.1 1172.6,884.5 1172.9,893.3 1173.2,885.5 1173.5,891.2 1173.7,886.5 1174.0,892.4 1174.3,887.6 1174.6,891.1 1174.9,885.7 1175.2,892.8 1175.4,887.4 1175.7,890.7 1176.0,884.6 1176.3,891.7 1176.6,883.7 1176.9,891.4 1177.1,884.0 1177.4,893.7 1177.7,884.9 1178.0,893.0 1178.3,885.5 1178.6,894.8 1178.9,885.3 1179.1,893.1 1179.4,884.7 1179.7,891.9 1180.0,885.4 1180.3,892.5 1180.6,885.3 1180.8,892.9 1181.1,885.4 1181.4,893.4 1181.7,884.7 1182.0,893.9 1182.3,884.8 1182.5,893.0 1182.8,887.7 1183.1,893.0 1183.4,884.2 1183.7,894.2 1184.0,886.7 1184.2,891.5 1184.5,886.7 1184.8,891.5 1185.1,886.6 1185.4,893.5 1185.7,887.5 1186.0,893.2 1186.2,885.3 1186.5,894.3 1186.8,886.1 1187.1,895.6 1187.4,884.9 1187.7,894.0 1187.9,884.5 1188.2,892.4 1188.5,884.8 1188.8,894.5 1189.1,885.3 1189.4,894.3 1189.6,884.5 1189.9,893.2 1190.2,885.5 1190.5,894.2 1190.8,887.5 1191.1,893.0 1191.3,885.6 1191.6,892.0 1191.9,885.1 1192.2,891.8 1192.5,884.9 1192.8,892.8 1193.1,885.8 1193.3,894.8 1193.6,884.1 1193.9,892.8 1194.2,884.1 1194.5,892.7 1194.8,884.5 1195.0,892.1 1195.3,884.7 1195.6,894.7 1195.9,885.4 1196.2,891.5 1196.5,883.6 1196.7,891.6 1197.0,887.6 1197.3,892.8 1197.6,880.6 1197.9,892.3 1198.2,884.3 1198.4,892.1 1198.7,885.6 1199.0,894.9 1199.3,887.0 1199.6,892.2 1199.9,886.2 1200.2,894.7 1200.4,887.2 1200.7,893.9 1201.0,886.3 1201.3,891.1 1201.6,884.2 1201.9,893.0 1202.1,884.6 1202.4,892.6 1202.7,886.2 1203.0,893.6 1203.3,887.4 1203.6,894.5 1203.8,885.7 1204.1,892.2 1204.4,883.9 1204.7,894.8 1205.0,887.3 1205.3,892.6 1205.5,870.4 1205.8,836.3 1206.1,798.2 1206.4,779.9 1206.7,757.9 1207.0,749.8 1207.3,734.0 1207.5,735.9 1207.8,722.0 1208.1,728.4 1208.4,718.1 1208.7,720.3 1209.0,713.8 1209.2,718.7 1209.5,711.0 1209.8,718.1 1210.1,711.4 1210.4,717.4 1210.7,710.0 1210.9,715.6 1211.2,710.1 1211.5,715.3 1211.8,710.7 1212.1,716.6 1212.4,710.4 1212.6,715.6 1212.9,709.1 1213.2,717.3 1213.5,708.4 1213.8,716.3 1214.1,707.9 1214.4,717.9 1214.6,708.0 1214.9,715.5 1215.2,710.0 1215.5,716.4 1215.8,706.8 1216.1,715.1 1216.3,708.1 1216.6,717.7 1216.9,709.5 1217.2,715.1 1217.5,708.7 1217.8,714.7 1218.0,708.3 1218.3,717.4 1218.6,708.3 1218.9,715.6 1219.2,707.1 1219.5,716.8 1219.7,710.6 1220.0,717.4 1220.3,708.9 1220.6,714.2 1220.9,707.9 1221.2,716.1 1221.5,707.4 1221.7,715.0 1222.0,707.2 1222.3,716.5 1222.6,709.4 1222.9,715.4 1223.2,708.9 1223.4,718.0 1223.7,708.9 1224.0,718.0 1224.3,710.1 1224.6,715.3 1224.9,707.9 1225.1,714.0 1225.4,706.9 1225.7,715.3 1226.0,708.0 1226.3,715.0 1226.6,707.8 1226.8,716.6 1227.1,708.4 1227.4,717.9 1227.7,708.3 1228.0,715.9 1228.3,708.3 1228.6,716.1 1228.8,707.7 1229.1,715.7 1229.4,709.8 1229.7,715.5 1230.0,710.7 1230.3,716.2 1230.5,710.3 1230.8,717.5 1231.1,710.4 1231.4,717.3 1231.7,710.6 1232.0,717.8 1232.2,710.4 1232.5,717.5 1232.8,707.8 1233.1,717.6 1233.4,707.7 1233.7,717.4 1233.9,709.0 1234.2,718.1 1234.5,708.6 1234.8,717.7 1235.1,710.2 1235.4,714.7 1235.7,708.3 1235.9,716.9 1236.2,706.9 1236.5,718.0 1236.8,709.2 1237.1,718.0 1237.4,707.5 1237.6,715.6 1237.9,703.2 1238.2,714.7 1238.5,708.3 1238.8,717.4 1239.1,710.2 1239.3,717.3 1239.6,705.9 1239.9,718.1 1240.2,709.5 1240.5,717.9 1240.8,709.1 1241.0,717.0 1241.3,707.5 1241.6,716.5 1241.9,707.5 1242.2,714.5 1242.5,710.7 1242.8,715.0 1243.0,709.6 1243.3,716.8 1243.6,708.4 1243.9,714.8 1244.2,709.9 1244.5,714.0 1244.7,706.9 1245.0,717.6 1245.3,709.8 1245.6,714.6 1245.9,707.9 1246.2,715.2 1246.4,708.1 1246.7,716.7 1247.0,710.8 1247.3,718.1 1247.6,708.3 1247.9,717.7 1248.1,710.4 1248.4,716.1 1248.7,709.8 1249.0,716.5 1249.3,707.7 1249.6,717.9 1249.9,709.6 1250.1,714.2 1250.4,706.9 1250.7,718.1 1251.0,707.2 1251.3,717.9 1251.6,708.5 1251.8,718.0 1252.1,708.3 1252.4,714.9 1252.7,707.3 1253.0,715.9 1253.3,707.8 1253.5,718.0 1253.8,709.6 1254.1,717.0 1254.4,710.1 1254.7,716.8 1255.0,757.3 1255.2,804.6 1255.5,822.1 1255.8,853.5 1256.1,857.9 1256.4,876.4 1256.7,878.1 1257.0,890.4 1257.2,888.8 1257.5,898.9 1257.8,895.3 1258.1,906.3 1258.4,899.9 1258.7,907.6 1258.9,898.5 1259.2,906.5 1259.5,902.7 1259.8,907.4 1260.1,901.3 1260.4,911.3 1260.6,901.2 1260.9,910.1 1261.2,904.4 1261.5,910.7 1261.8,902.5 1262.1,909.6 1262.3,901.2 1262.6,909.0 1262.9,902.5 1263.2,908.3 1263.5,903.5 1263.8,911.2 1264.1,902.0 1264.3,910.3 1264.6,903.0 1264.9,911.6 1265.2,904.1 1265.5,909.9 1265.8,902.0 1266.0,911.6 1266.3,901.1 1266.6,908.2 1266.9,902.4 1267.2,910.5 1267.5,903.7 1267.7,910.4 1268.0,901.7 1268.3,908.4 1268.6,901.3 1268.9,914.8 1269.2,901.7 1269.4,909.3 1269.7,903.4 1270.0,910.3 1270.3,903.8 1270.6,909.3 1270.9,903.7 1271.2,908.7 1271.4,900.7 1271.7,911.1 1272.0,902.4 1272.3,911.8 1272.6,900.7 1272.9,911.5 1273.1,900.6 1273.4,910.5 1273.7,902.6 1274.0,911.9 1274.3,904.0 1274.6,910.9 1274.8,901.0 1275.1,908.5 1275.4,901.7 1275.7,912.0 1276.0,901.2 1276.3,909.6 1276.5,904.2 1276.8,909.9 1277.1,903.7 1277.4,908.6 1277.7,903.4 1278.0,909.8 1278.3,902.3 1278.5,911.4 1278.8,901.0 1279.1,911.5 1279.4,902.0 1279.7,911.7 1280.0,900.6 1280.2,909.5 1280.5,902.1 1280.8,908.5 1281.1,903.7 1281.4,911.4 1281.7,902.5 1281.9,911.7 1282.2,901.8 1282.5,910.9 1282.8,903.8 1283.1,911.1 1283.4,902.4 1283.6,911.7 1283.9,900.7 1284.2,911.5 1284.5,902.1 1284.8,910.4 1285.1,904.6 1285.4,909.7 1285.6,902.6 1285.9,911.0 1286.2,901.9 1286.5,911.8 1286.8,900.9 1287.1,908.6 1287.3,903.7 1287.6,909.1 1287.9,901.3 1288.2,911.6 1288.5,901.9 1288.8,912.0 1289.0,898.8 1289.3,909.4 1289.6,902.5 1289.9,912.1 1290.2,901.9 1290.5,908.4 1290.7,901.8 1291.0,909.8 1291.3,901.9 1291.6,910.1 1291.9,903.0 1292.2,908.0 1292.5,903.7 1292.7,908.8 1293.0,900.9 1293.3,910.1 1293.6,903.3 1293.9,911.0 1294.2,903.5 1294.4,908.0 1294.7,904.6 1295.0,910.2 1295.3,903.2 1295.6,911.8 1295.9,902.3 1296.1,910.9 1296.4,904.0 1296.7,908.4 1297.0,902.0 1297.3,908.3 1297.6,902.6 1297.8,911.6 1298.1,903.4 1298.4,874.1 1298.7,826.0 1299.0,803.6 1299.3,772.0 1299.6,765.2 1299.8,746.3 1300.1,744.0 1300.4,729.0 1300.7,730.0 1301.0,720.1 1301.3,726.0 1301.5,716.0 1301.8,720.0 1302.1,711.8 1302.4,719.9 1302.7,711.7 1303.0,715.9 1303.2,709.0 1303.5,715.9 1303.8,707.6 1304.1,715.0 1304.4,708.0 1304.7,717.0 1304.9,711.0 1305.2,715.4 1305.5,707.4 1305.8,718.3 1306.1,708.5 1306.4,715.5 1306.7,709.5 1306.9,717.0 1307.2,710.6 1307.5,716.9 1307.8,710.4 1308.1,715.7 1308.4,706.9 1308.6,716.0 1308.9,707.0 1309.2,716.2 1309.5,710.3 1309.8,717.1 1310.1,708.3 1310.3,716.8 1310.6,707.2 1310.9,716.2 1311.2,707.0 1311.5,718.1 1311.8,707.2 1312.0,717.4 1312.3,709.5 1312.6,714.7 1312.9,710.0 1313.2,716.5 1313.5,706.8 1313.8,714.9 1314.0,710.3 1314.3,717.6 1314.6,709.5 1314.9,714.5 1315.2,707.7 1315.5,717.4 1315.7,707.3 1316.0,715.8 1316.3,708.8 1316.6,717.1 1316.9,708.3 1317.2,716.0 1317.4,707.8 1317.7,715.7 1318.0,707.5 1318.3,716.6 1318.6,705.0 1318.9,714.4 1319.1,707.5 1319.4,718.1 1319.7,708.9 1320.0,715.2 1320.3,706.6 1320.6,716.6 1320.9,709.9 1321.1,716.2 1321.4,707.5 1321.7,717.0 1322.0,708.3 1322.3,715.0 1322.6,708.5 1322.8,714.4 1323.1,708.9 1323.4,718.1 1323.7,707.1 1324.0,716.4 1324.3,710.8 1324.5,717.6 1324.8,708.2 1325.1,717.9 1325.4,708.7 1325.7,717.7 1326.0,708.9 1326.2,715.4 1326.5,708.1 1326.8,714.0 1327.1,703.0 1327.4,716.8 1327.7,710.3 1328.0,718.0 1328.2,708.7 1328.5,716.1 1328.8,708.2 1329.1,714.2 1329.4,707.6 1329.7,715.2 1329.9,709.8 1330.2,716.5 1330.5,708.4 1330.8,717.9 1331.1,709.3 1331.4,718.1 1331.6,707.3 1331.9,715.1 1332.2,710.6 1332.5,714.4 1332.8,707.5 1333.1,714.6 1333.3,710.4 1333.6,717.6 1333.9,707.7 1334.2,716.2 1334.5,707.1 1334.8,718.1 1335.1,708.8 1335.3,717.8 1335.6,710.2 1335.9,715.4 1336.2,710.1 1336.5,716.2 1336.8,707.8 1337.0,717.8 1337.3,709.6 1337.6,717.2 1337.9,710.9 1338.2,714.9 1338.5,707.0 1338.7,716.4 1339.0,710.5 1339.3,716.8 1339.6,709.9 1339.9,717.3 1340.2,710.6 1340.4,715.6 1340.7,708.3 1341.0,716.4 1341.3,708.4 1341.6,716.3 1341.9,709.8 1342.2,716.2 1342.4,709.2 1342.7,717.9 1343.0,761.2 1343.3,805.2 1343.6,829.2 1343.9,858.6 1344.1,867.7 1344.4,887.0 1344.7,884.6 1345.0,901.0 1345.3,896.3 1345.6,909.3 1345.8,904.5 1346.1,913.6 1346.4,906.3 1346.7,914.5 1347.0,909.9 1347.3,917.4 1347.5,911.5 1347.8,918.7 1348.1,910.3 1348.4,916.3 1348.7,910.8 1349.0,916.5 1349.3,910.7 1349.5,920.1 1349.8,910.8 1350.1,919.8 1350.4,911.7 1350.7,919.5 1351.0,911.1 1351.2,920.2 1351.5,909.9 1351.8,920.1 1352.1,909.6 1352.4,917.9 1352.7,910.4 1352.9,919.0 1353.2,910.3 1353.5,919.4 1353.8,910.6 1354.1,917.2 1354.4,910.1 1354.6,923.8 1354.9,911.4 1355.2,920.1 1355.5,911.6 1355.8,918.4 1356.1,913.2 1356.4,920.1 1356.6,911.1 1356.9,920.3 1357.2,910.0 1357.5,918.1 1357.8,909.8 1358.1,919.8 1358.3,912.1 1358.6,918.0 1358.9,911.2 1359.2,916.3 1359.5,909.4 1359.8,918.1 1360.0,912.2 1360.3,919.8 1360.6,910.0 1360.9,919.7 1361.2,910.0 1361.5,919.5 1361.7,912.2 1362.0,916.8 1362.3,910.1 1362.6,920.1 1362.9,912.1 1363.2,919.3 1363.5,910.6 1363.7,917.9 1364.0,909.2 1364.3,918.4 1364.6,910.9 1364.9,919.3 1365.2,911.8 1365.4,917.0 1365.7,910.8 1366.0,918.2 1366.3,910.9 1366.6,918.0 1366.9,912.4 1367.1,919.0 1367.4,910.9 1367.7,917.2 1368.0,912.9 1368.3,920.4 1368.6,909.3 1368.8,916.7 1369.1,909.8 1369.4,918.8 1369.7,911.2 1370.0,916.7 1370.3,912.2 1370.6,919.8 1370.8,911.1 1371.1,921.4 1371.4,911.2 1371.7,918.1 1372.0,910.0 1372.3,918.4 1372.5,910.5 1372.8,917.6 1373.1,910.2 1373.4,919.6 1373.7,912.7 1374.0,920.2 1374.2,910.4 1374.5,920.5 1374.8,909.6 1375.1,920.1 1375.4,909.3 1375.7,919.9 1375.9,910.2 1376.2,917.0 1376.5,912.8 1376.8,919.8 1377.1,910.0 1377.4,919.1 1377.7,909.5 1377.9,918.3 1378.2,909.9 1378.5,918.1 1378.8,910.7 1379.1,917.7 1379.4,910.9 1379.6,919.7 1379.9,912.5 1380.2,919.7 1380.5,910.1 1380.8,920.1 1381.1,910.5 1381.3,917.3 1381.6,910.2 1381.9,918.5 1382.2,911.4 1382.5,919.3 1382.8,910.5 1383.0,917.8 1383.3,909.8 1383.6,917.3 1383.9,911.7 1384.2,919.4 1384.5,912.2 1384.8,919.0 1385.0,911.2 1385.3,916.7 1385.6,913.1 1385.9,919.0 1386.2,913.1 1386.5,919.0 1386.7,911.4 1387.0,918.7 1387.3,910.6 1387.6,923.4 1387.9,912.7 1388.2,918.6 1388.4,909.6 1388.7,918.6 1389.0,910.1 1389.3,917.7 1389.6,910.5 1389.9,920.1 1390.1,909.5 1390.4,919.1 1390.7,913.3 1391.0,918.7" fill="none" stroke="#d8ae36" stroke-width="1.2" stroke-linejoin="bevel"/>
<polyline points="823.0,721.6 823.3,711.7 823.6,717.6 823.9,711.8 824.1,719.8 824.4,712.7 824.7,721.3 825.0,711.5 825.3,718.9 825.6,710.4 825.8,721.6 826.1,710.2 826.4,718.3 826.7,710.4 827.0,718.3 827.3,711.1 827.5,722.2 827.8,713.1 828.1,719.7 828.4,710.0 828.7,721.0 829.0,710.4 829.2,717.9 829.5,711.2 829.8,720.7 830.1,710.1 830.4,718.5 830.7,712.5 831.0,720.3 831.2,713.0 831.5,724.8 831.8,706.6 832.1,719.6 832.4,711.1 832.7,719.8 832.9,713.5 833.2,718.1 833.5,710.6 833.8,722.3 834.1,709.7 834.4,721.1 834.6,711.9 834.9,721.6 835.2,711.8 835.5,719.9 835.8,710.6 836.1,720.3 836.3,711.3 836.6,718.5 836.9,712.3 837.2,720.1 837.5,712.8 837.8,721.9 838.1,712.7 838.3,720.3 838.6,712.2 838.9,721.6 839.2,711.0 839.5,722.1 839.8,711.2 840.0,719.9 840.3,710.4 840.6,721.7 840.9,711.9 841.2,717.9 841.5,713.6 841.7,719.7 842.0,710.2 842.3,718.9 842.6,711.2 842.9,721.5 843.2,711.7 843.4,718.4 843.7,713.4 844.0,720.8 844.3,711.1 844.6,718.4 844.9,711.8 845.2,720.9 845.4,713.5 845.7,718.3 846.0,710.0 846.3,722.0 846.6,710.8 846.9,718.6 847.1,710.0 847.4,721.5 847.7,712.7 848.0,718.1 848.3,709.7 848.6,722.2 848.8,710.2 849.1,722.3 849.4,709.9 849.7,718.3 850.0,711.1 850.3,717.9 850.5,712.2 850.8,722.4 851.1,709.8 851.4,719.6 851.7,710.7 852.0,720.6 852.3,711.7 852.5,718.2 852.8,714.1 853.1,718.6 853.4,713.3 853.7,719.8 854.0,713.0 854.2,722.0 854.5,713.3 854.8,719.1 855.1,710.4 855.4,718.9 855.7,712.2 855.9,719.9 856.2,711.4 856.5,721.3 856.8,710.4 857.1,721.1 857.4,713.3 857.6,719.8 857.9,714.0 858.2,718.4 858.5,713.6 858.8,717.9 859.1,710.4 859.4,720.6 859.6,712.6 859.9,721.3 860.2,713.2 860.5,718.5 860.8,709.7 861.1,722.1 861.3,710.9 861.6,721.0 861.9,711.9 862.2,721.8 862.5,710.4 862.8,720.7 863.0,710.4 863.3,722.4 863.6,710.9 863.9,718.3 864.2,714.1 864.5,718.5 864.7,714.1 865.0,722.2 865.3,710.3 865.6,720.4 865.9,712.3 866.2,721.7 866.5,711.3 866.7,718.5 867.0,713.2 867.3,719.8 867.6,711.4 867.9,720.3 868.2,713.4 868.4,718.9 868.7,710.4 869.0,722.2 869.3,711.6 869.6,720.8 869.9,710.1 870.1,721.2 870.4,711.8 870.7,722.0 871.0,709.9 871.3,721.8 871.6,712.8 871.8,719.8 872.1,709.7 872.4,725.1 872.7,723.4 873.0,739.3 873.3,733.0 873.6,745.6 873.8,737.1 874.1,747.5 874.4,739.8 874.7,751.3 875.0,740.8 875.3,751.0 875.5,744.1 875.8,749.0 876.1,741.4 876.4,751.2 876.7,741.8 877.0,749.3 877.2,742.0 877.5,750.8 877.8,741.8 878.1,750.0 878.4,742.3 878.7,752.6 878.9,744.8 879.2,751.4 879.5,742.6 879.8,753.5 880.1,741.2 880.4,748.9 880.7,745.3 880.9,751.4 881.2,743.9 881.5,751.1 881.8,744.9 882.1,751.0 882.4,744.6 882.6,751.5 882.9,745.4 883.2,753.0 883.5,740.3 883.8,753.6 884.1,742.1 884.3,749.4 884.6,742.0 884.9,753.6 885.2,743.2 885.5,751.8 885.8,742.7 886.0,751.4 886.3,742.0 886.6,752.6 886.9,739.0 887.2,753.2 887.5,742.7 887.8,750.5 888.0,744.3 888.3,749.9 888.6,741.9 888.9,753.2 889.2,741.9 889.5,749.5 889.7,743.5 890.0,750.1 890.3,744.2 890.6,751.8 890.9,742.2 891.2,751.3 891.4,742.4 891.7,750.5 892.0,741.0 892.3,752.2 892.6,744.0 892.9,753.5 893.1,743.2 893.4,753.6 893.7,741.3 894.0,750.6 894.3,743.7 894.6,751.6 894.9,744.8 895.1,751.7 895.4,741.7 895.7,750.5 896.0,743.4 896.3,753.1 896.6,741.9 896.8,751.6 897.1,741.3 897.4,749.0 897.7,742.8 898.0,749.9 898.3,742.3 898.5,753.2 898.8,741.7 899.1,749.7 899.4,742.9 899.7,750.5 900.0,744.7 900.2,749.1 900.5,743.7 900.8,752.4 901.1,742.9 901.4,752.1 901.7,744.4 902.0,752.3 902.2,744.2 902.5,751.9 902.8,742.5 903.1,750.1 903.4,741.9 903.7,751.1 903.9,744.8 904.2,753.3 904.5,742.9 904.8,753.3 905.1,743.5 905.4,751.0 905.6,743.3 905.9,750.7 906.2,743.0 906.5,753.2 906.8,742.6 907.1,751.5 907.3,743.1 907.6,749.0 907.9,742.4 908.2,752.2 908.5,741.5 908.8,751.7 909.1,743.5 909.3,751.5 909.6,742.5 909.9,750.9 910.2,742.4 910.5,753.0 910.8,741.0 911.0,750.5 911.3,743.5 911.6,752.1 911.9,744.5 912.2,753.5 912.5,737.7 912.7,749.2 913.0,742.3 913.3,751.5 913.6,743.0 913.9,753.6 914.2,745.2 914.4,753.5 914.7,743.5 915.0,751.0 915.3,742.3 915.6,750.1 915.9,742.6 916.2,750.2 916.4,742.8 916.7,752.3 917.0,745.4 917.3,753.1 917.6,745.0 917.9,752.3 918.1,740.9 918.4,751.9 918.7,743.7 919.0,751.3 919.3,737.9 919.6,750.8 919.8,735.7 920.1,735.0 920.4,724.3 920.7,728.4 921.0,718.2 921.3,725.9 921.5,715.8 921.8,724.7 922.1,711.9 922.4,720.5 922.7,713.8 923.0,720.8 923.3,712.6 923.5,719.6 923.8,710.9 924.1,719.8 924.4,712.3 924.7,720.1 925.0,713.4 925.2,720.8 925.5,711.2 925.8,724.4 926.1,713.9 926.4,723.2 926.7,713.0 926.9,722.3 927.2,714.0 927.5,719.7 927.8,712.6 928.1,722.1 928.4,710.5 928.6,720.9 928.9,711.0 929.2,722.4 929.5,710.0 929.8,720.9 930.1,713.8 930.4,717.9 930.6,712.5 930.9,721.8 931.2,712.2 931.5,721.7 931.8,711.0 932.1,720.8 932.3,712.8 932.6,718.8 932.9,712.6 933.2,718.7 933.5,710.4 933.8,718.4 934.0,714.0 934.3,719.9 934.6,712.9 934.9,720.7 935.2,711.1 935.5,720.6 935.7,712.8 936.0,718.3 936.3,712.0 936.6,718.4 936.9,712.4 937.2,721.1 937.5,713.8 937.7,718.9 938.0,710.7 938.3,717.7 938.6,710.2 938.9,717.7 939.2,710.8 939.4,721.5 939.7,713.1 940.0,717.8 940.3,710.9 940.6,719.2 940.9,712.2 941.1,719.1 941.4,711.1 941.7,718.4 942.0,712.1 942.3,718.0 942.6,711.4 942.8,720.5 943.1,712.8 943.4,719.6 943.7,712.3 944.0,719.9 944.3,712.5 944.6,718.9 944.8,710.1 945.1,719.1 945.4,710.2 945.7,721.8 946.0,713.8 946.3,720.6 946.5,708.6 946.8,718.0 947.1,709.7 947.4,721.8 947.7,713.0 948.0,719.0 948.2,710.8 948.5,721.5 948.8,714.2 949.1,721.0 949.4,709.8 949.7,722.3 949.9,711.9 950.2,720.6 950.5,710.4 950.8,721.0 951.1,709.6 951.4,720.7 951.7,705.3 951.9,722.3 952.2,714.4 952.5,720.3 952.8,710.4 953.1,718.4 953.4,713.1 953.6,719.9 953.9,710.7 954.2,721.7 954.5,712.0 954.8,722.1 955.1,712.0 955.3,720.2 955.6,710.9 955.9,719.5 956.2,710.3 956.5,719.3 956.8,712.8 957.0,720.5 957.3,713.3 957.6,722.3 957.9,712.9 958.2,720.4 958.5,709.9 958.8,718.5 959.0,713.4 959.3,719.0 959.6,709.7 959.9,720.9 960.2,711.9 960.5,719.5 960.7,713.3 961.0,718.7 961.3,709.8 961.6,724.5 961.9,710.1 962.2,721.1 962.4,714.1 962.7,718.5 963.0,714.3 963.3,720.6 963.6,710.4 963.9,726.1 964.1,709.8 964.4,717.8 964.7,713.5 965.0,718.7 965.3,711.5 965.6,719.2 965.9,711.2 966.1,721.7 966.4,710.1 966.7,719.7 967.0,707.7 967.3,719.6 967.6,710.8 967.8,721.5 968.1,710.0 968.4,722.0 968.7,710.3 969.0,720.8 969.3,710.2 969.5,718.0 969.8,713.8 970.1,718.5 970.4,710.1 970.7,718.1 971.0,730.6 971.2,752.8 971.5,754.1 971.8,770.7 972.1,764.3 972.4,778.8 972.7,773.1 973.0,785.5 973.2,777.8 973.5,785.9 973.8,776.9 974.1,789.8 974.4,780.4 974.7,789.6 974.9,780.0 975.2,790.6 975.5,783.3 975.8,795.9 976.1,779.5 976.4,790.5 976.6,782.5 976.9,791.9 977.2,781.5 977.5,789.5 977.8,781.8 978.1,795.9 978.3,782.9 978.6,791.4 978.9,783.0 979.2,791.9 979.5,782.5 979.8,792.0 980.1,779.8 980.3,787.6 980.6,779.3 980.9,788.4 981.2,782.1 981.5,790.1 981.8,781.2 982.0,790.4 982.3,781.2 982.6,790.0 982.9,780.7 983.2,789.6 983.5,780.7 983.7,788.6 984.0,783.2 984.3,789.7 984.6,781.4 984.9,791.1 985.2,781.5 985.4,788.9 985.7,781.3 986.0,789.1 986.3,781.0 986.6,790.3 986.9,782.4 987.2,789.2 987.4,779.5 987.7,791.4 988.0,779.8 988.3,791.2 988.6,779.3 988.9,791.5 989.1,783.3 989.4,788.3 989.7,780.4 990.0,790.6 990.3,780.5 990.6,790.2 990.8,780.0 991.1,790.1 991.4,780.0 991.7,788.9 992.0,783.8 992.3,790.4 992.5,780.8 992.8,789.8 993.1,781.4 993.4,788.3 993.7,777.3 994.0,793.0 994.3,781.0 994.5,788.0 994.8,780.6 995.1,791.1 995.4,781.0 995.7,789.9 996.0,783.5 996.2,792.0 996.5,783.3 996.8,790.0 997.1,780.4 997.4,791.9 997.7,779.7 997.9,789.0 998.2,782.7 998.5,791.6 998.8,781.9 999.1,789.5 999.4,781.5 999.6,796.1 999.9,779.8 1000.2,787.4 1000.5,781.8 1000.8,790.6 1001.1,781.5 1001.4,788.3 1001.6,783.2 1001.9,789.8 1002.2,781.9 1002.5,791.4 1002.8,779.7 1003.1,788.4 1003.3,779.4 1003.6,791.8 1003.9,780.6 1004.2,790.8 1004.5,780.7 1004.8,787.7 1005.0,780.1 1005.3,787.3 1005.6,782.3 1005.9,794.9 1006.2,781.8 1006.5,789.0 1006.7,779.9 1007.0,789.0 1007.3,779.3 1007.6,788.6 1007.9,781.6 1008.2,790.7 1008.5,783.7 1008.7,790.1 1009.0,782.4 1009.3,787.7 1009.6,781.5 1009.9,788.3 1010.2,781.2 1010.4,788.6 1010.7,780.9 1011.0,787.9 1011.3,780.5 1011.6,788.6 1011.9,783.2 1012.1,791.5 1012.4,779.9 1012.7,792.6 1013.0,783.1 1013.3,791.7 1013.6,779.9 1013.8,788.2 1014.1,782.8 1014.4,790.0 1014.7,782.0 1015.0,789.1 1015.3,779.8 1015.6,787.9 1015.8,781.5 1016.1,788.7 1016.4,764.6 1016.7,757.0 1017.0,739.6 1017.3,738.8 1017.5,726.6 1017.8,731.6 1018.1,719.3 1018.4,724.7 1018.7,715.1 1019.0,724.9 1019.2,712.3 1019.5,719.5 1019.8,714.5 1020.1,719.3 1020.4,711.0 1020.7,720.2 1020.9,711.1 1021.2,719.5 1021.5,714.6 1021.8,720.3 1022.1,709.9 1022.4,722.0 1022.7,712.0 1022.9,720.4 1023.2,710.3 1023.5,722.0 1023.8,714.2 1024.1,719.2 1024.4,710.9 1024.6,722.2 1024.9,711.7 1025.2,718.9 1025.5,714.1 1025.8,719.1 1026.1,712.5 1026.3,720.3 1026.6,713.9 1026.9,718.6 1027.2,711.0 1027.5,718.7 1027.8,711.7 1028.0,718.7 1028.3,712.0 1028.6,721.2 1028.9,712.1 1029.2,721.2 1029.5,709.8 1029.8,720.1 1030.0,711.6 1030.3,722.3 1030.6,711.7 1030.9,721.4 1031.2,710.8 1031.5,719.6 1031.7,710.9 1032.0,721.3 1032.3,712.3 1032.6,721.0 1032.9,711.5 1033.2,722.1 1033.4,710.3 1033.7,721.7 1034.0,710.4 1034.3,722.1 1034.6,711.1 1034.9,719.1 1035.1,710.3 1035.4,724.4 1035.7,713.1 1036.0,718.7 1036.3,709.9 1036.6,718.5 1036.9,709.9 1037.1,719.9 1037.4,710.0 1037.7,721.8 1038.0,710.4 1038.3,721.8 1038.6,710.5 1038.8,722.3 1039.1,712.7 1039.4,719.9 1039.7,711.9 1040.0,720.6 1040.3,711.9 1040.5,721.2 1040.8,713.2 1041.1,720.2 1041.4,711.6 1041.7,720.1 1042.0,709.9 1042.2,722.0 1042.5,711.8 1042.8,721.2 1043.1,714.0 1043.4,722.2 1043.7,714.4 1044.0,722.3 1044.2,710.4 1044.5,719.7 1044.8,713.7 1045.1,720.9 1045.4,711.0 1045.7,722.4 1045.9,712.4 1046.2,719.8 1046.5,714.3 1046.8,721.4 1047.1,711.9 1047.4,719.2 1047.6,710.3 1047.9,720.5 1048.2,711.3 1048.5,719.4 1048.8,710.7 1049.1,719.3 1049.3,710.2 1049.6,718.2 1049.9,713.2 1050.2,718.9 1050.5,713.7 1050.8,719.5 1051.1,711.8 1051.3,721.1 1051.6,712.7 1051.9,720.3 1052.2,713.7 1052.5,718.8 1052.8,712.5 1053.0,721.9 1053.3,711.9 1053.6,719.4 1053.9,710.2 1054.2,722.2 1054.5,713.3 1054.7,721.1 1055.0,714.0 1055.3,720.1 1055.6,711.2 1055.9,722.1 1056.2,710.5 1056.4,721.1 1056.7,710.7 1057.0,722.2 1057.3,713.5 1057.6,718.8 1057.9,711.7 1058.2,720.3 1058.4,711.6 1058.7,721.4 1059.0,711.6 1059.3,718.6 1059.6,710.5 1059.9,722.1 1060.1,710.8 1060.4,718.6 1060.7,710.8 1061.0,719.5 1061.3,711.0 1061.6,722.2 1061.8,711.1 1062.1,722.2 1062.4,711.5 1062.7,738.1 1063.0,752.8 1063.3,771.8 1063.5,778.1 1063.8,793.1 1064.1,791.2 1064.4,804.5 1064.7,798.8 1065.0,809.3 1065.3,806.5 1065.5,815.0 1065.8,807.7 1066.1,814.1 1066.4,808.8 1066.7,818.2 1067.0,809.8 1067.2,818.1 1067.5,807.2 1067.8,817.7 1068.1,807.8 1068.4,817.1 1068.7,808.7 1068.9,817.7 1069.2,809.4 1069.5,819.3 1069.8,808.5 1070.1,816.4 1070.4,811.9 1070.6,817.5 1070.9,811.1 1071.2,818.7 1071.5,809.2 1071.8,818.5 1072.1,812.1 1072.4,822.5 1072.6,811.4 1072.9,819.6 1073.2,810.7 1073.5,820.0 1073.8,809.7 1074.1,818.8 1074.3,808.0 1074.6,818.8 1074.9,809.2 1075.2,817.3 1075.5,809.0 1075.8,820.3 1076.0,811.8 1076.3,823.2 1076.6,810.4 1076.9,820.2 1077.2,810.8 1077.5,817.3 1077.7,808.2 1078.0,817.5 1078.3,810.1 1078.6,816.9 1078.9,808.4 1079.2,820.4 1079.5,812.1 1079.7,819.5 1080.0,810.9 1080.3,817.0 1080.6,810.5 1080.9,817.9 1081.2,809.4 1081.4,817.7 1081.7,809.4 1082.0,815.8 1082.3,809.5 1082.6,817.2 1082.9,811.4 1083.1,819.6 1083.4,808.4 1083.7,816.4 1084.0,810.3 1084.3,819.4 1084.6,809.1 1084.8,815.7 1085.1,811.1 1085.4,816.6 1085.7,809.8 1086.0,817.1 1086.3,810.1 1086.6,817.9 1086.8,808.6 1087.1,816.5 1087.4,811.0 1087.7,816.1 1088.0,811.1 1088.3,819.5 1088.5,809.3 1088.8,820.2 1089.1,812.0 1089.4,819.4 1089.7,808.2 1090.0,816.8 1090.2,808.9 1090.5,816.8 1090.8,807.8 1091.1,817.5 1091.4,809.9 1091.7,819.4 1091.9,809.2 1092.2,817.1 1092.5,810.1 1092.8,817.6 1093.1,810.2 1093.4,817.2 1093.7,807.6 1093.9,819.9 1094.2,807.7 1094.5,816.2 1094.8,809.9 1095.1,819.9 1095.4,811.5 1095.6,818.9 1095.9,809.4 1096.2,820.2 1096.5,810.1 1096.8,815.8 1097.1,810.3 1097.3,818.7 1097.6,807.9 1097.9,818.0 1098.2,809.3 1098.5,819.4 1098.8,810.0 1099.0,819.6 1099.3,810.6 1099.6,816.4 1099.9,809.3 1100.2,817.8 1100.5,809.9 1100.8,820.0 1101.0,808.4 1101.3,819.4 1101.6,809.8 1101.9,824.1 1102.2,810.0 1102.5,820.0 1102.7,810.8 1103.0,817.7 1103.3,809.2 1103.6,818.3 1103.9,810.9 1104.2,820.0 1104.4,808.6 1104.7,818.6 1105.0,808.8 1105.3,819.9 1105.6,811.7 1105.9,816.7 1106.1,808.9 1106.4,817.0 1106.7,808.8 1107.0,819.9 1107.3,808.7 1107.6,817.5 1107.9,810.7 1108.1,821.6 1108.4,810.6 1108.7,816.1 1109.0,809.2 1109.3,818.2 1109.6,810.3 1109.8,819.3 1110.1,784.6 1110.4,773.5 1110.7,751.9 1111.0,748.4 1111.3,734.9 1111.5,736.8 1111.8,726.0 1112.1,730.0 1112.4,716.4 1112.7,725.9 1113.0,714.1 1113.2,724.7 1113.5,712.4 1113.8,721.5 1114.1,711.6 1114.4,719.8 1114.7,712.9 1115.0,721.7 1115.2,712.5 1115.5,722.2 1115.8,710.5 1116.1,719.5 1116.4,712.9 1116.7,720.2 1116.9,710.4 1117.2,722.2 1117.5,712.1 1117.8,722.3 1118.1,713.2 1118.4,722.3 1118.6,711.1 1118.9,720.2 1119.2,712.7 1119.5,718.5 1119.8,711.0 1120.1,721.9 1120.3,711.5 1120.6,722.1 1120.9,712.0 1121.2,718.8 1121.5,714.2 1121.8,721.3 1122.1,707.9 1122.3,722.0 1122.6,709.9 1122.9,721.9 1123.2,710.0 1123.5,721.9 1123.8,711.8 1124.0,720.5 1124.3,712.7 1124.6,718.8 1124.9,710.1 1125.2,719.1 1125.5,712.7 1125.7,720.9 1126.0,710.6 1126.3,720.8 1126.6,710.5 1126.9,719.6 1127.2,710.0 1127.4,718.4 1127.7,713.6 1128.0,720.5 1128.3,709.7 1128.6,720.0 1128.9,711.9 1129.2,718.2 1129.4,710.2 1129.7,721.0 1130.0,710.0 1130.3,718.6 1130.6,710.2 1130.9,718.5 1131.1,713.3 1131.4,721.0 1131.7,709.6 1132.0,719.5 1132.3,714.3 1132.6,721.3 1132.8,712.9 1133.1,720.8 1133.4,712.8 1133.7,718.9 1134.0,712.0 1134.3,721.0 1134.5,713.8 1134.8,719.4 1135.1,711.5 1135.4,721.6 1135.7,710.2 1136.0,719.3 1136.3,707.6 1136.5,719.7 1136.8,711.3 1137.1,721.7 1137.4,711.4 1137.7,719.8 1138.0,713.9 1138.2,718.5 1138.5,710.6 1138.8,721.5 1139.1,713.8 1139.4,721.9 1139.7,712.9 1139.9,719.5 1140.2,712.1 1140.5,718.8 1140.8,713.8 1141.1,718.7 1141.4,710.0 1141.6,719.3 1141.9,710.2 1142.2,721.2 1142.5,709.6 1142.8,720.4 1143.1,711.9 1143.4,718.9 1143.6,712.0 1143.9,722.0 1144.2,713.9 1144.5,721.2 1144.8,711.9 1145.1,720.0 1145.3,711.4 1145.6,721.7 1145.9,712.3 1146.2,720.3 1146.5,714.1 1146.8,721.2 1147.0,713.6 1147.3,721.0 1147.6,712.2 1147.9,718.4 1148.2,710.5 1148.5,721.2 1148.7,710.8 1149.0,721.3 1149.3,713.4 1149.6,721.7 1149.9,711.7 1150.2,720.4 1150.5,713.2 1150.7,720.0 1151.0,711.6 1151.3,717.7 1151.6,713.8 1151.9,717.8 1152.2,712.0 1152.4,720.6 1152.7,714.0 1153.0,721.5 1153.3,709.9 1153.6,719.4 1153.9,710.1 1154.1,722.1 1154.4,709.8 1154.7,720.7 1155.0,712.9 1155.3,721.8 1155.6,713.4 1155.8,717.9 1156.1,711.9 1156.4,720.1 1156.7,711.0 1157.0,719.0 1157.3,712.6 1157.6,720.4 1157.8,711.0 1158.1,720.5 1158.4,712.7 1158.7,718.3 1159.0,711.3 1159.3,719.5 1159.5,712.8 1159.8,721.0 1160.1,712.4 1160.4,722.3 1160.7,710.9 1161.0,718.0 1161.2,753.5 1161.5,795.4 1161.8,805.8 1162.1,833.1 1162.4,839.9 1162.7,855.3 1162.9,854.6 1163.2,867.6 1163.5,862.9 1163.8,875.4 1164.1,866.4 1164.4,877.5 1164.7,870.3 1164.9,878.1 1165.2,872.1 1165.5,879.3 1165.8,873.3 1166.1,881.5 1166.4,871.6 1166.6,880.5 1166.9,875.8 1167.2,883.4 1167.5,873.3 1167.8,882.6 1168.1,876.0 1168.3,881.7 1168.6,872.4 1168.9,883.8 1169.2,872.1 1169.5,883.6 1169.8,871.7 1170.0,880.7 1170.3,872.7 1170.6,881.1 1170.9,874.6 1171.2,880.1 1171.5,875.6 1171.8,884.5 1172.0,876.0 1172.3,883.0 1172.6,872.3 1172.9,883.7 1173.2,872.4 1173.5,880.6 1173.7,873.3 1174.0,883.1 1174.3,872.2 1174.6,881.7 1174.9,874.4 1175.2,883.0 1175.4,872.7 1175.7,881.8 1176.0,874.4 1176.3,880.9 1176.6,871.9 1176.9,884.2 1177.1,874.1 1177.4,880.6 1177.7,871.5 1178.0,882.9 1178.3,873.9 1178.6,881.4 1178.9,873.7 1179.1,882.7 1179.4,872.2 1179.7,884.0 1180.0,875.6 1180.3,880.3 1180.6,873.3 1180.8,882.4 1181.1,871.7 1181.4,880.8 1181.7,872.0 1182.0,883.9 1182.3,872.1 1182.5,883.6 1182.8,873.8 1183.1,884.0 1183.4,874.7 1183.7,883.9 1184.0,872.0 1184.2,880.2 1184.5,874.0 1184.8,881.4 1185.1,873.3 1185.4,882.2 1185.7,875.9 1186.0,880.4 1186.2,873.9 1186.5,880.1 1186.8,872.2 1187.1,882.0 1187.4,872.4 1187.7,884.0 1187.9,875.6 1188.2,880.9 1188.5,872.5 1188.8,882.7 1189.1,874.8 1189.4,881.0 1189.6,872.5 1189.9,886.6 1190.2,872.4 1190.5,883.6 1190.8,873.2 1191.1,884.0 1191.3,867.5 1191.6,884.2 1191.9,872.9 1192.2,882.6 1192.5,875.0 1192.8,884.2 1193.1,875.9 1193.3,882.9 1193.6,871.7 1193.9,881.9 1194.2,875.8 1194.5,880.2 1194.8,874.3 1195.0,879.8 1195.3,873.0 1195.6,880.9 1195.9,875.0 1196.2,884.2 1196.5,871.7 1196.7,881.2 1197.0,872.9 1197.3,884.0 1197.6,872.0 1197.9,882.6 1198.2,872.4 1198.4,881.7 1198.7,875.9 1199.0,879.6 1199.3,875.7 1199.6,881.4 1199.9,871.6 1200.2,880.7 1200.4,872.8 1200.7,882.1 1201.0,873.8 1201.3,882.2 1201.6,871.8 1201.9,884.1 1202.1,873.7 1202.4,883.2 1202.7,872.2 1203.0,879.7 1203.3,874.2 1203.6,883.1 1203.8,874.3 1204.1,883.0 1204.4,873.3 1204.7,883.9 1205.0,874.4 1205.3,880.8 1205.5,860.6 1205.8,830.0 1206.1,792.6 1206.4,777.9 1206.7,754.2 1207.0,753.7 1207.3,735.1 1207.5,739.7 1207.8,724.4 1208.1,728.6 1208.4,721.7 1208.7,727.6 1209.0,714.0 1209.2,724.9 1209.5,715.4 1209.8,719.8 1210.1,713.7 1210.4,722.4 1210.7,713.6 1210.9,718.8 1211.2,712.1 1211.5,720.2 1211.8,710.9 1212.1,720.5 1212.4,710.0 1212.6,721.3 1212.9,711.3 1213.2,719.0 1213.5,710.8 1213.8,718.4 1214.1,711.0 1214.4,718.2 1214.6,710.4 1214.9,718.9 1215.2,712.1 1215.5,719.0 1215.8,709.8 1216.1,718.8 1216.3,712.2 1216.6,719.0 1216.9,710.6 1217.2,720.8 1217.5,711.3 1217.8,720.5 1218.0,705.4 1218.3,720.1 1218.6,710.1 1218.9,721.4 1219.2,712.0 1219.5,721.4 1219.7,710.5 1220.0,717.9 1220.3,713.6 1220.6,720.2 1220.9,712.3 1221.2,720.2 1221.5,710.7 1221.7,721.9 1222.0,710.5 1222.3,721.6 1222.6,713.5 1222.9,721.9 1223.2,713.2 1223.4,721.9 1223.7,711.7 1224.0,718.9 1224.3,709.9 1224.6,720.4 1224.9,710.1 1225.1,720.3 1225.4,710.9 1225.7,722.2 1226.0,711.0 1226.3,719.3 1226.6,709.7 1226.8,722.3 1227.1,712.4 1227.4,722.0 1227.7,712.1 1228.0,721.8 1228.3,710.0 1228.6,721.1 1228.8,709.9 1229.1,718.9 1229.4,712.7 1229.7,717.7 1230.0,712.7 1230.3,721.8 1230.5,710.8 1230.8,718.5 1231.1,710.3 1231.4,721.5 1231.7,710.9 1232.0,721.9 1232.2,714.2 1232.5,720.1 1232.8,714.2 1233.1,720.9 1233.4,712.9 1233.7,717.7 1233.9,709.9 1234.2,722.2 1234.5,710.5 1234.8,720.2 1235.1,709.9 1235.4,719.6 1235.7,710.1 1235.9,721.1 1236.2,713.0 1236.5,718.5 1236.8,711.3 1237.1,722.2 1237.4,713.4 1237.6,718.3 1237.9,709.9 1238.2,722.4 1238.5,711.4 1238.8,721.9 1239.1,713.0 1239.3,720.9 1239.6,710.9 1239.9,720.2 1240.2,711.3 1240.5,721.1 1240.8,709.9 1241.0,719.3 1241.3,712.2 1241.6,722.2 1241.9,713.1 1242.2,718.2 1242.5,712.7 1242.8,720.3 1243.0,710.4 1243.3,718.9 1243.6,710.1 1243.9,722.1 1244.2,712.9 1244.5,718.9 1244.7,713.8 1245.0,721.8 1245.3,712.6 1245.6,718.8 1245.9,710.2 1246.2,721.1 1246.4,714.4 1246.7,721.6 1247.0,710.4 1247.3,719.6 1247.6,711.0 1247.9,721.6 1248.1,711.9 1248.4,720.6 1248.7,713.6 1249.0,723.7 1249.3,710.2 1249.6,720.4 1249.9,713.1 1250.1,720.4 1250.4,713.0 1250.7,718.5 1251.0,711.8 1251.3,720.8 1251.6,712.0 1251.8,720.6 1252.1,711.0 1252.4,720.0 1252.7,713.2 1253.0,720.6 1253.3,713.5 1253.5,722.3 1253.8,710.9 1254.1,720.6 1254.4,710.3 1254.7,720.6 1255.0,759.7 1255.2,806.0 1255.5,825.0 1255.8,849.5 1256.1,858.6 1256.4,875.1 1256.7,875.1 1257.0,888.2 1257.2,886.4 1257.5,900.3 1257.8,893.8 1258.1,903.4 1258.4,895.3 1258.7,907.0 1258.9,898.6 1259.2,904.0 1259.5,900.6 1259.8,907.0 1260.1,900.4 1260.4,904.7 1260.6,898.1 1260.9,907.5 1261.2,898.1 1261.5,908.0 1261.8,897.0 1262.1,907.6 1262.3,898.3 1262.6,906.7 1262.9,898.4 1263.2,905.9 1263.5,898.4 1263.8,905.5 1264.1,898.9 1264.3,909.4 1264.6,900.7 1264.9,907.4 1265.2,894.9 1265.5,906.2 1265.8,897.7 1266.0,909.3 1266.3,899.2 1266.6,908.9 1266.9,897.8 1267.2,909.2 1267.5,899.5 1267.7,908.8 1268.0,898.8 1268.3,906.1 1268.6,898.4 1268.9,905.1 1269.2,899.5 1269.4,906.6 1269.7,899.8 1270.0,905.6 1270.3,897.5 1270.6,907.1 1270.9,898.6 1271.2,905.5 1271.4,901.2 1271.7,906.4 1272.0,901.3 1272.3,907.9 1272.6,898.9 1272.9,908.4 1273.1,901.1 1273.4,906.3 1273.7,898.3 1274.0,908.7 1274.3,897.3 1274.6,906.8 1274.8,899.9 1275.1,906.5 1275.4,900.3 1275.7,907.7 1276.0,898.9 1276.3,908.8 1276.5,899.0 1276.8,906.5 1277.1,897.4 1277.4,909.8 1277.7,894.5 1278.0,909.6 1278.3,897.7 1278.5,908.8 1278.8,898.8 1279.1,907.2 1279.4,898.9 1279.7,908.3 1280.0,898.0 1280.2,908.8 1280.5,897.1 1280.8,906.5 1281.1,901.3 1281.4,907.9 1281.7,900.2 1281.9,906.9 1282.2,898.9 1282.5,911.7 1282.8,898.2 1283.1,907.0 1283.4,898.0 1283.6,909.3 1283.9,899.4 1284.2,907.1 1284.5,901.2 1284.8,909.1 1285.1,898.2 1285.4,908.6 1285.6,900.8 1285.9,908.7 1286.2,898.9 1286.5,908.0 1286.8,900.0 1287.1,906.0 1287.3,900.4 1287.6,908.7 1287.9,897.3 1288.2,906.7 1288.5,899.6 1288.8,908.0 1289.0,898.1 1289.3,909.8 1289.6,897.5 1289.9,909.6 1290.2,901.5 1290.5,906.8 1290.7,899.8 1291.0,911.3 1291.3,898.6 1291.6,908.9 1291.9,898.1 1292.2,909.7 1292.5,900.1 1292.7,907.2 1293.0,898.8 1293.3,909.8 1293.6,900.5 1293.9,909.4 1294.2,898.0 1294.4,909.2 1294.7,898.2 1295.0,909.0 1295.3,897.1 1295.6,909.6 1295.9,897.5 1296.1,910.8 1296.4,897.1 1296.7,909.2 1297.0,899.7 1297.3,907.6 1297.6,898.8 1297.8,907.6 1298.1,900.1 1298.4,907.0 1298.7,897.8 1299.0,907.1 1299.3,901.7 1299.6,905.6 1299.8,897.4 1300.1,908.8 1300.4,899.9 1300.7,909.4 1301.0,897.7 1301.3,908.6 1301.5,898.2 1301.8,908.4 1302.1,899.4 1302.4,906.3 1302.7,897.8 1303.0,909.0 1303.2,897.6 1303.5,909.4 1303.8,900.5 1304.1,909.4 1304.4,899.6 1304.7,907.2 1304.9,880.5 1305.2,845.4 1305.5,805.0 1305.8,789.7 1306.1,764.5 1306.4,759.4 1306.7,742.1 1306.9,741.5 1307.2,727.9 1307.5,731.9 1307.8,722.1 1308.1,728.5 1308.4,715.7 1308.6,723.5 1308.9,715.4 1309.2,722.8 1309.5,715.7 1309.8,722.5 1310.1,711.1 1310.3,722.5 1310.6,710.4 1310.9,721.3 1311.2,713.2 1311.5,719.1 1311.8,711.4 1312.0,721.5 1312.3,710.7 1312.6,722.4 1312.9,710.7 1313.2,721.8 1313.5,711.7 1313.8,719.7 1314.0,710.5 1314.3,720.3 1314.6,713.2 1314.9,718.3 1315.2,710.7 1315.5,721.8 1315.7,710.1 1316.0,722.4 1316.3,710.5 1316.6,717.8 1316.9,711.9 1317.2,721.8 1317.4,709.4 1317.7,720.1 1318.0,711.5 1318.3,721.9 1318.6,712.2 1318.9,720.9 1319.1,713.0 1319.4,722.3 1319.7,709.0 1320.0,719.4 1320.3,711.8 1320.6,722.1 1320.9,709.8 1321.1,717.8 1321.4,710.8 1321.7,719.2 1322.0,711.0 1322.3,718.1 1322.6,710.5 1322.8,721.8 1323.1,714.0 1323.4,717.6 1323.7,711.5 1324.0,721.1 1324.3,712.1 1324.5,722.1 1324.8,711.9 1325.1,721.1 1325.4,713.9 1325.7,721.9 1326.0,714.2 1326.2,720.5 1326.5,711.5 1326.8,721.8 1327.1,710.8 1327.4,720.7 1327.7,711.2 1328.0,721.5 1328.2,711.4 1328.5,721.2 1328.8,711.1 1329.1,722.1 1329.4,711.7 1329.7,719.5 1329.9,710.1 1330.2,720.4 1330.5,712.3 1330.8,720.6 1331.1,711.8 1331.4,719.6 1331.6,712.0 1331.9,719.3 1332.2,710.0 1332.5,720.8 1332.8,709.7 1333.1,718.6 1333.3,709.6 1333.6,721.4 1333.9,710.9 1334.2,722.3 1334.5,711.3 1334.8,718.4 1335.1,708.8 1335.3,721.5 1335.6,711.5 1335.9,720.9 1336.2,710.5 1336.5,720.3 1336.8,711.0 1337.0,718.9 1337.3,710.7 1337.6,719.4 1337.9,712.2 1338.2,719.0 1338.5,711.2 1338.7,721.3 1339.0,711.8 1339.3,719.4 1339.6,714.3 1339.9,718.7 1340.2,711.5 1340.4,719.6 1340.7,713.7 1341.0,721.4 1341.3,711.5 1341.6,718.1 1341.9,710.0 1342.2,721.0 1342.4,706.7 1342.7,718.4 1343.0,761.6 1343.3,810.4 1343.6,830.3 1343.9,861.1 1344.1,867.0 1344.4,885.4 1344.7,887.3 1345.0,900.6 1345.3,897.1 1345.6,910.4 1345.8,902.0 1346.1,915.5 1346.4,905.5 1346.7,916.9 1347.0,907.9 1347.3,918.4 1347.5,911.8 1347.8,918.4 1348.1,907.9 1348.4,917.2 1348.7,910.9 1349.0,918.4 1349.3,911.0 1349.5,920.5 1349.8,908.6 1350.1,920.4 1350.4,911.9 1350.7,917.9 1351.0,912.5 1351.2,920.2 1351.5,909.3 1351.8,917.0 1352.1,911.5 1352.4,918.1 1352.7,909.3 1352.9,919.0 1353.2,912.2 1353.5,918.3 1353.8,910.5 1354.1,917.9 1354.4,910.2 1354.6,919.3 1354.9,909.6 1355.2,916.8 1355.5,908.7 1355.8,920.5 1356.1,908.7 1356.4,918.8 1356.6,910.1 1356.9,920.1 1357.2,909.3 1357.5,920.0 1357.8,911.2 1358.1,918.9 1358.3,912.3 1358.6,917.5 1358.9,912.0 1359.2,919.5 1359.5,909.0 1359.8,918.2 1360.0,912.4 1360.3,918.6 1360.6,909.4 1360.9,919.4 1361.2,909.4 1361.5,920.4 1361.7,908.8 1362.0,920.5 1362.3,910.2 1362.6,917.1 1362.9,904.3 1363.2,920.1 1363.5,912.2 1363.7,917.0 1364.0,910.5 1364.3,917.0 1364.6,910.4 1364.9,917.3 1365.2,909.3 1365.4,917.6 1365.7,909.8 1366.0,919.5 1366.3,909.7 1366.6,920.6 1366.9,912.4 1367.1,918.6 1367.4,906.3 1367.7,919.5 1368.0,908.4 1368.3,917.8 1368.6,913.0 1368.8,921.3 1369.1,911.3 1369.4,919.9 1369.7,912.5 1370.0,923.7 1370.3,909.7 1370.6,920.4 1370.8,912.8 1371.1,919.8 1371.4,912.7 1371.7,920.1 1372.0,912.8 1372.3,916.9 1372.5,910.9 1372.8,919.1 1373.1,911.2 1373.4,920.4 1373.7,909.6 1374.0,920.6 1374.2,912.5 1374.5,919.5 1374.8,912.5 1375.1,918.9 1375.4,912.5 1375.7,919.8 1375.9,911.2 1376.2,920.0 1376.5,912.6 1376.8,919.9 1377.1,912.2 1377.4,917.4 1377.7,910.6 1377.9,919.5 1378.2,910.4 1378.5,918.0 1378.8,910.6 1379.1,920.1 1379.4,908.5 1379.6,919.6 1379.9,911.3 1380.2,920.6 1380.5,909.9 1380.8,925.0 1381.1,908.8 1381.3,919.5 1381.6,910.8 1381.9,917.6 1382.2,908.9 1382.5,920.8 1382.8,911.5 1383.0,918.9 1383.3,913.0 1383.6,917.1 1383.9,904.9 1384.2,920.5 1384.5,909.2 1384.8,916.8 1385.0,912.1 1385.3,919.0 1385.6,909.6 1385.9,919.4 1386.2,911.3 1386.5,917.7 1386.7,912.0 1387.0,918.7 1387.3,910.6 1387.6,917.6 1387.9,908.9 1388.2,918.7 1388.4,909.1 1388.7,916.8 1389.0,910.1 1389.3,920.0 1389.6,912.0 1389.9,920.1 1390.1,911.8 1390.4,919.6 1390.7,910.5 1391.0,918.5" fill="none" stroke="#b8180e" stroke-width="1.2" stroke-linejoin="bevel"/>
<path d="M1200.4,899 V984 M825.5,716 V695.5 M1263.5,958 V944" stroke="#8a10ff" stroke-width="1.3"/>
<path d="M1390.2,868 V922" stroke="#b8180e" stroke-width="1.3"/>
</g>
<g clip-path="url(#clipic)"><g filter="url(#grain)">
<rect x="177.8" y="730.4" width="456.40000000000003" height="268.6" fill="#868686"/>
<ellipse cx="245" cy="880" rx="40" ry="115" transform="rotate(40 245 880)" fill="#a0a0a0" filter="url(#blur14)"/>
<path d="M225,1020 L295,895 L425,912 L425,1020 Z" fill="#585858" filter="url(#blur12)"/>
<path d="M285,1020 L325,925 L418,930 L410,1020 Z" fill="#363636" filter="url(#blur9)"/>
<path d="M335,843 C355,830 395,835 412,852 C428,868 428,900 420,922 C410,945 390,960 368,962 C345,960 325,945 312,920 C305,895 315,858 335,843 Z" fill="#101010" filter="url(#blur5)"/>
<ellipse cx="338" cy="926" rx="15" ry="9" fill="#4a4a4a" filter="url(#blur5)"/>
<circle cx="541.9" cy="789" r="4" fill="#5e5e5e" filter="url(#blur15)"/>
<circle cx="609.5" cy="813.6" r="3.5" fill="#5a5a5a" filter="url(#blur15)"/>
<circle cx="453.5" cy="943.7" r="3.5" fill="#5e5e5e" filter="url(#blur15)"/>
<circle cx="209" cy="951.5" r="3" fill="#6a6a6a" filter="url(#blur15)"/>
<circle cx="385.9" cy="743.4" r="3" fill="#777" filter="url(#blur15)"/>
<circle cx="566.6" cy="735.6" r="3" fill="#7a7a7a" filter="url(#blur15)"/>
</g>
<circle cx="375.5" cy="789" r="42" fill="url(#glowc)"/>
</g>
<rect x="177.8" y="730.4" width="456.40000000000003" height="268.6" rx="3" fill="none" stroke="#000" stroke-width="3"/>
<polygon points="354.1,736.1 514.6,891.7 297.4,949.4" fill="none" stroke="#fff" stroke-width="1.8" stroke-dasharray="6 3.5"/>
<ellipse cx="355.5" cy="904.7" rx="73.1" ry="74.2" fill="none" stroke="#ff1c1c" stroke-width="5.8" stroke-linecap="round" stroke-dasharray="0 11.03" stroke-dashoffset="5.5"/>
<circle cx="375.5" cy="789" r="18.9" fill="none" stroke="#000" stroke-width="2.4" stroke-dasharray="6.5 3.4"/>
<line x1="391" y1="777.2" x2="428.8" y2="760.3" stroke="#000" stroke-width="2"/>
<text x="431.3" y="768.1" font-size="34.7" fill="#000">Light spot</text>
<text x="213.5" y="848.7" font-size="34.5" fill="#ff1c1c">UME</text>
<text x="503.5" y="956.7" font-size="35" fill="#fff">20 μm</text>
<rect x="499" y="968.6" width="108" height="5" fill="#fff"/>
<g clip-path="url(#clipid)"><g filter="url(#grain)">
<rect x="883.2" y="431.4" width="455.39999999999986" height="268.20000000000005" fill="#bcbcbc"/>
<ellipse cx="905" cy="600" rx="40" ry="120" transform="rotate(30 905 600)" fill="#c3c3c3" filter="url(#blur18)"/>
<path d="M870,730 L990,550 L1115,565 L1085,730 Z" fill="#7a7a7a" filter="url(#blur16)"/>
<path d="M1030,555 L1075,560 L1005,690 L965,690 Z" fill="#3e3e3e" filter="url(#blur9)"/>
<path d="M1010,570 L1100,560 L1085,610 L1030,625 Z" fill="#444" filter="url(#blur9)"/>
<path d="M1008,470 C1030,445 1075,440 1100,455 C1115,465 1125,480 1128,495" fill="none" stroke="#e6e6e6" stroke-width="9" filter="url(#blur3)"/>
<path d="M1010,480 C1030,455 1075,452 1100,470 C1120,488 1125,520 1115,550 C1105,575 1085,592 1060,592 C1035,590 1015,570 1005,545 C995,520 995,500 1010,480 Z" fill="#383838" filter="url(#blur5)"/>
<ellipse cx="1080" cy="500" rx="36" ry="33" fill="#6c6c6c" filter="url(#blur8)"/>
<path d="M1018,468 C1035,470 1050,490 1052,515 C1053,535 1045,548 1030,548 C1015,545 1008,525 1008,500 C1008,485 1010,472 1018,468 Z" fill="#141414" filter="url(#blur5)"/>
<path d="M1050,560 C1065,545 1095,535 1114,522 C1118,550 1100,580 1072,587 C1058,585 1050,575 1050,560 Z" fill="#0e0e0e" filter="url(#blur5)"/>
<ellipse cx="1028" cy="556" rx="11" ry="10" fill="#7c7c7c" filter="url(#blur5)"/>
<circle cx="1263.3" cy="500.4" r="4" fill="#8a8a8a" filter="url(#blur15)"/>
<circle cx="1247.9" cy="505.5" r="3.5" fill="#909090" filter="url(#blur15)"/>
<circle cx="1230" cy="513" r="3" fill="#959595" filter="url(#blur15)"/>
<circle cx="1319.4" cy="529.7" r="3.5" fill="#7a7a7a" filter="url(#blur15)"/>
<circle cx="1154.7" cy="668.9" r="4" fill="#7e7e7e" filter="url(#blur15)"/>
<circle cx="900.5" cy="675.3" r="3.5" fill="#8a8a8a" filter="url(#blur15)"/>
<circle cx="1276" cy="450.5" r="3" fill="#9a9a9a" filter="url(#blur15)"/>
<circle cx="1281" cy="575.7" r="3" fill="#a0a0a0" filter="url(#blur15)"/>
<circle cx="1073.7" cy="502.4" r="3.2" fill="#fff"/>
</g></g>
<rect x="883.2" y="431.4" width="455.39999999999986" height="268.20000000000005" rx="3" fill="none" stroke="#000" stroke-width="3"/>
<polygon points="1058.9,455.1 1219.8,611 1003.2,667.7" fill="none" stroke="#fff" stroke-width="1.8" stroke-dasharray="6 3.5"/>
<circle cx="1060.2" cy="509.3" r="74.1" fill="none" stroke="#ff1c1c" stroke-width="5.8" stroke-linecap="round" stroke-dasharray="0 11.085" stroke-dashoffset="5.54"/>
<circle cx="1071.7" cy="502.9" r="19.2" fill="none" stroke="#000" stroke-width="2.4" stroke-dasharray="6.5 3.4"/>
<line x1="1087" y1="494" x2="1126.6" y2="476.1" stroke="#000" stroke-width="2"/>
<text x="1127.7" y="483.7" font-size="34.7" fill="#000">Light spot</text>
<text x="896" y="494.5" font-size="34.5" fill="#ff1c1c">UME</text>
<text x="1209" y="663" font-size="35" fill="#fff">20 μm</text>
<rect x="1204.5" y="676.2" width="107.8" height="4.8" fill="#fff"/>
<rect x="120" y="431" width="568" height="568" fill="none" stroke="#000" stroke-width="3"/>
<text x="103.7" y="441.2" font-size="31.3" fill="#000" text-anchor="end">2.0</text>
<text x="103.7" y="512.2" font-size="31.3" fill="#000" text-anchor="end">1.5</text>
<text x="103.7" y="583.2" font-size="31.3" fill="#000" text-anchor="end">1.0</text>
<text x="103.7" y="654.2" font-size="31.3" fill="#000" text-anchor="end">0.5</text>
<text x="103.7" y="725.2" font-size="31.3" fill="#000" text-anchor="end">0.0</text>
<text x="103.7" y="796.2" font-size="31.3" fill="#000" text-anchor="end">-0.5</text>
<text x="103.7" y="867.2" font-size="31.3" fill="#000" text-anchor="end">-1.0</text>
<text x="103.7" y="938.2" font-size="31.3" fill="#000" text-anchor="end">-1.5</text>
<text x="103.7" y="1009.2" font-size="31.3" fill="#000" text-anchor="end">-2.0</text>
<text x="120.0" y="1039" font-size="31.3" fill="#000" text-anchor="middle">0</text>
<text x="214.7" y="1039" font-size="31.3" fill="#000" text-anchor="middle">10</text>
<text x="309.3" y="1039" font-size="31.3" fill="#000" text-anchor="middle">20</text>
<text x="404.0" y="1039" font-size="31.3" fill="#000" text-anchor="middle">30</text>
<text x="498.7" y="1039" font-size="31.3" fill="#000" text-anchor="middle">40</text>
<text x="593.3" y="1039" font-size="31.3" fill="#000" text-anchor="middle">50</text>
<text x="688.0" y="1039" font-size="31.3" fill="#000" text-anchor="middle">60</text>
<path d="M108,431H120 M108,502H120 M108,573H120 M108,644H120 M108,715H120 M108,786H120 M108,857H120 M108,928H120 M108,999H120 M114,466.5H120 M114,537.5H120 M114,608.5H120 M114,679.5H120 M114,750.5H120 M114,821.5H120 M114,892.5H120 M114,963.5H120 M120.0,999V1011 M214.7,999V1011 M309.3,999V1011 M404.0,999V1011 M498.7,999V1011 M593.3,999V1011 M688.0,999V1011 M167.3,999V1005 M262.0,999V1005 M356.7,999V1005 M451.3,999V1005 M546.0,999V1005 M640.7,999V1005" stroke="#000" stroke-width="3" fill="none"/>
<rect x="823" y="432" width="568" height="568" fill="none" stroke="#000" stroke-width="3"/>
<text x="806.7" y="442.2" font-size="31.3" fill="#000" text-anchor="end">2.0</text>
<text x="806.7" y="513.2" font-size="31.3" fill="#000" text-anchor="end">1.5</text>
<text x="806.7" y="584.2" font-size="31.3" fill="#000" text-anchor="end">1.0</text>
<text x="806.7" y="655.2" font-size="31.3" fill="#000" text-anchor="end">0.5</text>
<text x="806.7" y="726.2" font-size="31.3" fill="#000" text-anchor="end">0.0</text>
<text x="806.7" y="797.2" font-size="31.3" fill="#000" text-anchor="end">-0.5</text>
<text x="806.7" y="868.2" font-size="31.3" fill="#000" text-anchor="end">-1.0</text>
<text x="806.7" y="939.2" font-size="31.3" fill="#000" text-anchor="end">-1.5</text>
<text x="806.7" y="1010.2" font-size="31.3" fill="#000" text-anchor="end">-2.0</text>
<text x="823.0" y="1039" font-size="31.3" fill="#000" text-anchor="middle">0</text>
<text x="917.7" y="1039" font-size="31.3" fill="#000" text-anchor="middle">10</text>
<text x="1012.3" y="1039" font-size="31.3" fill="#000" text-anchor="middle">20</text>
<text x="1107.0" y="1039" font-size="31.3" fill="#000" text-anchor="middle">30</text>
<text x="1201.7" y="1039" font-size="31.3" fill="#000" text-anchor="middle">40</text>
<text x="1296.3" y="1039" font-size="31.3" fill="#000" text-anchor="middle">50</text>
<text x="1391.0" y="1039" font-size="31.3" fill="#000" text-anchor="middle">60</text>
<path d="M811,432H823 M811,503H823 M811,574H823 M811,645H823 M811,716H823 M811,787H823 M811,858H823 M811,929H823 M811,1000H823 M817,467.5H823 M817,538.5H823 M817,609.5H823 M817,680.5H823 M817,751.5H823 M817,822.5H823 M817,893.5H823 M817,964.5H823 M823.0,1000V1012 M917.7,1000V1012 M1012.3,1000V1012 M1107.0,1000V1012 M1201.7,1000V1012 M1296.3,1000V1012 M1391.0,1000V1012 M870.3,1000V1006 M965.0,1000V1006 M1059.7,1000V1006 M1154.3,1000V1006 M1249.0,1000V1006 M1343.7,1000V1006" stroke="#000" stroke-width="3" fill="none"/>
<line x1="140.5" y1="457.1" x2="191.8" y2="457.1" stroke="#6400ff" stroke-width="3" stroke-linecap="round"/>
<line x1="140.5" y1="490.7" x2="191.8" y2="490.7" stroke="#d4a020" stroke-width="3" stroke-linecap="round"/>
<line x1="140.5" y1="522" x2="191.8" y2="522" stroke="#a60800" stroke-width="3" stroke-linecap="round"/>
<text x="206.3" y="467.2" font-size="35" fill="#000">Transition C</text>
<text x="206.3" y="501.2" font-size="35" fill="#000">Exciton B</text>
<text x="206.3" y="534.6" font-size="35" fill="#000">Exciton A</text>
<text x="405.6" y="1085.7" font-size="35.6" fill="#000" text-anchor="middle">Time (s)</text>
<text x="1108.8" y="1085.7" font-size="35.6" fill="#000" text-anchor="middle">Time (s)</text>
<text transform="translate(29.5,715.3) rotate(-90)" font-size="35" text-anchor="middle">ΔI (pA)</text>
<text transform="translate(730.8,715.2) rotate(-90)" font-size="35" text-anchor="middle">ΔI (pA)</text>
<text x="1418" y="448.9" font-size="53.5" fill="#000" font-weight="bold">e</text>
<circle cx="1713" cy="716" r="284" fill="#d8d8d8"/>
<polygon points="1643.5,482.5 1964.2,785.3 1964.2,792.2 1539,896 1535.3,889.5" fill="url(#trig)"/>
<circle cx="1679" cy="590.2" r="35" fill="url(#hglow2)" filter="url(#speck)"/>
<circle cx="1679" cy="590.2" r="26" fill="url(#hglow3)"/>
<circle cx="1679" cy="590.2" r="19.4" fill="#2a00f5"/>
<circle cx="1679" cy="590.2" r="19.4" fill="none" stroke="#000" stroke-width="2.2" stroke-dasharray="5.5 3"/>
<text x="1664.6" y="602.3" font-size="34" fill="#fff">h</text>
<text x="1684.6" y="591" font-size="21" fill="#fff">+</text>
<line x1="1623" y1="561" x2="1664" y2="580" stroke="#000" stroke-width="2"/>
<text x="1549.8" y="519.4" font-size="35" fill="#000">Light</text>
<text x="1552.5" y="560.7" font-size="35" fill="#000">spot</text>
<path d="M1697.6,513.7 C1690,530 1684,548 1684.6,556 C1685,566 1692,574 1700.2,574 C1710,573 1722,563 1730.5,552.5 L1740.3,550.3 L1735.8,534.2 L1719.2,539.3 L1723.3,543.3 C1716,553 1706,562 1696.6,567 C1694,556 1697,538 1708.2,519.2 Z" fill="#fff"/>
<text x="1670.5" y="508.6" font-size="34.4" fill="#fff">Red</text>
<text x="1736.6" y="537.2" font-size="35" fill="#fff">Ox</text>
<polygon points="1642.1,646.8 1665.4,652.9 1626.2,795.7 1638.7,799.6 1604.5,825.8 1590.8,785.9 1603.3,789.3" fill="#000"/>
<polygon points="1680.9,658.2 1703.2,652.9 1737.9,796.6 1750.5,793.9 1734.5,833.1 1703.2,805.3 1715.1,801.9" fill="#000"/>
<polygon points="1719.7,642.9 1735.6,627.8 1839.4,733.4 1848.5,725.5 1854.2,767.2 1812.7,758.5 1822.3,750.5" fill="#000"/>
<text x="1674" y="646.8" font-size="32" fill="#000">e</text>
<text x="1692.5" y="636.5" font-size="19" fill="#000">-</text>
<text x="1633.3" y="846.8" font-size="32" fill="#000">e</text>
<text x="1652.6" y="834.5" font-size="19" fill="#000">-</text>
<path d="M1653.5,911.8 C1646,895 1641,878 1641.5,868 C1642,857 1650,852.5 1659.2,852.5 C1668,853 1680,862 1687,872 L1696.3,875.9 L1692.3,891.8 L1675.2,887.8 L1679.5,884.5 C1672,873 1660,862 1653,859 C1650,870 1655,888 1664.3,906.1 Z" fill="#000"/>
<text x="1683.5" y="920.9" font-size="34.2" fill="#000">Red</text>
<text x="1634.2" y="940.3" font-size="34" fill="#000">Ox</text>
<text x="1859.5" y="791.4" font-size="34.6" fill="#000">MoS</text>
<text x="1930.5" y="802.4" font-size="19.5" fill="#000">2</text>
<text x="1838.8" y="899.5" font-size="35.2" fill="#000">SiO</text>
<text x="1896.5" y="910.5" font-size="19.5" fill="#000">2</text>
</svg>
</body></html>
